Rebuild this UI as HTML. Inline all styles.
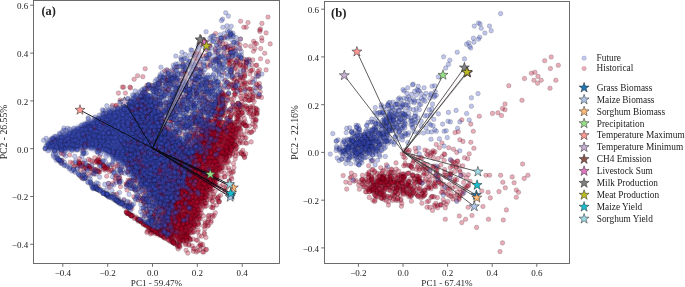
<!DOCTYPE html><html><head><meta charset="utf-8"><style>
html,body{margin:0;padding:0;background:#fff;width:685px;height:287px;overflow:hidden}
svg{position:absolute;left:0;top:0}
.fr{fill:none;stroke:#5c5c5c;stroke-width:0.9}
.tk{stroke:#5c5c5c;stroke-width:0.9}
text{font-family:"Liberation Serif",serif;fill:#222}
.txt{opacity:0.995}
.tl{font-size:9px}
.al{font-size:9.1px}
.pl{font-size:12.3px;font-weight:bold}
.yl{font-size:9.7px}
.lg{font-size:9.3px}
.st{stroke:#222;stroke-width:0.5;stroke-linejoin:miter}
.lf{fill:#3b4cc0;fill-opacity:0.33;stroke:#000;stroke-opacity:0.12;stroke-width:0.5}
.lh{fill:#b40426;fill-opacity:0.33;stroke:#000;stroke-opacity:0.12;stroke-width:0.5}
.bl circle{r:2.3px;fill:#3b4cc0;fill-opacity:0.33;stroke:#000;stroke-opacity:0.3;stroke-width:0.5}
.rd circle{r:2.3px;fill:#b40426;fill-opacity:0.33;stroke:#000;stroke-opacity:0.3;stroke-width:0.5}
.arA line{stroke:#0a0a14;stroke-width:0.9}
.arA.wh line{stroke:#fff;stroke-opacity:0.35;stroke-width:2.0}
.arB line{stroke:#333;stroke-width:0.8}
.arB.wh line{stroke:#fff;stroke-opacity:0.5;stroke-width:2.4}
</style></head><body><svg width="685" height="287" viewBox="0 0 685 287"><clipPath id="ca"><rect x="33.5" y="0.5" width="246.0" height="263.0"/></clipPath><g clip-path="url(#ca)"><defs><filter id="bl3" x="-10%" y="-10%" width="120%" height="120%"><feGaussianBlur stdDeviation="1.8"/></filter></defs><g filter="url(#bl3)"><path d="M202,125 L198,135 L192,150 L183,165 L177,180 L171,195 L165,210 L160.2,222 L155,235 L170,238 L180,243 L186,243 L190,238 L189.7,235 L196.2,222 L201,210 L207,195 L217,180 L223,165 L234,150 L238,135 L240.7,125Z" fill="#9a122c" fill-opacity="0.93"/><path d="M46,149 L46,143 L49,139 L57,135.5 L68,131 L80,125 L94,118 L108,112 L122,105 L135,98 L145,93 L152,96 L158,106 L163,120 L170,132 L182,142 L198,150 L183,180 L171,210 L171,224 L166,215 L158,205 L149,194 L141,183 L130,171 L116,160 L102,152 L88,149 L77,150 L60,152 L46,150Z" fill="#303f9c"/></g><g class="rd"><circle cx="220.2" cy="136.5" r="2.3"/><circle cx="193.3" cy="218.1" r="2.3"/><circle cx="204.6" cy="182.6" r="2.3"/><circle cx="177.8" cy="234.8" r="2.3"/><circle cx="220.6" cy="169.1" r="2.3"/><circle cx="207" cy="193.3" r="2.3"/><circle cx="190.4" cy="189.1" r="2.3"/><circle cx="204.5" cy="192" r="2.3"/><circle cx="241.3" cy="122.8" r="2.3"/><circle cx="228.3" cy="112" r="2.3"/><circle cx="196.9" cy="206.1" r="2.3"/><circle cx="206.8" cy="182.3" r="2.3"/><circle cx="237.8" cy="118.5" r="2.3"/><circle cx="208.5" cy="142.6" r="2.3"/><circle cx="213.8" cy="172.3" r="2.3"/><circle cx="205" cy="176.5" r="2.3"/><circle cx="220.9" cy="135.9" r="2.3"/><circle cx="213.1" cy="177.2" r="2.3"/><circle cx="175.4" cy="221.7" r="2.3"/><circle cx="190.7" cy="239.7" r="2.3"/><circle cx="218.9" cy="141.6" r="2.3"/><circle cx="188.3" cy="189.6" r="2.3"/><circle cx="199.6" cy="170" r="2.3"/><circle cx="213.2" cy="184.1" r="2.3"/><circle cx="168.9" cy="233.6" r="2.3"/><circle cx="203.6" cy="157.9" r="2.3"/><circle cx="205.8" cy="149.4" r="2.3"/><circle cx="224.5" cy="115.7" r="2.3"/><circle cx="192" cy="190.6" r="2.3"/><circle cx="222.3" cy="167.4" r="2.3"/><circle cx="226.1" cy="111.3" r="2.3"/><circle cx="231.1" cy="130.6" r="2.3"/><circle cx="201.4" cy="195.4" r="2.3"/><circle cx="215.2" cy="166.9" r="2.3"/><circle cx="205.7" cy="156" r="2.3"/><circle cx="202.5" cy="204.2" r="2.3"/><circle cx="230.4" cy="146.5" r="2.3"/><circle cx="180.1" cy="225.6" r="2.3"/><circle cx="213.5" cy="143.6" r="2.3"/><circle cx="177.2" cy="232" r="2.3"/><circle cx="229" cy="112.2" r="2.3"/><circle cx="183.3" cy="231.2" r="2.3"/><circle cx="191.4" cy="179.6" r="2.3"/><circle cx="208.1" cy="163.9" r="2.3"/><circle cx="194.5" cy="224.7" r="2.3"/><circle cx="238.2" cy="110.1" r="2.3"/><circle cx="206.5" cy="163.8" r="2.3"/><circle cx="222.7" cy="129.6" r="2.3"/><circle cx="198.1" cy="216.5" r="2.3"/><circle cx="186.2" cy="214.5" r="2.3"/><circle cx="227.2" cy="143.7" r="2.3"/><circle cx="180.6" cy="208.5" r="2.3"/><circle cx="194.8" cy="215.5" r="2.3"/><circle cx="216.5" cy="161" r="2.3"/><circle cx="182.9" cy="227.4" r="2.3"/><circle cx="207.6" cy="195.7" r="2.3"/><circle cx="233.4" cy="137.5" r="2.3"/><circle cx="203.6" cy="205.9" r="2.3"/><circle cx="209.2" cy="170" r="2.3"/><circle cx="201.7" cy="191.4" r="2.3"/><circle cx="219.2" cy="125.9" r="2.3"/><circle cx="215.3" cy="157.8" r="2.3"/><circle cx="223.3" cy="151" r="2.3"/><circle cx="230.1" cy="116.6" r="2.3"/><circle cx="199.9" cy="181.5" r="2.3"/><circle cx="234.5" cy="108.2" r="2.3"/><circle cx="239" cy="112.5" r="2.3"/><circle cx="178.4" cy="224.3" r="2.3"/><circle cx="186.8" cy="232.3" r="2.3"/><circle cx="197.2" cy="185.1" r="2.3"/><circle cx="194.9" cy="178.8" r="2.3"/><circle cx="189.1" cy="203.2" r="2.3"/><circle cx="174.5" cy="227.4" r="2.3"/><circle cx="194.1" cy="189.5" r="2.3"/><circle cx="211.5" cy="151.2" r="2.3"/><circle cx="222.5" cy="114.1" r="2.3"/><circle cx="227.1" cy="148.5" r="2.3"/><circle cx="238.4" cy="119.9" r="2.3"/><circle cx="185.3" cy="227.2" r="2.3"/><circle cx="175.9" cy="226.9" r="2.3"/><circle cx="185" cy="214.2" r="2.3"/><circle cx="211.7" cy="185.1" r="2.3"/><circle cx="233.6" cy="112.8" r="2.3"/><circle cx="187.9" cy="214.7" r="2.3"/><circle cx="178.1" cy="215.1" r="2.3"/><circle cx="204.1" cy="179.3" r="2.3"/><circle cx="232.5" cy="147.1" r="2.3"/><circle cx="195.9" cy="190.4" r="2.3"/><circle cx="173.1" cy="232.9" r="2.3"/><circle cx="243.1" cy="115.2" r="2.3"/><circle cx="183.2" cy="235.8" r="2.3"/><circle cx="187.2" cy="191" r="2.3"/><circle cx="224.7" cy="155.2" r="2.3"/><circle cx="215.8" cy="164.6" r="2.3"/><circle cx="184.1" cy="224.5" r="2.3"/><circle cx="182.9" cy="202.9" r="2.3"/><circle cx="192.1" cy="187.4" r="2.3"/><circle cx="230.7" cy="142" r="2.3"/><circle cx="176.8" cy="230.5" r="2.3"/><circle cx="204.8" cy="197.6" r="2.3"/><circle cx="229.6" cy="134.2" r="2.3"/><circle cx="209.1" cy="145.2" r="2.3"/><circle cx="207.9" cy="175.8" r="2.3"/><circle cx="215.6" cy="132.4" r="2.3"/><circle cx="196.2" cy="168.7" r="2.3"/><circle cx="211.5" cy="191.2" r="2.3"/><circle cx="192.2" cy="214.3" r="2.3"/><circle cx="196.4" cy="168.5" r="2.3"/><circle cx="232" cy="139.4" r="2.3"/><circle cx="206.6" cy="187.8" r="2.3"/><circle cx="228.9" cy="140.9" r="2.3"/><circle cx="210.6" cy="157.3" r="2.3"/><circle cx="206.9" cy="200.1" r="2.3"/><circle cx="201.2" cy="209.7" r="2.3"/><circle cx="230.5" cy="116.7" r="2.3"/><circle cx="195.1" cy="211.1" r="2.3"/><circle cx="210.8" cy="153.6" r="2.3"/><circle cx="182.7" cy="203.1" r="2.3"/><circle cx="214.8" cy="161.9" r="2.3"/><circle cx="213.6" cy="141.7" r="2.3"/><circle cx="192.7" cy="198.9" r="2.3"/><circle cx="231.5" cy="123.3" r="2.3"/><circle cx="194.2" cy="219.1" r="2.3"/><circle cx="238.9" cy="115.3" r="2.3"/><circle cx="212.6" cy="165.5" r="2.3"/><circle cx="210.3" cy="177" r="2.3"/><circle cx="211.2" cy="152.2" r="2.3"/><circle cx="192.7" cy="183.1" r="2.3"/><circle cx="220.4" cy="133.2" r="2.3"/><circle cx="199.8" cy="179.7" r="2.3"/><circle cx="225.7" cy="131.6" r="2.3"/><circle cx="214.5" cy="146.7" r="2.3"/><circle cx="216.5" cy="178.4" r="2.3"/><circle cx="241.4" cy="110.3" r="2.3"/><circle cx="207.1" cy="160.5" r="2.3"/><circle cx="201.2" cy="182.9" r="2.3"/><circle cx="212.4" cy="180.8" r="2.3"/><circle cx="182.5" cy="214.6" r="2.3"/><circle cx="219" cy="126.8" r="2.3"/><circle cx="195.8" cy="181.2" r="2.3"/><circle cx="187.9" cy="190.9" r="2.3"/><circle cx="202.5" cy="163.7" r="2.3"/><circle cx="178.6" cy="218.1" r="2.3"/><circle cx="225.6" cy="138.1" r="2.3"/><circle cx="192.6" cy="205.2" r="2.3"/><circle cx="226.5" cy="156" r="2.3"/><circle cx="206.8" cy="170.4" r="2.3"/><circle cx="233" cy="153.6" r="2.3"/><circle cx="182.2" cy="220.8" r="2.3"/><circle cx="214.8" cy="140" r="2.3"/><circle cx="193.2" cy="221.6" r="2.3"/><circle cx="200.6" cy="198.2" r="2.3"/><circle cx="170.8" cy="237.3" r="2.3"/><circle cx="205" cy="174" r="2.3"/><circle cx="182" cy="217.8" r="2.3"/><circle cx="181.2" cy="204.8" r="2.3"/><circle cx="199.4" cy="171.7" r="2.3"/><circle cx="214.8" cy="181" r="2.3"/><circle cx="204.3" cy="155" r="2.3"/><circle cx="206.7" cy="169.3" r="2.3"/><circle cx="202.3" cy="171.4" r="2.3"/><circle cx="186" cy="243.5" r="2.3"/><circle cx="204.4" cy="155.8" r="2.3"/><circle cx="193.5" cy="187.8" r="2.3"/><circle cx="199.6" cy="199.3" r="2.3"/><circle cx="210.4" cy="181.4" r="2.3"/><circle cx="207.4" cy="146.5" r="2.3"/><circle cx="224.3" cy="152.8" r="2.3"/><circle cx="193.2" cy="197.1" r="2.3"/><circle cx="194.9" cy="191.6" r="2.3"/><circle cx="186.5" cy="201.6" r="2.3"/><circle cx="206.3" cy="195.8" r="2.3"/><circle cx="226.1" cy="157.4" r="2.3"/><circle cx="188.4" cy="198.3" r="2.3"/><circle cx="191.6" cy="176.6" r="2.3"/><circle cx="215.8" cy="184.7" r="2.3"/><circle cx="185.9" cy="215.6" r="2.3"/><circle cx="220.6" cy="130.8" r="2.3"/><circle cx="230" cy="156" r="2.3"/><circle cx="230.3" cy="143.9" r="2.3"/><circle cx="238.8" cy="127.5" r="2.3"/><circle cx="208.4" cy="182.2" r="2.3"/><circle cx="190.2" cy="189" r="2.3"/><circle cx="203.2" cy="188.8" r="2.3"/><circle cx="220.4" cy="125.3" r="2.3"/><circle cx="230.7" cy="110.7" r="2.3"/><circle cx="195.6" cy="226.8" r="2.3"/><circle cx="199.4" cy="218.1" r="2.3"/><circle cx="220.8" cy="120.3" r="2.3"/><circle cx="237.5" cy="115.6" r="2.3"/><circle cx="215.2" cy="138.7" r="2.3"/><circle cx="186.9" cy="236.3" r="2.3"/><circle cx="207.3" cy="174.6" r="2.3"/><circle cx="176" cy="234.5" r="2.3"/><circle cx="216.3" cy="179.5" r="2.3"/><circle cx="174.5" cy="229.6" r="2.3"/><circle cx="222.8" cy="108.2" r="2.3"/><circle cx="210.3" cy="145.7" r="2.3"/><circle cx="237.4" cy="110.1" r="2.3"/><circle cx="185.5" cy="194.2" r="2.3"/><circle cx="228.7" cy="141.1" r="2.3"/><circle cx="186.3" cy="235.6" r="2.3"/><circle cx="181.3" cy="240.2" r="2.3"/><circle cx="236.1" cy="145.6" r="2.3"/><circle cx="216.2" cy="149.9" r="2.3"/><circle cx="203.6" cy="198" r="2.3"/><circle cx="179.2" cy="232" r="2.3"/><circle cx="218" cy="154.9" r="2.3"/><circle cx="222" cy="145.4" r="2.3"/><circle cx="206.3" cy="194.5" r="2.3"/><circle cx="227" cy="141.9" r="2.3"/><circle cx="197.2" cy="167.8" r="2.3"/><circle cx="215.4" cy="185.1" r="2.3"/><circle cx="220.1" cy="156.2" r="2.3"/><circle cx="185" cy="205.2" r="2.3"/><circle cx="187.6" cy="222.9" r="2.3"/><circle cx="202.6" cy="183.9" r="2.3"/><circle cx="216.1" cy="125.1" r="2.3"/><circle cx="238.4" cy="112.7" r="2.3"/><circle cx="201.4" cy="159.7" r="2.3"/><circle cx="215.3" cy="150.2" r="2.3"/><circle cx="186.7" cy="234.1" r="2.3"/><circle cx="216.9" cy="176.8" r="2.3"/><circle cx="224.2" cy="146.8" r="2.3"/><circle cx="185.4" cy="230.3" r="2.3"/><circle cx="202.6" cy="183.4" r="2.3"/><circle cx="213.5" cy="131.5" r="2.3"/><circle cx="183" cy="197.9" r="2.3"/><circle cx="216.5" cy="122.4" r="2.3"/><circle cx="190.8" cy="207.2" r="2.3"/><circle cx="234.9" cy="114.4" r="2.3"/><circle cx="185.4" cy="199" r="2.3"/><circle cx="206.9" cy="186.3" r="2.3"/><circle cx="199.7" cy="186.1" r="2.3"/><circle cx="210.6" cy="152.1" r="2.3"/><circle cx="224.5" cy="126.5" r="2.3"/><circle cx="230.6" cy="123.3" r="2.3"/><circle cx="210.6" cy="140.9" r="2.3"/><circle cx="208" cy="162.1" r="2.3"/><circle cx="189.1" cy="238.4" r="2.3"/><circle cx="224.4" cy="130.7" r="2.3"/><circle cx="190" cy="202.7" r="2.3"/><circle cx="179.1" cy="219.7" r="2.3"/><circle cx="205.5" cy="172.6" r="2.3"/><circle cx="239.8" cy="109.1" r="2.3"/><circle cx="234.7" cy="144" r="2.3"/><circle cx="221.6" cy="171.4" r="2.3"/><circle cx="205.2" cy="186.8" r="2.3"/><circle cx="198.8" cy="189.9" r="2.3"/><circle cx="199.5" cy="176.7" r="2.3"/><circle cx="225.6" cy="149.7" r="2.3"/><circle cx="178.6" cy="213.6" r="2.3"/><circle cx="231.2" cy="124.6" r="2.3"/><circle cx="218.1" cy="164.3" r="2.3"/><circle cx="229.6" cy="152.7" r="2.3"/><circle cx="193.8" cy="227.4" r="2.3"/><circle cx="223.2" cy="145.1" r="2.3"/><circle cx="231.3" cy="139" r="2.3"/><circle cx="226.1" cy="158.2" r="2.3"/><circle cx="181.2" cy="219.2" r="2.3"/><circle cx="212.9" cy="161.5" r="2.3"/><circle cx="204.6" cy="185.9" r="2.3"/><circle cx="225.7" cy="122.4" r="2.3"/><circle cx="236.4" cy="109" r="2.3"/><circle cx="211.1" cy="143.2" r="2.3"/><circle cx="232" cy="122.4" r="2.3"/><circle cx="201.5" cy="161.6" r="2.3"/><circle cx="221.5" cy="140.6" r="2.3"/><circle cx="207" cy="173" r="2.3"/><circle cx="171" cy="234.1" r="2.3"/><circle cx="192.8" cy="223.6" r="2.3"/><circle cx="229.9" cy="121.7" r="2.3"/><circle cx="203.3" cy="167.3" r="2.3"/><circle cx="204.1" cy="191.9" r="2.3"/><circle cx="232.3" cy="154.4" r="2.3"/><circle cx="210.3" cy="161.8" r="2.3"/><circle cx="181" cy="205.2" r="2.3"/><circle cx="219.8" cy="137" r="2.3"/><circle cx="188.3" cy="238" r="2.3"/><circle cx="239.4" cy="128.9" r="2.3"/><circle cx="235.3" cy="144.5" r="2.3"/><circle cx="222.3" cy="122.6" r="2.3"/><circle cx="199.1" cy="200.5" r="2.3"/><circle cx="187.3" cy="224.4" r="2.3"/><circle cx="217.3" cy="148.5" r="2.3"/><circle cx="189.1" cy="213" r="2.3"/><circle cx="179.9" cy="237.6" r="2.3"/><circle cx="209.5" cy="139.9" r="2.3"/><circle cx="214.7" cy="183.3" r="2.3"/><circle cx="200.1" cy="176.8" r="2.3"/><circle cx="221.7" cy="122.2" r="2.3"/><circle cx="226.7" cy="146.1" r="2.3"/><circle cx="224.1" cy="139.6" r="2.3"/><circle cx="191" cy="225.3" r="2.3"/><circle cx="182.9" cy="224" r="2.3"/><circle cx="203.7" cy="182.7" r="2.3"/><circle cx="204.9" cy="173.3" r="2.3"/><circle cx="236.1" cy="148.4" r="2.3"/><circle cx="224.7" cy="129.4" r="2.3"/><circle cx="230.9" cy="115.1" r="2.3"/><circle cx="224.5" cy="129.3" r="2.3"/><circle cx="232.9" cy="130.7" r="2.3"/><circle cx="184.8" cy="234.3" r="2.3"/><circle cx="190.1" cy="181.7" r="2.3"/><circle cx="235.1" cy="137.9" r="2.3"/><circle cx="188.9" cy="197.2" r="2.3"/><circle cx="211.9" cy="168.8" r="2.3"/><circle cx="223.7" cy="122.7" r="2.3"/><circle cx="216" cy="178.7" r="2.3"/><circle cx="196.8" cy="168.2" r="2.3"/><circle cx="194.2" cy="225.2" r="2.3"/><circle cx="187.1" cy="223.4" r="2.3"/><circle cx="207.3" cy="156.4" r="2.3"/><circle cx="192.4" cy="197.6" r="2.3"/><circle cx="217.2" cy="169.1" r="2.3"/><circle cx="208.2" cy="171.1" r="2.3"/><circle cx="199.1" cy="187.1" r="2.3"/><circle cx="199.6" cy="215.8" r="2.3"/><circle cx="185.6" cy="236" r="2.3"/><circle cx="185.9" cy="209.5" r="2.3"/><circle cx="196.2" cy="197.5" r="2.3"/><circle cx="190.5" cy="190.6" r="2.3"/><circle cx="228.2" cy="122.7" r="2.3"/><circle cx="180" cy="241.7" r="2.3"/><circle cx="210.6" cy="168.5" r="2.3"/><circle cx="240.5" cy="114.4" r="2.3"/><circle cx="221.7" cy="112.3" r="2.3"/><circle cx="229" cy="143.6" r="2.3"/><circle cx="205.4" cy="192.4" r="2.3"/><circle cx="192.7" cy="232.7" r="2.3"/><circle cx="201.1" cy="165.6" r="2.3"/><circle cx="198.8" cy="164.2" r="2.3"/><circle cx="195" cy="189.8" r="2.3"/><circle cx="195.7" cy="167.9" r="2.3"/><circle cx="179.8" cy="241.8" r="2.3"/><circle cx="182.4" cy="204.1" r="2.3"/><circle cx="240.1" cy="124.8" r="2.3"/><circle cx="216.8" cy="156.3" r="2.3"/><circle cx="211" cy="177" r="2.3"/><circle cx="240.8" cy="130.7" r="2.3"/><circle cx="201.1" cy="189.9" r="2.3"/><circle cx="193" cy="211.8" r="2.3"/><circle cx="195.3" cy="215.5" r="2.3"/><circle cx="206.6" cy="187.1" r="2.3"/><circle cx="235.9" cy="132.4" r="2.3"/><circle cx="205.9" cy="155.8" r="2.3"/><circle cx="178.3" cy="215.5" r="2.3"/><circle cx="221.5" cy="153.3" r="2.3"/><circle cx="205.1" cy="157.2" r="2.3"/><circle cx="189.8" cy="240.2" r="2.3"/><circle cx="192.3" cy="204.7" r="2.3"/><circle cx="215.1" cy="172.2" r="2.3"/><circle cx="189.7" cy="182.8" r="2.3"/><circle cx="226" cy="153.4" r="2.3"/><circle cx="242.7" cy="111.7" r="2.3"/><circle cx="210.7" cy="189.1" r="2.3"/><circle cx="224.9" cy="153.9" r="2.3"/><circle cx="214.4" cy="155" r="2.3"/><circle cx="181.5" cy="236.8" r="2.3"/><circle cx="203.9" cy="172.9" r="2.3"/><circle cx="230.4" cy="149.9" r="2.3"/><circle cx="238.9" cy="137.2" r="2.3"/><circle cx="173.7" cy="225.4" r="2.3"/><circle cx="192.9" cy="231.2" r="2.3"/><circle cx="190.1" cy="203.9" r="2.3"/><circle cx="214.1" cy="147.7" r="2.3"/><circle cx="217.9" cy="125.4" r="2.3"/><circle cx="179.9" cy="240.8" r="2.3"/><circle cx="212.4" cy="144.1" r="2.3"/><circle cx="184.4" cy="203.4" r="2.3"/><circle cx="233.7" cy="144.9" r="2.3"/><circle cx="190.6" cy="229.5" r="2.3"/><circle cx="197.7" cy="212.8" r="2.3"/><circle cx="188.3" cy="227.1" r="2.3"/><circle cx="193.4" cy="208" r="2.3"/><circle cx="199.8" cy="213.1" r="2.3"/><circle cx="212.7" cy="157.4" r="2.3"/><circle cx="192.1" cy="177.4" r="2.3"/><circle cx="216.5" cy="134.9" r="2.3"/><circle cx="216.6" cy="164.5" r="2.3"/><circle cx="184.4" cy="222.2" r="2.3"/><circle cx="232.9" cy="127.2" r="2.3"/><circle cx="171.6" cy="227.4" r="2.3"/><circle cx="238.7" cy="134.7" r="2.3"/><circle cx="179.5" cy="219.4" r="2.3"/><circle cx="205.4" cy="202.8" r="2.3"/><circle cx="202.6" cy="188.4" r="2.3"/><circle cx="193.6" cy="179.5" r="2.3"/><circle cx="235.2" cy="149.8" r="2.3"/><circle cx="202.5" cy="198.1" r="2.3"/><circle cx="197" cy="209.8" r="2.3"/><circle cx="231.7" cy="142.2" r="2.3"/><circle cx="192.4" cy="187.8" r="2.3"/><circle cx="231" cy="134.6" r="2.3"/><circle cx="230.5" cy="117.1" r="2.3"/><circle cx="185.5" cy="244.6" r="2.3"/><circle cx="184.5" cy="214.8" r="2.3"/><circle cx="193.8" cy="226.9" r="2.3"/><circle cx="189.1" cy="225.8" r="2.3"/><circle cx="194.8" cy="189.3" r="2.3"/><circle cx="191.9" cy="193.6" r="2.3"/><circle cx="194.9" cy="189.6" r="2.3"/><circle cx="240.4" cy="129.4" r="2.3"/><circle cx="223.7" cy="162.8" r="2.3"/><circle cx="196.4" cy="175.3" r="2.3"/><circle cx="213.7" cy="138.5" r="2.3"/><circle cx="202.1" cy="187.7" r="2.3"/><circle cx="184.6" cy="237.7" r="2.3"/><circle cx="197.3" cy="177.3" r="2.3"/><circle cx="187.6" cy="198.6" r="2.3"/><circle cx="238.4" cy="116.7" r="2.3"/><circle cx="193.5" cy="178.3" r="2.3"/><circle cx="172.8" cy="229.4" r="2.3"/><circle cx="217" cy="176.5" r="2.3"/><circle cx="192.5" cy="201.6" r="2.3"/><circle cx="194" cy="223.6" r="2.3"/><circle cx="232.3" cy="140.3" r="2.3"/><circle cx="207.3" cy="158.1" r="2.3"/><circle cx="221.6" cy="167.2" r="2.3"/><circle cx="237.4" cy="117" r="2.3"/><circle cx="209.4" cy="149.8" r="2.3"/><circle cx="236.8" cy="122.1" r="2.3"/><circle cx="198.8" cy="219.2" r="2.3"/><circle cx="214.9" cy="139.1" r="2.3"/><circle cx="181.7" cy="230.2" r="2.3"/><circle cx="205.1" cy="157.8" r="2.3"/><circle cx="242.1" cy="112.9" r="2.3"/><circle cx="206.6" cy="161.6" r="2.3"/><circle cx="193.7" cy="176.9" r="2.3"/><circle cx="234.4" cy="124.3" r="2.3"/><circle cx="227.9" cy="130.9" r="2.3"/><circle cx="210.8" cy="177.7" r="2.3"/><circle cx="189.9" cy="238.9" r="2.3"/><circle cx="209.4" cy="178.9" r="2.3"/><circle cx="195.4" cy="196.8" r="2.3"/><circle cx="187.7" cy="208.3" r="2.3"/><circle cx="196.6" cy="213.5" r="2.3"/><circle cx="201.8" cy="191.8" r="2.3"/><circle cx="232.4" cy="125.5" r="2.3"/><circle cx="214.4" cy="160.2" r="2.3"/><circle cx="188.1" cy="233.2" r="2.3"/><circle cx="214.9" cy="184.8" r="2.3"/><circle cx="232.1" cy="140.5" r="2.3"/><circle cx="180.9" cy="228.2" r="2.3"/><circle cx="219.3" cy="169.3" r="2.3"/><circle cx="186.4" cy="239.9" r="2.3"/><circle cx="194" cy="209.8" r="2.3"/><circle cx="216.7" cy="161.5" r="2.3"/><circle cx="188" cy="220.1" r="2.3"/><circle cx="204.3" cy="201.1" r="2.3"/><circle cx="218.3" cy="141.3" r="2.3"/><circle cx="187.3" cy="210.9" r="2.3"/><circle cx="194.7" cy="211.9" r="2.3"/><circle cx="210.4" cy="187.2" r="2.3"/><circle cx="194.6" cy="170.8" r="2.3"/><circle cx="222.9" cy="153.4" r="2.3"/><circle cx="204.5" cy="179.5" r="2.3"/><circle cx="235.2" cy="122.6" r="2.3"/><circle cx="199.7" cy="186.5" r="2.3"/><circle cx="200.9" cy="175.9" r="2.3"/><circle cx="236.4" cy="121.8" r="2.3"/><circle cx="197.9" cy="222.6" r="2.3"/><circle cx="234.8" cy="125.9" r="2.3"/><circle cx="206.3" cy="158.6" r="2.3"/><circle cx="222" cy="152" r="2.3"/><circle cx="237.5" cy="139.9" r="2.3"/><circle cx="183.3" cy="236.2" r="2.3"/><circle cx="213.3" cy="138.9" r="2.3"/><circle cx="236" cy="133.2" r="2.3"/><circle cx="195" cy="182" r="2.3"/><circle cx="230.3" cy="120.1" r="2.3"/><circle cx="184.7" cy="236.8" r="2.3"/><circle cx="186.3" cy="197.7" r="2.3"/><circle cx="186.2" cy="236.5" r="2.3"/><circle cx="218.8" cy="139.9" r="2.3"/><circle cx="189.2" cy="200" r="2.3"/><circle cx="189.3" cy="231.3" r="2.3"/><circle cx="190.5" cy="198.2" r="2.3"/><circle cx="171.7" cy="238.1" r="2.3"/><circle cx="226.2" cy="148.2" r="2.3"/><circle cx="222.9" cy="110.3" r="2.3"/><circle cx="230.3" cy="147.4" r="2.3"/><circle cx="205.4" cy="198.1" r="2.3"/><circle cx="210.2" cy="180.9" r="2.3"/><circle cx="187.1" cy="198.2" r="2.3"/><circle cx="229" cy="121.8" r="2.3"/><circle cx="197.3" cy="201.9" r="2.3"/><circle cx="180.5" cy="207.5" r="2.3"/><circle cx="182.9" cy="223.8" r="2.3"/><circle cx="196" cy="181.3" r="2.3"/><circle cx="223.3" cy="112.2" r="2.3"/><circle cx="205.4" cy="197.3" r="2.3"/><circle cx="197.7" cy="202" r="2.3"/><circle cx="230.1" cy="133.6" r="2.3"/><circle cx="229.2" cy="109.8" r="2.3"/><circle cx="189.8" cy="207.9" r="2.3"/><circle cx="168.8" cy="233.1" r="2.3"/><circle cx="202.5" cy="167.3" r="2.3"/><circle cx="186.5" cy="192.7" r="2.3"/><circle cx="201.3" cy="213.2" r="2.3"/><circle cx="221.7" cy="137.5" r="2.3"/><circle cx="181.5" cy="227.5" r="2.3"/><circle cx="188.4" cy="202.7" r="2.3"/><circle cx="192" cy="203.2" r="2.3"/><circle cx="209.3" cy="185.9" r="2.3"/><circle cx="211.7" cy="133.7" r="2.3"/><circle cx="197.8" cy="177.5" r="2.3"/><circle cx="203.5" cy="163.3" r="2.3"/><circle cx="230.6" cy="139.9" r="2.3"/><circle cx="228.8" cy="118.5" r="2.3"/><circle cx="213.9" cy="141.6" r="2.3"/><circle cx="184.2" cy="219.1" r="2.3"/><circle cx="188.2" cy="236.3" r="2.3"/><circle cx="196.2" cy="175.7" r="2.3"/><circle cx="237.5" cy="121" r="2.3"/><circle cx="215.5" cy="170.4" r="2.3"/><circle cx="192.2" cy="174.8" r="2.3"/><circle cx="220" cy="140.2" r="2.3"/><circle cx="240.4" cy="118.8" r="2.3"/><circle cx="190.4" cy="208.2" r="2.3"/><circle cx="217.7" cy="150.2" r="2.3"/><circle cx="189.6" cy="206.6" r="2.3"/><circle cx="196.6" cy="219.1" r="2.3"/><circle cx="237" cy="128.9" r="2.3"/><circle cx="219.2" cy="140.2" r="2.3"/><circle cx="209.2" cy="157.7" r="2.3"/><circle cx="203.5" cy="153.3" r="2.3"/><circle cx="182" cy="204.7" r="2.3"/><circle cx="184.8" cy="206.5" r="2.3"/><circle cx="222.5" cy="152.2" r="2.3"/><circle cx="187.9" cy="219" r="2.3"/><circle cx="224.8" cy="116" r="2.3"/><circle cx="231.6" cy="147.4" r="2.3"/><circle cx="198.8" cy="217.7" r="2.3"/><circle cx="182.6" cy="227.6" r="2.3"/><circle cx="212.7" cy="162.3" r="2.3"/><circle cx="231.4" cy="149.1" r="2.3"/><circle cx="227.4" cy="150.1" r="2.3"/><circle cx="226.8" cy="124" r="2.3"/><circle cx="197.9" cy="187.1" r="2.3"/><circle cx="218.3" cy="131" r="2.3"/><circle cx="196.6" cy="202.5" r="2.3"/><circle cx="190.6" cy="219.2" r="2.3"/><circle cx="210" cy="189.7" r="2.3"/><circle cx="224.1" cy="109.5" r="2.3"/><circle cx="205" cy="203.5" r="2.3"/><circle cx="180.7" cy="228.1" r="2.3"/><circle cx="187.4" cy="222.1" r="2.3"/><circle cx="202.3" cy="176.6" r="2.3"/><circle cx="195.7" cy="170.9" r="2.3"/><circle cx="217.3" cy="149.2" r="2.3"/><circle cx="185" cy="215.5" r="2.3"/><circle cx="229.4" cy="138.3" r="2.3"/><circle cx="225.9" cy="146.8" r="2.3"/><circle cx="209.7" cy="161" r="2.3"/><circle cx="210.1" cy="192.6" r="2.3"/><circle cx="183" cy="240.6" r="2.3"/><circle cx="208.3" cy="174.2" r="2.3"/><circle cx="168.9" cy="236.6" r="2.3"/><circle cx="182.3" cy="224.6" r="2.3"/><circle cx="211.7" cy="145.9" r="2.3"/><circle cx="226.4" cy="151.5" r="2.3"/><circle cx="188.1" cy="204.9" r="2.3"/><circle cx="227.6" cy="151.8" r="2.3"/><circle cx="181.3" cy="204.1" r="2.3"/><circle cx="194.2" cy="171" r="2.3"/><circle cx="233.1" cy="130" r="2.3"/><circle cx="185.1" cy="193.1" r="2.3"/><circle cx="184.6" cy="195.7" r="2.3"/><circle cx="190.8" cy="216.6" r="2.3"/><circle cx="191.4" cy="232.1" r="2.3"/><circle cx="182" cy="229.7" r="2.3"/><circle cx="199.3" cy="175.3" r="2.3"/><circle cx="192.6" cy="196.9" r="2.3"/><circle cx="236.5" cy="118.5" r="2.3"/><circle cx="198.8" cy="210" r="2.3"/><circle cx="186.3" cy="238.2" r="2.3"/><circle cx="226.2" cy="127.2" r="2.3"/><circle cx="227.3" cy="137.3" r="2.3"/><circle cx="222.1" cy="114.9" r="2.3"/><circle cx="228.8" cy="156.2" r="2.3"/><circle cx="220.3" cy="117.6" r="2.3"/><circle cx="206" cy="161.3" r="2.3"/><circle cx="241.9" cy="112.9" r="2.3"/><circle cx="178.7" cy="239.4" r="2.3"/><circle cx="224.5" cy="132.2" r="2.3"/><circle cx="235.5" cy="113.5" r="2.3"/><circle cx="242.3" cy="123.1" r="2.3"/><circle cx="202.7" cy="191.3" r="2.3"/><circle cx="196.1" cy="205.9" r="2.3"/><circle cx="192.8" cy="216.5" r="2.3"/><circle cx="212.5" cy="171.6" r="2.3"/><circle cx="186.6" cy="198.9" r="2.3"/><circle cx="210.5" cy="174" r="2.3"/><circle cx="211.2" cy="152.8" r="2.3"/><circle cx="212.8" cy="188.5" r="2.3"/><circle cx="199" cy="183.8" r="2.3"/><circle cx="187.8" cy="192.8" r="2.3"/><circle cx="177.2" cy="235.9" r="2.3"/><circle cx="190.6" cy="218.3" r="2.3"/><circle cx="187.3" cy="218.3" r="2.3"/><circle cx="171" cy="229.8" r="2.3"/><circle cx="215.7" cy="161.8" r="2.3"/><circle cx="216.7" cy="123.3" r="2.3"/><circle cx="205.6" cy="184.3" r="2.3"/><circle cx="208.9" cy="147.6" r="2.3"/><circle cx="186.7" cy="240.8" r="2.3"/><circle cx="230.6" cy="124.8" r="2.3"/><circle cx="199.1" cy="196.3" r="2.3"/><circle cx="226.3" cy="158.3" r="2.3"/><circle cx="169.7" cy="236" r="2.3"/><circle cx="204.6" cy="184.4" r="2.3"/><circle cx="201.4" cy="198.1" r="2.3"/><circle cx="233.1" cy="127" r="2.3"/><circle cx="227.3" cy="118.2" r="2.3"/><circle cx="235.7" cy="145.6" r="2.3"/><circle cx="209.1" cy="163.3" r="2.3"/><circle cx="220" cy="153.2" r="2.3"/><circle cx="171.3" cy="239.1" r="2.3"/><circle cx="209.2" cy="178.1" r="2.3"/><circle cx="179" cy="221.2" r="2.3"/><circle cx="195.9" cy="193.5" r="2.3"/><circle cx="195.3" cy="225.2" r="2.3"/><circle cx="225.8" cy="160.5" r="2.3"/><circle cx="221.7" cy="151.8" r="2.3"/><circle cx="223.5" cy="127.7" r="2.3"/><circle cx="201.3" cy="201.8" r="2.3"/><circle cx="210.4" cy="180.9" r="2.3"/><circle cx="214.7" cy="161.7" r="2.3"/><circle cx="194.8" cy="204.9" r="2.3"/><circle cx="182.6" cy="217.3" r="2.3"/><circle cx="191" cy="203.7" r="2.3"/><circle cx="226.5" cy="123.7" r="2.3"/><circle cx="211.4" cy="144.1" r="2.3"/><circle cx="201.8" cy="179.5" r="2.3"/><circle cx="230.1" cy="152.9" r="2.3"/><circle cx="219.6" cy="121.8" r="2.3"/><circle cx="179.3" cy="219.4" r="2.3"/><circle cx="208.3" cy="157.1" r="2.3"/><circle cx="227.5" cy="126.8" r="2.3"/><circle cx="199.1" cy="173" r="2.3"/><circle cx="226.3" cy="120.6" r="2.3"/><circle cx="220.2" cy="167.5" r="2.3"/><circle cx="214.6" cy="154.7" r="2.3"/><circle cx="186.9" cy="208" r="2.3"/><circle cx="225.1" cy="163.2" r="2.3"/><circle cx="242.2" cy="124.6" r="2.3"/><circle cx="230.8" cy="108.6" r="2.3"/><circle cx="231.2" cy="150.1" r="2.3"/><circle cx="183.6" cy="223.1" r="2.3"/><circle cx="217.4" cy="142.6" r="2.3"/><circle cx="216.8" cy="181.6" r="2.3"/><circle cx="207.4" cy="150.9" r="2.3"/><circle cx="196.5" cy="176.5" r="2.3"/><circle cx="244.5" cy="75.4" r="2.3"/><circle cx="235.7" cy="87.6" r="2.3"/><circle cx="246.9" cy="97.2" r="2.3"/><circle cx="247.1" cy="61.9" r="2.3"/><circle cx="236.1" cy="91.4" r="2.3"/><circle cx="250.4" cy="106.7" r="2.3"/><circle cx="251.2" cy="89.1" r="2.3"/><circle cx="246.4" cy="70.3" r="2.3"/><circle cx="244.9" cy="75.8" r="2.3"/><circle cx="235.2" cy="67.6" r="2.3"/><circle cx="234.1" cy="84.3" r="2.3"/><circle cx="224.5" cy="102.2" r="2.3"/><circle cx="232.6" cy="103.5" r="2.3"/><circle cx="231.2" cy="84.3" r="2.3"/><circle cx="249.5" cy="89" r="2.3"/><circle cx="258.2" cy="96.9" r="2.3"/><circle cx="241.1" cy="77.3" r="2.3"/><circle cx="237.7" cy="80.9" r="2.3"/><circle cx="234" cy="94.8" r="2.3"/><circle cx="226.2" cy="100.6" r="2.3"/><circle cx="236" cy="105.4" r="2.3"/><circle cx="231.3" cy="99" r="2.3"/><circle cx="256.3" cy="73.6" r="2.3"/><circle cx="244.5" cy="99.2" r="2.3"/><circle cx="259.7" cy="87.7" r="2.3"/><circle cx="240.1" cy="90" r="2.3"/><circle cx="246.4" cy="60.8" r="2.3"/><circle cx="244.9" cy="107.4" r="2.3"/><circle cx="243.5" cy="65.3" r="2.3"/><circle cx="234.2" cy="106.8" r="2.3"/><circle cx="238.7" cy="59.7" r="2.3"/><circle cx="233.3" cy="87.6" r="2.3"/><circle cx="228.4" cy="83" r="2.3"/><circle cx="241.2" cy="92.9" r="2.3"/><circle cx="233" cy="65.7" r="2.3"/><circle cx="240.5" cy="65.4" r="2.3"/><circle cx="244.3" cy="77.4" r="2.3"/><circle cx="256" cy="65.5" r="2.3"/><circle cx="243.1" cy="70.9" r="2.3"/><circle cx="244.3" cy="84.6" r="2.3"/><circle cx="246.7" cy="93.7" r="2.3"/><circle cx="259.5" cy="69.8" r="2.3"/><circle cx="228.6" cy="100.3" r="2.3"/><circle cx="250.6" cy="99.9" r="2.3"/><circle cx="231.8" cy="69.5" r="2.3"/><circle cx="254.2" cy="101.5" r="2.3"/><circle cx="260.2" cy="92" r="2.3"/><circle cx="246.1" cy="95.8" r="2.3"/><circle cx="252.6" cy="97.8" r="2.3"/><circle cx="236.5" cy="82" r="2.3"/><circle cx="246.4" cy="83.5" r="2.3"/><circle cx="231.9" cy="73" r="2.3"/><circle cx="248.9" cy="59.3" r="2.3"/><circle cx="238.9" cy="104.8" r="2.3"/><circle cx="229.2" cy="84.6" r="2.3"/><circle cx="230.2" cy="61.4" r="2.3"/><circle cx="246.4" cy="106.3" r="2.3"/><circle cx="238.3" cy="107.3" r="2.3"/><circle cx="234.9" cy="93.7" r="2.3"/><circle cx="256.7" cy="65.1" r="2.3"/><circle cx="251.2" cy="71.1" r="2.3"/><circle cx="237.7" cy="63.2" r="2.3"/><circle cx="257.9" cy="71.5" r="2.3"/><circle cx="237.8" cy="103.2" r="2.3"/><circle cx="238.2" cy="87.9" r="2.3"/><circle cx="245.4" cy="99.9" r="2.3"/><circle cx="239.8" cy="105.4" r="2.3"/><circle cx="242.6" cy="104.9" r="2.3"/><circle cx="228.2" cy="60.1" r="2.3"/><circle cx="252.8" cy="78.6" r="2.3"/><circle cx="232.9" cy="103.2" r="2.3"/><circle cx="245.9" cy="66.9" r="2.3"/><circle cx="245" cy="89.2" r="2.3"/><circle cx="245.8" cy="65.7" r="2.3"/><circle cx="257.9" cy="76.4" r="2.3"/><circle cx="244.3" cy="73.1" r="2.3"/><circle cx="237.1" cy="81.6" r="2.3"/><circle cx="232.1" cy="78.2" r="2.3"/><circle cx="252.8" cy="106" r="2.3"/><circle cx="248.7" cy="108.6" r="2.3"/><circle cx="232.7" cy="107.1" r="2.3"/><circle cx="253.2" cy="93.8" r="2.3"/><circle cx="240.4" cy="96.3" r="2.3"/><circle cx="224.4" cy="106.2" r="2.3"/><circle cx="230" cy="64.2" r="2.3"/><circle cx="250" cy="94.9" r="2.3"/><circle cx="239.2" cy="66.6" r="2.3"/><circle cx="229.5" cy="59.7" r="2.3"/><circle cx="244" cy="59" r="2.3"/><circle cx="244.4" cy="83.4" r="2.3"/><circle cx="234" cy="59.5" r="2.3"/><circle cx="238" cy="103.5" r="2.3"/><circle cx="251.5" cy="95.5" r="2.3"/><circle cx="233.9" cy="64.7" r="2.3"/><circle cx="252.8" cy="59.9" r="2.3"/><circle cx="240.4" cy="75.5" r="2.3"/><circle cx="234" cy="87.6" r="2.3"/><circle cx="241.9" cy="101.4" r="2.3"/><circle cx="247.5" cy="109.9" r="2.3"/><circle cx="230.9" cy="72.3" r="2.3"/><circle cx="235.9" cy="63.2" r="2.3"/><circle cx="233.1" cy="83.5" r="2.3"/><circle cx="237.4" cy="71.6" r="2.3"/><circle cx="253" cy="96.5" r="2.3"/><circle cx="258.9" cy="86" r="2.3"/><circle cx="245.2" cy="89" r="2.3"/><circle cx="258.9" cy="73.8" r="2.3"/><circle cx="256.1" cy="83.9" r="2.3"/><circle cx="252.7" cy="99.7" r="2.3"/><circle cx="233.5" cy="88.8" r="2.3"/><circle cx="240" cy="64.4" r="2.3"/><circle cx="235.4" cy="62.5" r="2.3"/><circle cx="249.4" cy="81.9" r="2.3"/><circle cx="246.3" cy="62.3" r="2.3"/><circle cx="242.9" cy="80.6" r="2.3"/><circle cx="244.8" cy="82.1" r="2.3"/><circle cx="235.9" cy="61.8" r="2.3"/><circle cx="229.3" cy="67.1" r="2.3"/><circle cx="243" cy="66.5" r="2.3"/><circle cx="235.4" cy="95.2" r="2.3"/><circle cx="249.2" cy="100.4" r="2.3"/><circle cx="249.9" cy="74.1" r="2.3"/><circle cx="248.6" cy="100.4" r="2.3"/><circle cx="250" cy="89.4" r="2.3"/><circle cx="238.2" cy="57.7" r="2.3"/><circle cx="239.8" cy="61.4" r="2.3"/><circle cx="233.6" cy="98.6" r="2.3"/><circle cx="245.4" cy="105.9" r="2.3"/><circle cx="256.4" cy="96.1" r="2.3"/><circle cx="251.6" cy="91.1" r="2.3"/><circle cx="243.9" cy="61.9" r="2.3"/><circle cx="241.9" cy="106.6" r="2.3"/><circle cx="250.5" cy="108" r="2.3"/><circle cx="237.9" cy="103.2" r="2.3"/><circle cx="250.8" cy="82.9" r="2.3"/><circle cx="240.1" cy="77.4" r="2.3"/><circle cx="236.6" cy="75.2" r="2.3"/><circle cx="240.7" cy="88.7" r="2.3"/><circle cx="247.2" cy="87.7" r="2.3"/><circle cx="241.5" cy="84.7" r="2.3"/><circle cx="233.8" cy="85.3" r="2.3"/><circle cx="233.8" cy="89.3" r="2.3"/><circle cx="234.1" cy="79.1" r="2.3"/><circle cx="240" cy="90.1" r="2.3"/><circle cx="234.8" cy="68.8" r="2.3"/><circle cx="240.3" cy="106.7" r="2.3"/><circle cx="259.2" cy="96.3" r="2.3"/><circle cx="259.4" cy="83.5" r="2.3"/><circle cx="246.6" cy="62.7" r="2.3"/><circle cx="250.9" cy="70.1" r="2.3"/><circle cx="244.1" cy="68.2" r="2.3"/><circle cx="242.4" cy="77.6" r="2.3"/><circle cx="257.1" cy="84.8" r="2.3"/><circle cx="252.6" cy="69.7" r="2.3"/><circle cx="242.1" cy="85.1" r="2.3"/><circle cx="234.3" cy="78.6" r="2.3"/><circle cx="235.1" cy="93.8" r="2.3"/><circle cx="245.2" cy="95.6" r="2.3"/><circle cx="228.8" cy="86.7" r="2.3"/><circle cx="240.3" cy="104.8" r="2.3"/><circle cx="256.2" cy="88.3" r="2.3"/><circle cx="239.9" cy="80.3" r="2.3"/><circle cx="241.2" cy="98.5" r="2.3"/><circle cx="248.8" cy="60.5" r="2.3"/><circle cx="251.8" cy="64.8" r="2.3"/><circle cx="249.6" cy="99.5" r="2.3"/><circle cx="225.8" cy="43.7" r="2.3"/><circle cx="259.8" cy="29.9" r="2.3"/><circle cx="259.9" cy="31.4" r="2.3"/><circle cx="245.5" cy="45.6" r="2.3"/><circle cx="256.4" cy="43.8" r="2.3"/><circle cx="230.5" cy="45.7" r="2.3"/><circle cx="260.7" cy="48.6" r="2.3"/><circle cx="253.6" cy="41.3" r="2.3"/><circle cx="254.9" cy="48.6" r="2.3"/><circle cx="246.2" cy="27.3" r="2.3"/><circle cx="240.6" cy="21.2" r="2.3"/><circle cx="261.7" cy="37.9" r="2.3"/><circle cx="270.2" cy="43.9" r="2.3"/><circle cx="203.9" cy="226.3" r="2.3"/><circle cx="244.7" cy="157.1" r="2.3"/><circle cx="244.4" cy="157.5" r="2.3"/><circle cx="243.1" cy="154.5" r="2.3"/><circle cx="217.9" cy="198.4" r="2.3"/><circle cx="252.7" cy="124" r="2.3"/><circle cx="214.8" cy="191.6" r="2.3"/><circle cx="255.5" cy="126.8" r="2.3"/><circle cx="203.7" cy="252" r="2.3"/><circle cx="257.2" cy="112.9" r="2.3"/><circle cx="228.4" cy="162.2" r="2.3"/><circle cx="235.1" cy="158.9" r="2.3"/><circle cx="177.5" cy="244.8" r="2.3"/><circle cx="233.2" cy="171.4" r="2.3"/><circle cx="249.3" cy="132.8" r="2.3"/><circle cx="197.8" cy="232.1" r="2.3"/><circle cx="193.1" cy="239" r="2.3"/><circle cx="245.1" cy="125.1" r="2.3"/><circle cx="241.7" cy="154" r="2.3"/><circle cx="199.3" cy="235.6" r="2.3"/><circle cx="246.4" cy="126.3" r="2.3"/><circle cx="212.4" cy="207.7" r="2.3"/><circle cx="198.2" cy="230.3" r="2.3"/><circle cx="245.7" cy="143" r="2.3"/><circle cx="196.2" cy="252" r="2.3"/><circle cx="255.1" cy="119.7" r="2.3"/><circle cx="208.4" cy="225.2" r="2.3"/><circle cx="220.1" cy="186.2" r="2.3"/><circle cx="207.7" cy="226" r="2.3"/><circle cx="186.1" cy="250.3" r="2.3"/><circle cx="240.5" cy="142.2" r="2.3"/><circle cx="243.7" cy="155.3" r="2.3"/><circle cx="204.8" cy="228.9" r="2.3"/><circle cx="256.1" cy="110.1" r="2.3"/><circle cx="205" cy="221.7" r="2.3"/><circle cx="248" cy="112.6" r="2.3"/><circle cx="256.1" cy="113.2" r="2.3"/><circle cx="213.4" cy="194.2" r="2.3"/><circle cx="204.1" cy="232.9" r="2.3"/><circle cx="209.1" cy="215.3" r="2.3"/><circle cx="200" cy="245" r="2.3"/><circle cx="243.9" cy="134.6" r="2.3"/><circle cx="256" cy="108.5" r="2.3"/><circle cx="237" cy="147.5" r="2.3"/><circle cx="224.7" cy="176.8" r="2.3"/><circle cx="240.1" cy="141" r="2.3"/><circle cx="224.3" cy="190" r="2.3"/><circle cx="257" cy="114.5" r="2.3"/><circle cx="203.4" cy="248.1" r="2.3"/><circle cx="235.7" cy="156" r="2.3"/><circle cx="203.5" cy="215.9" r="2.3"/><circle cx="205.8" cy="249.8" r="2.3"/><circle cx="244.8" cy="138.4" r="2.3"/><circle cx="256.3" cy="108.7" r="2.3"/><circle cx="211.2" cy="220.9" r="2.3"/><circle cx="243.6" cy="123.5" r="2.3"/><circle cx="189" cy="244.6" r="2.3"/><circle cx="246.9" cy="131.1" r="2.3"/><circle cx="251.3" cy="116.7" r="2.3"/><circle cx="216.6" cy="205.1" r="2.3"/><circle cx="228.2" cy="160.9" r="2.3"/><circle cx="178.2" cy="249" r="2.3"/><circle cx="205.2" cy="223.5" r="2.3"/><circle cx="200.7" cy="245.6" r="2.3"/><circle cx="198.7" cy="223.3" r="2.3"/><circle cx="254.6" cy="125.5" r="2.3"/><circle cx="245.7" cy="153.7" r="2.3"/><circle cx="197.6" cy="240.3" r="2.3"/><circle cx="222.9" cy="184.4" r="2.3"/><circle cx="255.6" cy="121.8" r="2.3"/><circle cx="177.5" cy="247" r="2.3"/><circle cx="229.2" cy="180.8" r="2.3"/><circle cx="238.8" cy="143.5" r="2.3"/><circle cx="214.1" cy="215.6" r="2.3"/><circle cx="202.7" cy="244.5" r="2.3"/><circle cx="187.8" cy="253.1" r="2.3"/><circle cx="237.9" cy="154" r="2.3"/><circle cx="193.3" cy="251.3" r="2.3"/><circle cx="205.3" cy="225.2" r="2.3"/><circle cx="219.3" cy="201.4" r="2.3"/><circle cx="249.5" cy="113.5" r="2.3"/><circle cx="225.4" cy="191.3" r="2.3"/><circle cx="245.2" cy="121.7" r="2.3"/><circle cx="212.1" cy="200.6" r="2.3"/><circle cx="228.6" cy="167.9" r="2.3"/><circle cx="218.8" cy="188.4" r="2.3"/><circle cx="197.8" cy="251" r="2.3"/><circle cx="243.9" cy="123.4" r="2.3"/><circle cx="245.8" cy="125.6" r="2.3"/><circle cx="201.6" cy="236.3" r="2.3"/><circle cx="206.2" cy="205.9" r="2.3"/><circle cx="232.9" cy="172.5" r="2.3"/><circle cx="206.7" cy="203" r="2.3"/><circle cx="241.4" cy="153.2" r="2.3"/><circle cx="204.7" cy="234.1" r="2.3"/><circle cx="208.7" cy="218.7" r="2.3"/><circle cx="253.5" cy="116.8" r="2.3"/><circle cx="226.6" cy="163.1" r="2.3"/><circle cx="204.8" cy="206.8" r="2.3"/><circle cx="208.5" cy="220.5" r="2.3"/><circle cx="246.5" cy="108.8" r="2.3"/><circle cx="224.8" cy="176.6" r="2.3"/><circle cx="210.9" cy="207" r="2.3"/><circle cx="224.4" cy="187.5" r="2.3"/><circle cx="231.1" cy="177" r="2.3"/><circle cx="194.4" cy="248.6" r="2.3"/><circle cx="199" cy="225.1" r="2.3"/><circle cx="221.6" cy="177.8" r="2.3"/><circle cx="196.4" cy="240.1" r="2.3"/><circle cx="251.2" cy="141.9" r="2.3"/><circle cx="256.6" cy="113.2" r="2.3"/><circle cx="213" cy="207.7" r="2.3"/><circle cx="218.6" cy="201.5" r="2.3"/><circle cx="192.2" cy="245.7" r="2.3"/><circle cx="199.5" cy="249.9" r="2.3"/><circle cx="241.3" cy="152.1" r="2.3"/><circle cx="188.9" cy="245.2" r="2.3"/><circle cx="218.7" cy="196.5" r="2.3"/><circle cx="253.6" cy="130.3" r="2.3"/><circle cx="231.9" cy="178.8" r="2.3"/><circle cx="254.2" cy="112" r="2.3"/><circle cx="246.7" cy="143.2" r="2.3"/><circle cx="257.6" cy="110" r="2.3"/><circle cx="210.8" cy="222.4" r="2.3"/><circle cx="236.3" cy="152.3" r="2.3"/><circle cx="251.6" cy="132.2" r="2.3"/><circle cx="198.6" cy="246.5" r="2.3"/><circle cx="233.5" cy="163.4" r="2.3"/><circle cx="208.3" cy="216.2" r="2.3"/><circle cx="205.9" cy="237.5" r="2.3"/><circle cx="212" cy="215.3" r="2.3"/><circle cx="242.8" cy="150.4" r="2.3"/><circle cx="252.8" cy="114.9" r="2.3"/><circle cx="231.1" cy="172.5" r="2.3"/><circle cx="175.7" cy="243.1" r="2.3"/><circle cx="193.4" cy="248.7" r="2.3"/><circle cx="246.9" cy="125.5" r="2.3"/><circle cx="253.7" cy="107.7" r="2.3"/><circle cx="224.3" cy="173.1" r="2.3"/><circle cx="253.7" cy="113.8" r="2.3"/><circle cx="198" cy="224.1" r="2.3"/><circle cx="255.7" cy="119.6" r="2.3"/><circle cx="241.5" cy="134.7" r="2.3"/><circle cx="206.5" cy="249.4" r="2.3"/><circle cx="256.3" cy="120.1" r="2.3"/><circle cx="202.7" cy="252" r="2.3"/><circle cx="213.3" cy="205.2" r="2.3"/><circle cx="207.2" cy="222.7" r="2.3"/><circle cx="200.9" cy="243.8" r="2.3"/><circle cx="212.6" cy="197.2" r="2.3"/><circle cx="194" cy="231.7" r="2.3"/><circle cx="220.6" cy="195.2" r="2.3"/><circle cx="244.4" cy="118.7" r="2.3"/><circle cx="210.6" cy="197.4" r="2.3"/><circle cx="245.2" cy="126" r="2.3"/><circle cx="246" cy="137.7" r="2.3"/><circle cx="219.3" cy="201.7" r="2.3"/><circle cx="209.9" cy="199.3" r="2.3"/><circle cx="217.7" cy="197.8" r="2.3"/><circle cx="234" cy="167.6" r="2.3"/><circle cx="242.5" cy="137.6" r="2.3"/><circle cx="249.4" cy="126.1" r="2.3"/><circle cx="229.3" cy="181.2" r="2.3"/><circle cx="228.9" cy="173.7" r="2.3"/><circle cx="225.3" cy="167.7" r="2.3"/><circle cx="226.6" cy="187.6" r="2.3"/><circle cx="250.6" cy="110.4" r="2.3"/><circle cx="214.2" cy="196.5" r="2.3"/><circle cx="217.3" cy="199.8" r="2.3"/><circle cx="200.5" cy="219" r="2.3"/><circle cx="229.3" cy="170.1" r="2.3"/><circle cx="215.3" cy="212.8" r="2.3"/><circle cx="212.7" cy="216.9" r="2.3"/><circle cx="242.5" cy="142.9" r="2.3"/><circle cx="253" cy="120.5" r="2.3"/><circle cx="250.3" cy="112.2" r="2.3"/><circle cx="212.6" cy="201.4" r="2.3"/><circle cx="208.6" cy="128.2" r="2.3"/><circle cx="216.2" cy="110.6" r="2.3"/><circle cx="188.3" cy="190.1" r="2.3"/><circle cx="174.7" cy="195.9" r="2.3"/><circle cx="221.8" cy="110.1" r="2.3"/><circle cx="189.1" cy="189.1" r="2.3"/><circle cx="216.5" cy="119.5" r="2.3"/><circle cx="166.2" cy="229" r="2.3"/><circle cx="187.1" cy="191.3" r="2.3"/><circle cx="211.1" cy="141.4" r="2.3"/><circle cx="178.5" cy="200" r="2.3"/><circle cx="179.3" cy="185.3" r="2.3"/><circle cx="222" cy="105.8" r="2.3"/><circle cx="192.7" cy="155.6" r="2.3"/><circle cx="182.4" cy="181.3" r="2.3"/><circle cx="183.3" cy="191.2" r="2.3"/><circle cx="212.4" cy="136.3" r="2.3"/><circle cx="220.4" cy="112.9" r="2.3"/><circle cx="205.7" cy="132.6" r="2.3"/><circle cx="216.6" cy="103.7" r="2.3"/><circle cx="177.9" cy="210.4" r="2.3"/><circle cx="207.6" cy="131.9" r="2.3"/><circle cx="181.9" cy="199.5" r="2.3"/><circle cx="222.2" cy="100.9" r="2.3"/><circle cx="176.3" cy="213.8" r="2.3"/><circle cx="221.2" cy="95" r="2.3"/><circle cx="220.8" cy="115.4" r="2.3"/><circle cx="184.4" cy="188.2" r="2.3"/><circle cx="172.4" cy="211.5" r="2.3"/><circle cx="210.1" cy="142.2" r="2.3"/><circle cx="164" cy="224" r="2.3"/><circle cx="205.9" cy="135.8" r="2.3"/><circle cx="187.4" cy="184.5" r="2.3"/><circle cx="220.8" cy="113.5" r="2.3"/><circle cx="188.4" cy="171.8" r="2.3"/><circle cx="161.9" cy="227.8" r="2.3"/><circle cx="217.8" cy="116.8" r="2.3"/><circle cx="220.8" cy="111.4" r="2.3"/><circle cx="178.2" cy="204.7" r="2.3"/><circle cx="194.9" cy="161.3" r="2.3"/><circle cx="219.4" cy="115" r="2.3"/><circle cx="201.2" cy="149.9" r="2.3"/><circle cx="188" cy="164.8" r="2.3"/><circle cx="186" cy="189.2" r="2.3"/><circle cx="221.1" cy="109.3" r="2.3"/><circle cx="217.7" cy="113.7" r="2.3"/><circle cx="174.5" cy="210.4" r="2.3"/><circle cx="181.5" cy="179.3" r="2.3"/><circle cx="188.4" cy="175.2" r="2.3"/><circle cx="197.4" cy="147.8" r="2.3"/><circle cx="181.3" cy="194.2" r="2.3"/><circle cx="173.2" cy="226.3" r="2.3"/><circle cx="198.4" cy="152.2" r="2.3"/><circle cx="181.4" cy="203.3" r="2.3"/><circle cx="204.5" cy="139.8" r="2.3"/><circle cx="209.8" cy="141.1" r="2.3"/><circle cx="163.3" cy="234.1" r="2.3"/><circle cx="201.9" cy="140.7" r="2.3"/><circle cx="179.2" cy="196" r="2.3"/><circle cx="196.5" cy="152" r="2.3"/><circle cx="189.2" cy="180.8" r="2.3"/><circle cx="217.9" cy="121.1" r="2.3"/><circle cx="213.7" cy="121.6" r="2.3"/><circle cx="222.7" cy="105.1" r="2.3"/><circle cx="201.7" cy="152.7" r="2.3"/><circle cx="186.6" cy="179.4" r="2.3"/><circle cx="184.6" cy="180.6" r="2.3"/><circle cx="221.7" cy="97.7" r="2.3"/><circle cx="177.2" cy="192.4" r="2.3"/><circle cx="203.7" cy="136.2" r="2.3"/><circle cx="179.1" cy="192.5" r="2.3"/><circle cx="171.4" cy="224.8" r="2.3"/><circle cx="192" cy="177.4" r="2.3"/><circle cx="208.9" cy="124.5" r="2.3"/><circle cx="208.3" cy="127.7" r="2.3"/><circle cx="187.6" cy="170.5" r="2.3"/><circle cx="192.4" cy="169.5" r="2.3"/><circle cx="191.6" cy="178.3" r="2.3"/><circle cx="192.3" cy="163.1" r="2.3"/><circle cx="164.2" cy="230.7" r="2.3"/><circle cx="208.5" cy="144.5" r="2.3"/><circle cx="228" cy="97.2" r="2.3"/><circle cx="183.1" cy="196.4" r="2.3"/><circle cx="188.6" cy="184.8" r="2.3"/><circle cx="196.5" cy="149.8" r="2.3"/><circle cx="201.7" cy="140.7" r="2.3"/><circle cx="192.4" cy="170" r="2.3"/><circle cx="165.1" cy="224.5" r="2.3"/><circle cx="217.3" cy="95.8" r="2.3"/><circle cx="174.2" cy="201.1" r="2.3"/><circle cx="182.7" cy="176.5" r="2.3"/><circle cx="174.6" cy="221.8" r="2.3"/><circle cx="186.1" cy="179.5" r="2.3"/><circle cx="187.6" cy="183" r="2.3"/><circle cx="174.7" cy="203" r="2.3"/><circle cx="169.8" cy="214.7" r="2.3"/><circle cx="221" cy="109.3" r="2.3"/><circle cx="170.9" cy="226.5" r="2.3"/><circle cx="214" cy="125.2" r="2.3"/><circle cx="215.6" cy="118.4" r="2.3"/><circle cx="210.2" cy="132.6" r="2.3"/><circle cx="169.5" cy="223.5" r="2.3"/><circle cx="176.7" cy="216.8" r="2.3"/><circle cx="162" cy="229.1" r="2.3"/><circle cx="207.2" cy="141.2" r="2.3"/><circle cx="208.3" cy="121" r="2.3"/><circle cx="222.6" cy="104.5" r="2.3"/><circle cx="223.1" cy="105.9" r="2.3"/><circle cx="175.8" cy="195.7" r="2.3"/><circle cx="172.3" cy="204.3" r="2.3"/><circle cx="172.9" cy="229.8" r="2.3"/><circle cx="216.1" cy="102" r="2.3"/><circle cx="182.4" cy="190" r="2.3"/><circle cx="203.8" cy="131.8" r="2.3"/><circle cx="226.4" cy="94.4" r="2.3"/><circle cx="198.4" cy="145.5" r="2.3"/><circle cx="175.2" cy="216.3" r="2.3"/><circle cx="199.7" cy="145.2" r="2.3"/><circle cx="199.3" cy="158.1" r="2.3"/><circle cx="210.5" cy="143" r="2.3"/><circle cx="189" cy="173.9" r="2.3"/><circle cx="173.8" cy="201.3" r="2.3"/><circle cx="208.3" cy="148.2" r="2.3"/><circle cx="182.1" cy="181.7" r="2.3"/><circle cx="199.3" cy="156.1" r="2.3"/><circle cx="170.7" cy="228" r="2.3"/><circle cx="172" cy="218.2" r="2.3"/><circle cx="197.4" cy="156.5" r="2.3"/><circle cx="203.8" cy="151.5" r="2.3"/><circle cx="208.4" cy="120.5" r="2.3"/><circle cx="212.8" cy="110.4" r="2.3"/><circle cx="190.8" cy="178.8" r="2.3"/><circle cx="204.6" cy="144.7" r="2.3"/><circle cx="178.5" cy="206.1" r="2.3"/><circle cx="217.1" cy="109.9" r="2.3"/><circle cx="181.8" cy="203.3" r="2.3"/><circle cx="228.5" cy="93.7" r="2.3"/><circle cx="167.3" cy="224.2" r="2.3"/><circle cx="221.3" cy="98.6" r="2.3"/><circle cx="205.7" cy="132.2" r="2.3"/><circle cx="205.5" cy="139.8" r="2.3"/><circle cx="191" cy="173" r="2.3"/><circle cx="190.5" cy="179.2" r="2.3"/><circle cx="218.7" cy="95" r="2.3"/><circle cx="176.8" cy="219.1" r="2.3"/><circle cx="179.6" cy="211.7" r="2.3"/><circle cx="211.4" cy="140.5" r="2.3"/><circle cx="170.4" cy="207.1" r="2.3"/><circle cx="210" cy="126.6" r="2.3"/><circle cx="198" cy="166.5" r="2.3"/><circle cx="180" cy="201.5" r="2.3"/><circle cx="178.9" cy="190.3" r="2.3"/><circle cx="170.4" cy="234.9" r="2.3"/><circle cx="222" cy="96.3" r="2.3"/><circle cx="215" cy="130.1" r="2.3"/><circle cx="171.1" cy="218.6" r="2.3"/><circle cx="192.4" cy="167" r="2.3"/><circle cx="214" cy="111.9" r="2.3"/><circle cx="186.3" cy="182.7" r="2.3"/><circle cx="206.2" cy="135.8" r="2.3"/><circle cx="222.1" cy="109.5" r="2.3"/><circle cx="185.4" cy="180.2" r="2.3"/><circle cx="184.1" cy="182.3" r="2.3"/><circle cx="180.8" cy="187.2" r="2.3"/><circle cx="222.8" cy="99.7" r="2.3"/><circle cx="169.7" cy="230.7" r="2.3"/><circle cx="216.4" cy="128.7" r="2.3"/><circle cx="205" cy="144" r="2.3"/><circle cx="195.1" cy="154.3" r="2.3"/><circle cx="213.6" cy="115.5" r="2.3"/><circle cx="204.3" cy="156.1" r="2.3"/><circle cx="200.8" cy="159.9" r="2.3"/><circle cx="204.5" cy="151.7" r="2.3"/><circle cx="194.3" cy="172" r="2.3"/><circle cx="164.6" cy="229.4" r="2.3"/><circle cx="197.3" cy="151" r="2.3"/><circle cx="213.5" cy="114.6" r="2.3"/><circle cx="170.6" cy="234.5" r="2.3"/><circle cx="181" cy="207.7" r="2.3"/><circle cx="217.7" cy="105.8" r="2.3"/><circle cx="219.4" cy="102.6" r="2.3"/><circle cx="174.2" cy="206.3" r="2.3"/><circle cx="200" cy="145.5" r="2.3"/><circle cx="214.6" cy="119.2" r="2.3"/><circle cx="168.4" cy="220.4" r="2.3"/><circle cx="173.3" cy="219.3" r="2.3"/><circle cx="204.4" cy="129.3" r="2.3"/><circle cx="216.7" cy="99.4" r="2.3"/><circle cx="196.7" cy="151.4" r="2.3"/><circle cx="175.3" cy="223" r="2.3"/><circle cx="206.6" cy="141.1" r="2.3"/><circle cx="178.4" cy="191.2" r="2.3"/><circle cx="215.6" cy="106.2" r="2.3"/><circle cx="218" cy="116.2" r="2.3"/><circle cx="185.1" cy="178.7" r="2.3"/><circle cx="163.8" cy="230.7" r="2.3"/><circle cx="218.7" cy="102.1" r="2.3"/><circle cx="190.8" cy="171.4" r="2.3"/><circle cx="218.9" cy="103.1" r="2.3"/><circle cx="192.2" cy="167.2" r="2.3"/><circle cx="178.2" cy="195.9" r="2.3"/><circle cx="207.7" cy="138.9" r="2.3"/><circle cx="215.4" cy="112.9" r="2.3"/><circle cx="175.9" cy="210.2" r="2.3"/><circle cx="220.2" cy="108.6" r="2.3"/><circle cx="205.8" cy="125.6" r="2.3"/><circle cx="206.5" cy="148.9" r="2.3"/><circle cx="215.2" cy="118.8" r="2.3"/><circle cx="178.5" cy="213.7" r="2.3"/><circle cx="198.3" cy="150.4" r="2.3"/><circle cx="193.5" cy="160.1" r="2.3"/><circle cx="199.9" cy="156.6" r="2.3"/><circle cx="209.3" cy="118.1" r="2.3"/><circle cx="206.7" cy="145.8" r="2.3"/><circle cx="209.8" cy="138.4" r="2.3"/><circle cx="215.3" cy="123.6" r="2.3"/><circle cx="215.3" cy="110.2" r="2.3"/><circle cx="171.1" cy="217" r="2.3"/><circle cx="213.1" cy="134.8" r="2.3"/><circle cx="189.1" cy="183.1" r="2.3"/><circle cx="172" cy="228.7" r="2.3"/><circle cx="188.8" cy="178.1" r="2.3"/><circle cx="223.4" cy="95.3" r="2.3"/><circle cx="176.3" cy="212.5" r="2.3"/><circle cx="198.7" cy="146.8" r="2.3"/><circle cx="170.9" cy="210.9" r="2.3"/><circle cx="209.3" cy="139.2" r="2.3"/><circle cx="211.4" cy="138.9" r="2.3"/><circle cx="196.4" cy="159.7" r="2.3"/><circle cx="192.2" cy="168.6" r="2.3"/><circle cx="189.8" cy="176.5" r="2.3"/><circle cx="205.5" cy="132.7" r="2.3"/><circle cx="206.4" cy="124.9" r="2.3"/><circle cx="224.3" cy="107.2" r="2.3"/><circle cx="199.5" cy="157.8" r="2.3"/><circle cx="217.4" cy="114.8" r="2.3"/><circle cx="196" cy="156.4" r="2.3"/><circle cx="187.4" cy="177.4" r="2.3"/><circle cx="187.3" cy="172.4" r="2.3"/><circle cx="171.5" cy="232.3" r="2.3"/><circle cx="178.5" cy="191.5" r="2.3"/><circle cx="212.5" cy="129.6" r="2.3"/><circle cx="178.5" cy="202.9" r="2.3"/><circle cx="185.6" cy="189.7" r="2.3"/><circle cx="225.7" cy="103.6" r="2.3"/><circle cx="173.7" cy="206.1" r="2.3"/><circle cx="189.8" cy="168.6" r="2.3"/><circle cx="218.8" cy="121.4" r="2.3"/><circle cx="200.2" cy="143.5" r="2.3"/><circle cx="184.1" cy="190.3" r="2.3"/><circle cx="218.2" cy="121.7" r="2.3"/><circle cx="208.1" cy="139.2" r="2.3"/><circle cx="208.9" cy="121.5" r="2.3"/><circle cx="223.2" cy="96.8" r="2.3"/><circle cx="162.5" cy="226.7" r="2.3"/><circle cx="205.6" cy="130.3" r="2.3"/><circle cx="200.1" cy="159.4" r="2.3"/><circle cx="175.1" cy="208.2" r="2.3"/><circle cx="177.4" cy="202.4" r="2.3"/><circle cx="188.8" cy="178.2" r="2.3"/><circle cx="197.3" cy="155.9" r="2.3"/><circle cx="195.5" cy="155.5" r="2.3"/><circle cx="184.7" cy="171.2" r="2.3"/><circle cx="177.7" cy="217.2" r="2.3"/><circle cx="210.9" cy="121.3" r="2.3"/><circle cx="206.7" cy="137.1" r="2.3"/><circle cx="222.6" cy="103.3" r="2.3"/><circle cx="188.3" cy="173.6" r="2.3"/><circle cx="183" cy="184.8" r="2.3"/><circle cx="212.2" cy="132.2" r="2.3"/><circle cx="207.4" cy="133.4" r="2.3"/><circle cx="199.9" cy="144.6" r="2.3"/><circle cx="218.9" cy="102.6" r="2.3"/><circle cx="174.5" cy="206.5" r="2.3"/><circle cx="171.1" cy="218.7" r="2.3"/><circle cx="179.6" cy="184.3" r="2.3"/><circle cx="167" cy="220.4" r="2.3"/><circle cx="222.9" cy="93.5" r="2.3"/><circle cx="172.4" cy="209.2" r="2.3"/><circle cx="192.6" cy="157.8" r="2.3"/><circle cx="199.6" cy="155" r="2.3"/><circle cx="212.5" cy="126.8" r="2.3"/><circle cx="193.1" cy="176.7" r="2.3"/><circle cx="192.1" cy="159" r="2.3"/><circle cx="213" cy="129.2" r="2.3"/><circle cx="216" cy="108.1" r="2.3"/><circle cx="213.2" cy="121.3" r="2.3"/><circle cx="188.5" cy="181.6" r="2.3"/><circle cx="209.9" cy="120" r="2.3"/><circle cx="177.5" cy="211.7" r="2.3"/><circle cx="200.1" cy="150.8" r="2.3"/><circle cx="219.8" cy="99.1" r="2.3"/><circle cx="210.1" cy="129.9" r="2.3"/><circle cx="220.2" cy="114.1" r="2.3"/><circle cx="214.5" cy="133.4" r="2.3"/><circle cx="207.4" cy="141.4" r="2.3"/><circle cx="177.7" cy="193.5" r="2.3"/><circle cx="226.8" cy="96.2" r="2.3"/><circle cx="215.1" cy="115.3" r="2.3"/><circle cx="176.8" cy="211.8" r="2.3"/><circle cx="185.3" cy="192" r="2.3"/><circle cx="217.3" cy="109.7" r="2.3"/><circle cx="217.1" cy="120.4" r="2.3"/><circle cx="220.2" cy="111.5" r="2.3"/><circle cx="196.6" cy="160.1" r="2.3"/><circle cx="218.2" cy="98.5" r="2.3"/><circle cx="176.8" cy="197.8" r="2.3"/><circle cx="221.4" cy="98.4" r="2.3"/><circle cx="191.8" cy="161.6" r="2.3"/><circle cx="182.4" cy="179.5" r="2.3"/><circle cx="178.2" cy="188.2" r="2.3"/><circle cx="204" cy="139.4" r="2.3"/><circle cx="170.8" cy="217.1" r="2.3"/><circle cx="175.8" cy="220" r="2.3"/><circle cx="181.5" cy="192.2" r="2.3"/><circle cx="191.8" cy="175.7" r="2.3"/><circle cx="167.2" cy="223.7" r="2.3"/><circle cx="211.2" cy="133.6" r="2.3"/><circle cx="189.7" cy="164.2" r="2.3"/><circle cx="197.2" cy="156.5" r="2.3"/><circle cx="224" cy="95.6" r="2.3"/><circle cx="186.2" cy="193.7" r="2.3"/><circle cx="176.4" cy="195.3" r="2.3"/><circle cx="202.9" cy="144" r="2.3"/><circle cx="217.5" cy="124.1" r="2.3"/><circle cx="219.3" cy="103.8" r="2.3"/><circle cx="198" cy="160" r="2.3"/><circle cx="184.5" cy="173.6" r="2.3"/><circle cx="185.9" cy="179.7" r="2.3"/><circle cx="176.2" cy="214.7" r="2.3"/><circle cx="166" cy="225.6" r="2.3"/><circle cx="182.4" cy="193.6" r="2.3"/><circle cx="174.8" cy="202.4" r="2.3"/><circle cx="174.2" cy="222.2" r="2.3"/><circle cx="214.3" cy="114.1" r="2.3"/><circle cx="199.8" cy="150.5" r="2.3"/><circle cx="194.6" cy="155.8" r="2.3"/><circle cx="173.6" cy="215.1" r="2.3"/><circle cx="206.9" cy="131.6" r="2.3"/><circle cx="197.2" cy="153.7" r="2.3"/><circle cx="173.6" cy="205.6" r="2.3"/><circle cx="182.1" cy="206.5" r="2.3"/><circle cx="217.3" cy="123.3" r="2.3"/><circle cx="185.4" cy="152.3" r="2.3"/><circle cx="156.1" cy="209.7" r="2.3"/><circle cx="180" cy="163.8" r="2.3"/><circle cx="153" cy="215.7" r="2.3"/><circle cx="162.8" cy="207.1" r="2.3"/><circle cx="186.5" cy="158.7" r="2.3"/><circle cx="165" cy="215.2" r="2.3"/><circle cx="198.9" cy="142.2" r="2.3"/><circle cx="195.6" cy="117" r="2.3"/><circle cx="198.3" cy="129.4" r="2.3"/><circle cx="208.5" cy="112.4" r="2.3"/><circle cx="152" cy="230.2" r="2.3"/><circle cx="154.4" cy="219.9" r="2.3"/><circle cx="195.3" cy="136.1" r="2.3"/><circle cx="179.1" cy="158.8" r="2.3"/><circle cx="201.2" cy="116.4" r="2.3"/><circle cx="147.4" cy="231.3" r="2.3"/><circle cx="160" cy="227.3" r="2.3"/><circle cx="185.6" cy="154.9" r="2.3"/><circle cx="161.5" cy="226.7" r="2.3"/><circle cx="179.2" cy="175.4" r="2.3"/><circle cx="150.2" cy="229.9" r="2.3"/><circle cx="172.6" cy="173.7" r="2.3"/><circle cx="194.2" cy="140.4" r="2.3"/><circle cx="196.6" cy="130.9" r="2.3"/><circle cx="180" cy="172.4" r="2.3"/><circle cx="172.2" cy="170.7" r="2.3"/><circle cx="174" cy="181.2" r="2.3"/><circle cx="191.7" cy="148.5" r="2.3"/><circle cx="151.7" cy="225.5" r="2.3"/><circle cx="197.7" cy="141" r="2.3"/><circle cx="176.2" cy="164.6" r="2.3"/><circle cx="150.6" cy="234" r="2.3"/><circle cx="210.3" cy="100.1" r="2.3"/><circle cx="159.6" cy="207.8" r="2.3"/><circle cx="195.5" cy="121.8" r="2.3"/><circle cx="153.7" cy="217.4" r="2.3"/><circle cx="164.9" cy="206.5" r="2.3"/><circle cx="170.2" cy="184.5" r="2.3"/><circle cx="203.5" cy="109.9" r="2.3"/><circle cx="192.3" cy="135.9" r="2.3"/><circle cx="188.1" cy="150.2" r="2.3"/><circle cx="201" cy="110.8" r="2.3"/><circle cx="183" cy="168" r="2.3"/><circle cx="196.5" cy="140.9" r="2.3"/><circle cx="161.8" cy="222.5" r="2.3"/><circle cx="171.4" cy="198.3" r="2.3"/><circle cx="201.7" cy="128" r="2.3"/><circle cx="150.8" cy="232.3" r="2.3"/><circle cx="182.4" cy="153" r="2.3"/><circle cx="190.8" cy="128.6" r="2.3"/><circle cx="171.2" cy="199.4" r="2.3"/><circle cx="171.7" cy="192.3" r="2.3"/><circle cx="185.8" cy="142.4" r="2.3"/><circle cx="167.4" cy="209" r="2.3"/><circle cx="186.8" cy="144" r="2.3"/><circle cx="174" cy="188.6" r="2.3"/><circle cx="177.4" cy="161.3" r="2.3"/><circle cx="168.5" cy="210.1" r="2.3"/><circle cx="156.9" cy="232.5" r="2.3"/><circle cx="153.6" cy="216.7" r="2.3"/><circle cx="172.7" cy="190.9" r="2.3"/><circle cx="205.3" cy="100.4" r="2.3"/><circle cx="190.1" cy="146.1" r="2.3"/><circle cx="174.3" cy="165.6" r="2.3"/><circle cx="201.2" cy="115.4" r="2.3"/><circle cx="171.9" cy="181" r="2.3"/><circle cx="169.4" cy="200.9" r="2.3"/><circle cx="151.7" cy="229.6" r="2.3"/><circle cx="167.7" cy="201.4" r="2.3"/><circle cx="182.8" cy="155.7" r="2.3"/><circle cx="191.2" cy="138.9" r="2.3"/><circle cx="156" cy="213" r="2.3"/><circle cx="181.5" cy="166" r="2.3"/><circle cx="181.9" cy="171.6" r="2.3"/><circle cx="198.6" cy="123.8" r="2.3"/><circle cx="178.2" cy="158.4" r="2.3"/><circle cx="194.7" cy="118.6" r="2.3"/><circle cx="168.1" cy="179.9" r="2.3"/><circle cx="174.2" cy="180.7" r="2.3"/><circle cx="155.7" cy="211.7" r="2.3"/><circle cx="211.9" cy="109.5" r="2.3"/><circle cx="162.8" cy="213.8" r="2.3"/><circle cx="156.6" cy="232.1" r="2.3"/><circle cx="204.2" cy="127.8" r="2.3"/><circle cx="160.3" cy="219.4" r="2.3"/><circle cx="168.3" cy="183.2" r="2.3"/><circle cx="167.8" cy="187.1" r="2.3"/><circle cx="164.6" cy="196.7" r="2.3"/><circle cx="166" cy="187.9" r="2.3"/><circle cx="199.8" cy="125.3" r="2.3"/><circle cx="180.2" cy="163.1" r="2.3"/><circle cx="213.2" cy="105.3" r="2.3"/><circle cx="179.7" cy="177.7" r="2.3"/><circle cx="162" cy="219.1" r="2.3"/><circle cx="162.7" cy="219.7" r="2.3"/><circle cx="206.9" cy="106.1" r="2.3"/><circle cx="182.3" cy="167.5" r="2.3"/><circle cx="177" cy="188.2" r="2.3"/><circle cx="157.4" cy="216.8" r="2.3"/><circle cx="179.2" cy="155.6" r="2.3"/><circle cx="181.4" cy="162.3" r="2.3"/><circle cx="157.6" cy="225.6" r="2.3"/><circle cx="194.8" cy="118.8" r="2.3"/><circle cx="176.4" cy="164" r="2.3"/><circle cx="158.4" cy="215.4" r="2.3"/><circle cx="193.8" cy="144.5" r="2.3"/><circle cx="211.3" cy="101.7" r="2.3"/><circle cx="169.1" cy="204.1" r="2.3"/><circle cx="148.6" cy="230.1" r="2.3"/><circle cx="198.9" cy="123.1" r="2.3"/><circle cx="175.1" cy="168" r="2.3"/><circle cx="200.8" cy="103.1" r="2.3"/><circle cx="202.6" cy="123.8" r="2.3"/><circle cx="195.7" cy="116.1" r="2.3"/><circle cx="182.4" cy="176.5" r="2.3"/><circle cx="181.4" cy="156.5" r="2.3"/><circle cx="187.6" cy="140.6" r="2.3"/><circle cx="185.6" cy="160.3" r="2.3"/><circle cx="179.2" cy="182.9" r="2.3"/><circle cx="188.4" cy="139.4" r="2.3"/><circle cx="182.2" cy="165.3" r="2.3"/><circle cx="202.7" cy="117.8" r="2.3"/><circle cx="189.7" cy="156.2" r="2.3"/><circle cx="146.9" cy="232.5" r="2.3"/><circle cx="156.7" cy="209.1" r="2.3"/><circle cx="180.8" cy="160.2" r="2.3"/><circle cx="206" cy="122.9" r="2.3"/><circle cx="202.9" cy="130.9" r="2.3"/><circle cx="184.6" cy="148.5" r="2.3"/><circle cx="160.2" cy="206" r="2.3"/><circle cx="158.9" cy="220.1" r="2.3"/><circle cx="163.8" cy="205.6" r="2.3"/><circle cx="181.2" cy="158.1" r="2.3"/><circle cx="167.1" cy="180.2" r="2.3"/><circle cx="151.9" cy="233" r="2.3"/><circle cx="159.2" cy="225.1" r="2.3"/><circle cx="157.9" cy="222.8" r="2.3"/><circle cx="201.6" cy="131.9" r="2.3"/><circle cx="209.4" cy="109.2" r="2.3"/><circle cx="167" cy="214.7" r="2.3"/><circle cx="171.9" cy="183.7" r="2.3"/><circle cx="201.6" cy="136" r="2.3"/><circle cx="155.3" cy="233.4" r="2.3"/><circle cx="204.6" cy="120.7" r="2.3"/><circle cx="167.2" cy="207.3" r="2.3"/><circle cx="183" cy="162" r="2.3"/><circle cx="189.5" cy="138.5" r="2.3"/><circle cx="153" cy="216.9" r="2.3"/><circle cx="204" cy="109.2" r="2.3"/><circle cx="179.5" cy="168.8" r="2.3"/><circle cx="197.1" cy="122.6" r="2.3"/><circle cx="174.7" cy="193.8" r="2.3"/><circle cx="157.9" cy="202.7" r="2.3"/><circle cx="161.4" cy="202" r="2.3"/><circle cx="207.7" cy="119.7" r="2.3"/><circle cx="154.4" cy="221" r="2.3"/><circle cx="178.5" cy="158.6" r="2.3"/><circle cx="163.7" cy="214.8" r="2.3"/><circle cx="180.3" cy="165.9" r="2.3"/><circle cx="161.9" cy="216" r="2.3"/><circle cx="195.3" cy="123.1" r="2.3"/><circle cx="207.4" cy="102.3" r="2.3"/><circle cx="199" cy="119.7" r="2.3"/><circle cx="175.4" cy="164.7" r="2.3"/><circle cx="196.7" cy="137.1" r="2.3"/><circle cx="194.6" cy="148.6" r="2.3"/><circle cx="163.7" cy="194.9" r="2.3"/><circle cx="195" cy="134.1" r="2.3"/><circle cx="171.2" cy="170.4" r="2.3"/><circle cx="170.4" cy="121.2" r="2.3"/><circle cx="172.4" cy="165" r="2.3"/><circle cx="132.7" cy="163" r="2.3"/><circle cx="157.8" cy="103.5" r="2.3"/><circle cx="141.4" cy="136.5" r="2.3"/><circle cx="186.9" cy="94.4" r="2.3"/><circle cx="166.1" cy="207.4" r="2.3"/><circle cx="154.5" cy="210.4" r="2.3"/><circle cx="159.5" cy="182" r="2.3"/><circle cx="141" cy="186.9" r="2.3"/><circle cx="156.3" cy="180.5" r="2.3"/><circle cx="166.6" cy="153" r="2.3"/><circle cx="202.3" cy="92" r="2.3"/><circle cx="152.3" cy="181.8" r="2.3"/><circle cx="141.5" cy="159.2" r="2.3"/><circle cx="172.7" cy="119.5" r="2.3"/><circle cx="132.4" cy="162.9" r="2.3"/><circle cx="135.2" cy="190.3" r="2.3"/><circle cx="205.5" cy="93.8" r="2.3"/><circle cx="185.6" cy="165.7" r="2.3"/><circle cx="180.7" cy="119.4" r="2.3"/><circle cx="196.5" cy="88.5" r="2.3"/><circle cx="144.6" cy="130.9" r="2.3"/><circle cx="165.5" cy="91.5" r="2.3"/><circle cx="153.9" cy="133.7" r="2.3"/><circle cx="140.8" cy="110" r="2.3"/><circle cx="148.1" cy="211.7" r="2.3"/><circle cx="175.3" cy="83.5" r="2.3"/><circle cx="208.4" cy="122.3" r="2.3"/><circle cx="140.7" cy="171.4" r="2.3"/><circle cx="161.1" cy="174.3" r="2.3"/><circle cx="173.4" cy="174.5" r="2.3"/><circle cx="195.1" cy="133.5" r="2.3"/><circle cx="148.8" cy="180.8" r="2.3"/><circle cx="178" cy="99.4" r="2.3"/><circle cx="177.3" cy="157.7" r="2.3"/><circle cx="173.2" cy="201.4" r="2.3"/><circle cx="164.7" cy="210.5" r="2.3"/><circle cx="151.1" cy="219.6" r="2.3"/><circle cx="172" cy="157.1" r="2.3"/><circle cx="161.4" cy="121.5" r="2.3"/><circle cx="192.8" cy="135.7" r="2.3"/><circle cx="181.2" cy="80.3" r="2.3"/><circle cx="150.6" cy="190.2" r="2.3"/><circle cx="175.7" cy="193.5" r="2.3"/><circle cx="143.4" cy="203.1" r="2.3"/><circle cx="168.8" cy="169.2" r="2.3"/><circle cx="185" cy="78" r="2.3"/><circle cx="172.7" cy="186.2" r="2.3"/><circle cx="139.3" cy="140.5" r="2.3"/><circle cx="174.5" cy="103.5" r="2.3"/><circle cx="197.6" cy="112.4" r="2.3"/><circle cx="168.8" cy="160.5" r="2.3"/><circle cx="140.2" cy="198.3" r="2.3"/><circle cx="190.9" cy="131.1" r="2.3"/><circle cx="198.8" cy="110.9" r="2.3"/><circle cx="192.5" cy="144.3" r="2.3"/><circle cx="199" cy="147.1" r="2.3"/><circle cx="132.3" cy="180.6" r="2.3"/><circle cx="171.3" cy="152.5" r="2.3"/><circle cx="154.5" cy="178.1" r="2.3"/><circle cx="197.4" cy="135.9" r="2.3"/><circle cx="168.5" cy="153.6" r="2.3"/><circle cx="202.6" cy="125.8" r="2.3"/><circle cx="158.2" cy="99.5" r="2.3"/><circle cx="176.6" cy="122" r="2.3"/><circle cx="165" cy="181.7" r="2.3"/><circle cx="168.6" cy="129.1" r="2.3"/><circle cx="127.3" cy="154.2" r="2.3"/><circle cx="160.3" cy="175.9" r="2.3"/><circle cx="172.7" cy="198.7" r="2.3"/><circle cx="176.4" cy="91.3" r="2.3"/><circle cx="212.2" cy="86.7" r="2.3"/><circle cx="185.9" cy="170.3" r="2.3"/><circle cx="133.2" cy="170" r="2.3"/><circle cx="179.9" cy="125.2" r="2.3"/><circle cx="137.4" cy="147.7" r="2.3"/><circle cx="185" cy="157.2" r="2.3"/><circle cx="187.7" cy="127.4" r="2.3"/><circle cx="142.3" cy="164.8" r="2.3"/><circle cx="201.9" cy="130.9" r="2.3"/><circle cx="135.2" cy="175.6" r="2.3"/><circle cx="161.7" cy="140.7" r="2.3"/><circle cx="208.1" cy="105.7" r="2.3"/><circle cx="198.1" cy="84.5" r="2.3"/><circle cx="155" cy="86.6" r="2.3"/><circle cx="151.7" cy="145.6" r="2.3"/><circle cx="163" cy="214.4" r="2.3"/><circle cx="175.8" cy="132.4" r="2.3"/><circle cx="174.2" cy="109.5" r="2.3"/><circle cx="162.6" cy="118.7" r="2.3"/><circle cx="202.6" cy="125.1" r="2.3"/><circle cx="176" cy="135.2" r="2.3"/><circle cx="154.9" cy="222.6" r="2.3"/><circle cx="168.6" cy="134.7" r="2.3"/><circle cx="129.6" cy="180.5" r="2.3"/><circle cx="136.9" cy="143" r="2.3"/><circle cx="167.4" cy="76.4" r="2.3"/><circle cx="127.7" cy="154.8" r="2.3"/><circle cx="135.1" cy="179.5" r="2.3"/><circle cx="145.7" cy="198.4" r="2.3"/><circle cx="155" cy="129.8" r="2.3"/><circle cx="158.1" cy="187.2" r="2.3"/><circle cx="154.3" cy="215" r="2.3"/><circle cx="145.6" cy="205.4" r="2.3"/><circle cx="146.8" cy="85.5" r="2.3"/><circle cx="155.6" cy="143.5" r="2.3"/><circle cx="188.2" cy="140.6" r="2.3"/><circle cx="146.7" cy="89.7" r="2.3"/><circle cx="181.8" cy="74" r="2.3"/><circle cx="193.7" cy="105.3" r="2.3"/><circle cx="152.7" cy="205.3" r="2.3"/><circle cx="138.2" cy="195.8" r="2.3"/><circle cx="151.9" cy="98.9" r="2.3"/><circle cx="203" cy="83.9" r="2.3"/><circle cx="159.4" cy="169.5" r="2.3"/><circle cx="170.9" cy="121.7" r="2.3"/><circle cx="200.7" cy="142.1" r="2.3"/><circle cx="196.1" cy="134.2" r="2.3"/><circle cx="139.4" cy="167.6" r="2.3"/><circle cx="155.9" cy="211.9" r="2.3"/><circle cx="152.2" cy="144.6" r="2.3"/><circle cx="192.3" cy="81.1" r="2.3"/><circle cx="204.7" cy="119.7" r="2.3"/><circle cx="191.8" cy="74.4" r="2.3"/><circle cx="162.6" cy="147.8" r="2.3"/><circle cx="170.2" cy="154.2" r="2.3"/><circle cx="160.1" cy="81.3" r="2.3"/><circle cx="144" cy="200.7" r="2.3"/><circle cx="191.4" cy="155.8" r="2.3"/><circle cx="193.7" cy="104.6" r="2.3"/><circle cx="169.3" cy="145.7" r="2.3"/><circle cx="156" cy="146.9" r="2.3"/><circle cx="136.5" cy="162.2" r="2.3"/><circle cx="185.1" cy="157.8" r="2.3"/><circle cx="184.6" cy="143.4" r="2.3"/><circle cx="159.1" cy="126" r="2.3"/><circle cx="211.2" cy="82.4" r="2.3"/><circle cx="138.2" cy="132.3" r="2.3"/><circle cx="142.3" cy="175.2" r="2.3"/><circle cx="175.9" cy="153.6" r="2.3"/><circle cx="160.7" cy="151.3" r="2.3"/><circle cx="191.2" cy="124.3" r="2.3"/><circle cx="144.4" cy="102.6" r="2.3"/><circle cx="127.6" cy="161.3" r="2.3"/><circle cx="188.4" cy="101.1" r="2.3"/><circle cx="178.6" cy="146.2" r="2.3"/><circle cx="152.3" cy="165.4" r="2.3"/><circle cx="165.3" cy="155.6" r="2.3"/><circle cx="155" cy="154.7" r="2.3"/><circle cx="139.3" cy="112.5" r="2.3"/><circle cx="140.5" cy="153.8" r="2.3"/><circle cx="182.3" cy="162.6" r="2.3"/><circle cx="154" cy="172.9" r="2.3"/><circle cx="165.1" cy="218.9" r="2.3"/><circle cx="157.9" cy="93.6" r="2.3"/><circle cx="165.3" cy="120.8" r="2.3"/><circle cx="160.3" cy="81.9" r="2.3"/><circle cx="144.5" cy="202.5" r="2.3"/><circle cx="159.2" cy="187.6" r="2.3"/><circle cx="190.4" cy="117.7" r="2.3"/><circle cx="149.4" cy="110.3" r="2.3"/><circle cx="170.9" cy="180.9" r="2.3"/><circle cx="172.9" cy="113.9" r="2.3"/><circle cx="199.6" cy="139.1" r="2.3"/><circle cx="169.3" cy="150.4" r="2.3"/><circle cx="157.8" cy="219.5" r="2.3"/><circle cx="134.8" cy="129.6" r="2.3"/><circle cx="207" cy="81.6" r="2.3"/><circle cx="141.7" cy="151.4" r="2.3"/><circle cx="178.6" cy="171.9" r="2.3"/><circle cx="206.5" cy="83.7" r="2.3"/><circle cx="194" cy="117" r="2.3"/><circle cx="170.1" cy="186.8" r="2.3"/><circle cx="153.2" cy="179.9" r="2.3"/><circle cx="173" cy="157.6" r="2.3"/><circle cx="177.7" cy="135.7" r="2.3"/><circle cx="196.3" cy="93.1" r="2.3"/><circle cx="146.7" cy="210.9" r="2.3"/><circle cx="144.5" cy="198.6" r="2.3"/><circle cx="194.2" cy="81.7" r="2.3"/><circle cx="177.3" cy="79.9" r="2.3"/><circle cx="127.4" cy="143.1" r="2.3"/><circle cx="196.7" cy="137.9" r="2.3"/><circle cx="185.1" cy="96.8" r="2.3"/><circle cx="149.9" cy="87" r="2.3"/><circle cx="149.6" cy="111.5" r="2.3"/><circle cx="184.7" cy="128.3" r="2.3"/><circle cx="152.3" cy="137.1" r="2.3"/><circle cx="196.7" cy="93.8" r="2.3"/><circle cx="210.1" cy="86" r="2.3"/><circle cx="128.2" cy="184" r="2.3"/><circle cx="178.5" cy="94.2" r="2.3"/><circle cx="145.5" cy="192.7" r="2.3"/><circle cx="138.7" cy="154.2" r="2.3"/><circle cx="168.7" cy="140.3" r="2.3"/><circle cx="132" cy="185.7" r="2.3"/><circle cx="162.8" cy="215" r="2.3"/><circle cx="138.1" cy="157.6" r="2.3"/><circle cx="173.3" cy="155.3" r="2.3"/><circle cx="148.4" cy="109" r="2.3"/><circle cx="170" cy="160.2" r="2.3"/><circle cx="186.7" cy="134.7" r="2.3"/><circle cx="173.4" cy="111.3" r="2.3"/><circle cx="137.7" cy="190.1" r="2.3"/><circle cx="167.4" cy="80.2" r="2.3"/><circle cx="160.2" cy="218.2" r="2.3"/><circle cx="145" cy="213.6" r="2.3"/><circle cx="161" cy="209.5" r="2.3"/><circle cx="167" cy="103.8" r="2.3"/><circle cx="185.9" cy="171.7" r="2.3"/><circle cx="165.6" cy="110.9" r="2.3"/><circle cx="182.4" cy="102.7" r="2.3"/><circle cx="196.8" cy="95.1" r="2.3"/><circle cx="193.9" cy="147" r="2.3"/><circle cx="162.7" cy="164.2" r="2.3"/><circle cx="179.7" cy="89" r="2.3"/><circle cx="159.8" cy="104.5" r="2.3"/><circle cx="147" cy="144.9" r="2.3"/><circle cx="159.9" cy="84.6" r="2.3"/><circle cx="157.9" cy="174.4" r="2.3"/><circle cx="182.2" cy="133.8" r="2.3"/><circle cx="169.7" cy="136.9" r="2.3"/><circle cx="170.2" cy="130.3" r="2.3"/><circle cx="140.2" cy="182.7" r="2.3"/><circle cx="145.9" cy="190.2" r="2.3"/><circle cx="167.6" cy="90.4" r="2.3"/><circle cx="151" cy="118.9" r="2.3"/><circle cx="144.9" cy="123.8" r="2.3"/><circle cx="151.6" cy="140.4" r="2.3"/><circle cx="160.4" cy="202.8" r="2.3"/><circle cx="152" cy="154.7" r="2.3"/><circle cx="167.8" cy="154.1" r="2.3"/><circle cx="166.7" cy="193.4" r="2.3"/><circle cx="157.9" cy="130.6" r="2.3"/><circle cx="141.4" cy="122.1" r="2.3"/><circle cx="187" cy="109.4" r="2.3"/><circle cx="156.4" cy="89.7" r="2.3"/><circle cx="162.9" cy="132.3" r="2.3"/><circle cx="134.1" cy="188.7" r="2.3"/><circle cx="198.2" cy="127.2" r="2.3"/><circle cx="166.4" cy="127" r="2.3"/><circle cx="135" cy="118.2" r="2.3"/><circle cx="157.9" cy="150.1" r="2.3"/><circle cx="152.9" cy="196.9" r="2.3"/><circle cx="141.7" cy="134.1" r="2.3"/><circle cx="165.1" cy="156.3" r="2.3"/><circle cx="174.5" cy="179.8" r="2.3"/><circle cx="159.5" cy="194.4" r="2.3"/><circle cx="204.9" cy="97.1" r="2.3"/><circle cx="190.6" cy="141.4" r="2.3"/><circle cx="142.1" cy="170.1" r="2.3"/><circle cx="160.8" cy="225.8" r="2.3"/><circle cx="139.7" cy="185.1" r="2.3"/><circle cx="182.5" cy="90" r="2.3"/><circle cx="166.1" cy="211.9" r="2.3"/><circle cx="175.7" cy="139.3" r="2.3"/><circle cx="160.5" cy="163.5" r="2.3"/><circle cx="148" cy="111.8" r="2.3"/><circle cx="194.5" cy="96.1" r="2.3"/><circle cx="166.3" cy="174.6" r="2.3"/><circle cx="182.5" cy="150.9" r="2.3"/><circle cx="158.5" cy="84.5" r="2.3"/><circle cx="180.9" cy="179.6" r="2.3"/><circle cx="178.6" cy="171.8" r="2.3"/><circle cx="180.2" cy="103.8" r="2.3"/><circle cx="196.2" cy="78.8" r="2.3"/><circle cx="138.7" cy="99.3" r="2.3"/><circle cx="167.1" cy="217" r="2.3"/><circle cx="189.6" cy="134" r="2.3"/><circle cx="147.8" cy="166.5" r="2.3"/><circle cx="169.8" cy="115.5" r="2.3"/><circle cx="185.2" cy="169.7" r="2.3"/><circle cx="182.5" cy="178.3" r="2.3"/><circle cx="187.3" cy="141.5" r="2.3"/><circle cx="147.1" cy="116.1" r="2.3"/><circle cx="197.6" cy="147.1" r="2.3"/><circle cx="162" cy="146.6" r="2.3"/><circle cx="136.2" cy="109.7" r="2.3"/><circle cx="130" cy="143.8" r="2.3"/><circle cx="168.8" cy="107.8" r="2.3"/><circle cx="136.5" cy="175.4" r="2.3"/><circle cx="166.4" cy="102.9" r="2.3"/><circle cx="162.4" cy="115.7" r="2.3"/><circle cx="145.1" cy="110.3" r="2.3"/><circle cx="147.6" cy="88.4" r="2.3"/><circle cx="154.1" cy="135.3" r="2.3"/><circle cx="164.2" cy="128.4" r="2.3"/><circle cx="139.1" cy="107.9" r="2.3"/><circle cx="207.2" cy="102.5" r="2.3"/><circle cx="151.7" cy="130.8" r="2.3"/><circle cx="170.6" cy="82" r="2.3"/><circle cx="197.6" cy="127.7" r="2.3"/><circle cx="177.6" cy="111.7" r="2.3"/><circle cx="211.8" cy="108" r="2.3"/><circle cx="174.1" cy="168.8" r="2.3"/><circle cx="192.5" cy="121.7" r="2.3"/><circle cx="160.6" cy="165.9" r="2.3"/><circle cx="146.8" cy="176.6" r="2.3"/><circle cx="147.3" cy="119.7" r="2.3"/><circle cx="166.1" cy="169.3" r="2.3"/><circle cx="187.1" cy="82.2" r="2.3"/><circle cx="160.4" cy="182.7" r="2.3"/><circle cx="145.3" cy="135.2" r="2.3"/><circle cx="171.4" cy="201.7" r="2.3"/><circle cx="191" cy="157.1" r="2.3"/><circle cx="187.6" cy="91.5" r="2.3"/><circle cx="171.7" cy="120.4" r="2.3"/><circle cx="171.8" cy="97.5" r="2.3"/><circle cx="133.2" cy="170.5" r="2.3"/><circle cx="144.2" cy="166.9" r="2.3"/><circle cx="158.6" cy="154.1" r="2.3"/><circle cx="195.5" cy="123.4" r="2.3"/><circle cx="133.5" cy="159.6" r="2.3"/><circle cx="141.4" cy="172.4" r="2.3"/><circle cx="167" cy="80.8" r="2.3"/><circle cx="179.3" cy="145.5" r="2.3"/><circle cx="130.4" cy="145.2" r="2.3"/><circle cx="202.1" cy="104.4" r="2.3"/><circle cx="182.8" cy="170.2" r="2.3"/><circle cx="172.2" cy="138.8" r="2.3"/><circle cx="178.7" cy="169.8" r="2.3"/><circle cx="146.6" cy="201.5" r="2.3"/><circle cx="159.9" cy="215.5" r="2.3"/><circle cx="157.5" cy="182.3" r="2.3"/><circle cx="142" cy="100.1" r="2.3"/><circle cx="182.3" cy="125.8" r="2.3"/><circle cx="175" cy="131.6" r="2.3"/><circle cx="167.5" cy="89.3" r="2.3"/><circle cx="154.1" cy="157.6" r="2.3"/><circle cx="162.2" cy="179.2" r="2.3"/><circle cx="145.7" cy="152.8" r="2.3"/><circle cx="149" cy="195.7" r="2.3"/><circle cx="151.7" cy="199" r="2.3"/><circle cx="162.9" cy="148.6" r="2.3"/><circle cx="209" cy="82.5" r="2.3"/><circle cx="171.6" cy="166.5" r="2.3"/><circle cx="137.7" cy="108.1" r="2.3"/><circle cx="179.8" cy="141.6" r="2.3"/><circle cx="155.7" cy="150.1" r="2.3"/><circle cx="130.7" cy="156.4" r="2.3"/><circle cx="155.1" cy="155.4" r="2.3"/><circle cx="159.8" cy="194.9" r="2.3"/><circle cx="166.1" cy="83.9" r="2.3"/><circle cx="160.6" cy="171" r="2.3"/><circle cx="142.3" cy="172.5" r="2.3"/><circle cx="151.1" cy="217" r="2.3"/><circle cx="140.8" cy="120.2" r="2.3"/><circle cx="166.8" cy="107.1" r="2.3"/><circle cx="159.3" cy="118.7" r="2.3"/><circle cx="197.8" cy="118.2" r="2.3"/><circle cx="156.5" cy="106.8" r="2.3"/><circle cx="171.8" cy="143.5" r="2.3"/><circle cx="145.8" cy="107.2" r="2.3"/><circle cx="201.9" cy="95.5" r="2.3"/><circle cx="186.6" cy="73.6" r="2.3"/><circle cx="171.9" cy="77.9" r="2.3"/><circle cx="184.9" cy="149.8" r="2.3"/><circle cx="144.5" cy="104.9" r="2.3"/><circle cx="171.9" cy="78.4" r="2.3"/><circle cx="140.4" cy="103.1" r="2.3"/><circle cx="182.8" cy="103.9" r="2.3"/><circle cx="176.7" cy="195.6" r="2.3"/><circle cx="180.5" cy="154.7" r="2.3"/><circle cx="127.1" cy="146.8" r="2.3"/><circle cx="127.8" cy="166.4" r="2.3"/><circle cx="152.5" cy="150.4" r="2.3"/><circle cx="161.3" cy="104.6" r="2.3"/><circle cx="194.7" cy="129.6" r="2.3"/><circle cx="153.2" cy="122.7" r="2.3"/><circle cx="192" cy="145.6" r="2.3"/><circle cx="126.8" cy="160.8" r="2.3"/><circle cx="145.4" cy="198.7" r="2.3"/><circle cx="174.7" cy="100.3" r="2.3"/><circle cx="141.6" cy="175.5" r="2.3"/><circle cx="183.5" cy="123.7" r="2.3"/><circle cx="140.5" cy="101.5" r="2.3"/><circle cx="187.5" cy="88.9" r="2.3"/><circle cx="164.2" cy="191.3" r="2.3"/><circle cx="162.5" cy="171.2" r="2.3"/><circle cx="132.8" cy="165.2" r="2.3"/><circle cx="165.8" cy="139" r="2.3"/><circle cx="143.9" cy="146.4" r="2.3"/><circle cx="193.3" cy="133.3" r="2.3"/><circle cx="157.3" cy="182.6" r="2.3"/><circle cx="196" cy="90.5" r="2.3"/><circle cx="136.8" cy="153" r="2.3"/><circle cx="175.9" cy="196.6" r="2.3"/><circle cx="193.4" cy="120.4" r="2.3"/><circle cx="174.9" cy="155" r="2.3"/><circle cx="159.9" cy="193.5" r="2.3"/><circle cx="156.6" cy="209.2" r="2.3"/><circle cx="131.9" cy="124.6" r="2.3"/><circle cx="182.3" cy="148.2" r="2.3"/><circle cx="142.8" cy="200.4" r="2.3"/><circle cx="173.4" cy="150.5" r="2.3"/><circle cx="168.3" cy="177.7" r="2.3"/><circle cx="155.4" cy="98.7" r="2.3"/><circle cx="168.4" cy="89.6" r="2.3"/><circle cx="143" cy="198.8" r="2.3"/><circle cx="188.8" cy="162.4" r="2.3"/><circle cx="142" cy="95.1" r="2.3"/><circle cx="196" cy="124.3" r="2.3"/><circle cx="162.2" cy="113.8" r="2.3"/><circle cx="139.9" cy="162.4" r="2.3"/><circle cx="159.6" cy="201.8" r="2.3"/><circle cx="154.2" cy="88.8" r="2.3"/><circle cx="128.7" cy="149.6" r="2.3"/><circle cx="180.2" cy="106.7" r="2.3"/><circle cx="128.1" cy="180.2" r="2.3"/><circle cx="131.4" cy="151.5" r="2.3"/><circle cx="127.6" cy="171.9" r="2.3"/><circle cx="196.3" cy="80.3" r="2.3"/><circle cx="169.5" cy="199.8" r="2.3"/><circle cx="151.1" cy="85.2" r="2.3"/><circle cx="168.9" cy="165.5" r="2.3"/><circle cx="162.8" cy="132" r="2.3"/><circle cx="131.1" cy="180.7" r="2.3"/><circle cx="185.1" cy="72" r="2.3"/><circle cx="164.7" cy="78.2" r="2.3"/><circle cx="181.2" cy="122.3" r="2.3"/><circle cx="180.7" cy="96.9" r="2.3"/><circle cx="165.5" cy="80" r="2.3"/><circle cx="178.4" cy="166.4" r="2.3"/><circle cx="173.8" cy="103.5" r="2.3"/><circle cx="157.1" cy="187.5" r="2.3"/><circle cx="130.9" cy="142.1" r="2.3"/><circle cx="180.9" cy="86.5" r="2.3"/><circle cx="196.6" cy="93.2" r="2.3"/><circle cx="143.6" cy="210.2" r="2.3"/><circle cx="161.3" cy="109.6" r="2.3"/><circle cx="148" cy="166.6" r="2.3"/><circle cx="174.7" cy="75.8" r="2.3"/><circle cx="134.6" cy="120.5" r="2.3"/><circle cx="134" cy="170.4" r="2.3"/><circle cx="199.8" cy="98.8" r="2.3"/><circle cx="172.3" cy="162.2" r="2.3"/><circle cx="180.4" cy="105.7" r="2.3"/><circle cx="189.2" cy="160.9" r="2.3"/><circle cx="214.9" cy="105.7" r="2.3"/><circle cx="145" cy="93.1" r="2.3"/><circle cx="186.9" cy="137.5" r="2.3"/><circle cx="175.4" cy="179.7" r="2.3"/><circle cx="139.9" cy="172.9" r="2.3"/><circle cx="135.3" cy="181.7" r="2.3"/><circle cx="205" cy="98.5" r="2.3"/><circle cx="179.7" cy="93.9" r="2.3"/><circle cx="192.4" cy="138.1" r="2.3"/><circle cx="142.4" cy="125.7" r="2.3"/><circle cx="151.9" cy="179.4" r="2.3"/><circle cx="160.6" cy="173.4" r="2.3"/><circle cx="172.8" cy="105" r="2.3"/><circle cx="207" cy="112.4" r="2.3"/><circle cx="161.2" cy="207.9" r="2.3"/><circle cx="148.9" cy="154.7" r="2.3"/><circle cx="185.8" cy="86.7" r="2.3"/><circle cx="163.3" cy="89.1" r="2.3"/><circle cx="191.8" cy="85.5" r="2.3"/><circle cx="202.9" cy="111.8" r="2.3"/><circle cx="138.5" cy="109" r="2.3"/><circle cx="204" cy="119.1" r="2.3"/><circle cx="183" cy="99.2" r="2.3"/><circle cx="187.5" cy="118.8" r="2.3"/><circle cx="53.3" cy="139.9" r="2.3"/><circle cx="140.1" cy="109.3" r="2.3"/><circle cx="143.5" cy="180.7" r="2.3"/><circle cx="115.8" cy="105.9" r="2.3"/><circle cx="123.5" cy="143.6" r="2.3"/><circle cx="131.4" cy="129.2" r="2.3"/><circle cx="138.7" cy="134.7" r="2.3"/><circle cx="86.8" cy="144.2" r="2.3"/><circle cx="146.3" cy="133.3" r="2.3"/><circle cx="113.6" cy="152.5" r="2.3"/><circle cx="93.9" cy="128.1" r="2.3"/><circle cx="180.4" cy="128.9" r="2.3"/><circle cx="172.6" cy="126.5" r="2.3"/><circle cx="132.6" cy="109.9" r="2.3"/><circle cx="133.7" cy="107.2" r="2.3"/><circle cx="98.7" cy="149.5" r="2.3"/><circle cx="159" cy="147.6" r="2.3"/><circle cx="169.8" cy="85.7" r="2.3"/><circle cx="183.2" cy="109.8" r="2.3"/><circle cx="196.4" cy="76.3" r="2.3"/><circle cx="103.8" cy="123.4" r="2.3"/><circle cx="200.3" cy="122.4" r="2.3"/><circle cx="191.9" cy="114.5" r="2.3"/><circle cx="192.8" cy="102.4" r="2.3"/><circle cx="201.4" cy="119.8" r="2.3"/><circle cx="84.9" cy="135.4" r="2.3"/><circle cx="156.9" cy="197.7" r="2.3"/><circle cx="84.3" cy="144.7" r="2.3"/><circle cx="164.7" cy="190.7" r="2.3"/><circle cx="143.8" cy="91.5" r="2.3"/><circle cx="178.6" cy="152.3" r="2.3"/><circle cx="167" cy="207.2" r="2.3"/><circle cx="201.7" cy="140.2" r="2.3"/><circle cx="180.4" cy="185.1" r="2.3"/><circle cx="240.1" cy="44.7" r="2.3"/><circle cx="196.7" cy="53.3" r="2.3"/><circle cx="209.1" cy="59.4" r="2.3"/><circle cx="230.1" cy="51.8" r="2.3"/><circle cx="233" cy="48.1" r="2.3"/><circle cx="215.5" cy="33.6" r="2.3"/><circle cx="210.9" cy="63.3" r="2.3"/><circle cx="214.8" cy="59.8" r="2.3"/><circle cx="183.2" cy="71.1" r="2.3"/><circle cx="220.4" cy="84.8" r="2.3"/><circle cx="240.5" cy="39" r="2.3"/><circle cx="202.7" cy="55.7" r="2.3"/><circle cx="217.2" cy="58.9" r="2.3"/><circle cx="230.9" cy="59.8" r="2.3"/><circle cx="194.9" cy="53.5" r="2.3"/><circle cx="221.4" cy="92.8" r="2.3"/><circle cx="230.2" cy="49.6" r="2.3"/><circle cx="200.2" cy="69.2" r="2.3"/><circle cx="216.7" cy="59" r="2.3"/><circle cx="200.8" cy="69.8" r="2.3"/><circle cx="195.7" cy="69" r="2.3"/><circle cx="176.6" cy="66.9" r="2.3"/><circle cx="203.4" cy="43.9" r="2.3"/><circle cx="164.7" cy="71.1" r="2.3"/><circle cx="202" cy="73.2" r="2.3"/><circle cx="223.5" cy="88.5" r="2.3"/><circle cx="196.1" cy="61" r="2.3"/><circle cx="197" cy="58.4" r="2.3"/><circle cx="206.3" cy="55.5" r="2.3"/><circle cx="225.7" cy="47.1" r="2.3"/><circle cx="237.7" cy="43.2" r="2.3"/><circle cx="224.7" cy="47.8" r="2.3"/><circle cx="221.6" cy="93.5" r="2.3"/><circle cx="224.2" cy="52.7" r="2.3"/><circle cx="207.6" cy="64.8" r="2.3"/><circle cx="220.2" cy="62.6" r="2.3"/><circle cx="204.4" cy="41" r="2.3"/><circle cx="225.1" cy="80.3" r="2.3"/><circle cx="227.3" cy="46.7" r="2.3"/><circle cx="227.5" cy="49.9" r="2.3"/><circle cx="228.5" cy="87" r="2.3"/><circle cx="221.1" cy="47.4" r="2.3"/><circle cx="222.6" cy="43.4" r="2.3"/><circle cx="167.5" cy="70.3" r="2.3"/><circle cx="226.3" cy="36.4" r="2.3"/><circle cx="222.8" cy="93.2" r="2.3"/><circle cx="195.1" cy="58.1" r="2.3"/><circle cx="195.9" cy="68.4" r="2.3"/><circle cx="200" cy="63.8" r="2.3"/><circle cx="224" cy="73.3" r="2.3"/><circle cx="199.2" cy="53" r="2.3"/><circle cx="227.7" cy="47.7" r="2.3"/><circle cx="209.7" cy="45.4" r="2.3"/><circle cx="231" cy="49.7" r="2.3"/><circle cx="228.9" cy="55.3" r="2.3"/><circle cx="208.1" cy="67" r="2.3"/><circle cx="228.8" cy="62.4" r="2.3"/><circle cx="226.6" cy="56.4" r="2.3"/><circle cx="231.4" cy="54.6" r="2.3"/><circle cx="223.2" cy="38.2" r="2.3"/><circle cx="202.9" cy="43" r="2.3"/><circle cx="215.5" cy="48.7" r="2.3"/><circle cx="195" cy="54.8" r="2.3"/><circle cx="172.9" cy="70.7" r="2.3"/><circle cx="234.8" cy="48" r="2.3"/><circle cx="218.6" cy="43.4" r="2.3"/><circle cx="234.6" cy="50.8" r="2.3"/><circle cx="218" cy="39" r="2.3"/><circle cx="220" cy="41.8" r="2.3"/><circle cx="215.3" cy="51.6" r="2.3"/><circle cx="218.4" cy="97.6" r="2.3"/><circle cx="182.8" cy="63.9" r="2.3"/><circle cx="209.7" cy="46.4" r="2.3"/><circle cx="240.1" cy="49" r="2.3"/><circle cx="206.4" cy="50" r="2.3"/><circle cx="228.5" cy="63.5" r="2.3"/><circle cx="205.5" cy="42.1" r="2.3"/><circle cx="218.1" cy="53.3" r="2.3"/><circle cx="226.9" cy="82" r="2.3"/><circle cx="117.6" cy="164.4" r="2.3"/><circle cx="142.5" cy="198" r="2.3"/><circle cx="121.7" cy="172.9" r="2.3"/><circle cx="79.5" cy="158.8" r="2.3"/><circle cx="123.7" cy="200.3" r="2.3"/><circle cx="80.6" cy="169.9" r="2.3"/><circle cx="83.2" cy="150.4" r="2.3"/><circle cx="123.8" cy="205.2" r="2.3"/><circle cx="113.8" cy="194.5" r="2.3"/><circle cx="128.2" cy="171.6" r="2.3"/><circle cx="117.7" cy="199" r="2.3"/><circle cx="112.5" cy="183.6" r="2.3"/><circle cx="165.5" cy="223.6" r="2.3"/><circle cx="85.4" cy="177.6" r="2.3"/><circle cx="99.6" cy="156.8" r="2.3"/><circle cx="115.4" cy="180.9" r="2.3"/><circle cx="126.5" cy="184" r="2.3"/><circle cx="109.2" cy="187.1" r="2.3"/><circle cx="92.2" cy="161.5" r="2.3"/><circle cx="126" cy="184" r="2.3"/><circle cx="94.7" cy="157.7" r="2.3"/><circle cx="108.7" cy="183.6" r="2.3"/><circle cx="117" cy="194" r="2.3"/><circle cx="140.8" cy="200.7" r="2.3"/><circle cx="159.3" cy="215.2" r="2.3"/><circle cx="69.7" cy="155" r="2.3"/><circle cx="133.8" cy="196.9" r="2.3"/><circle cx="112.5" cy="165.1" r="2.3"/><circle cx="73.8" cy="166.9" r="2.3"/><circle cx="88.7" cy="174.7" r="2.3"/><circle cx="88.6" cy="159.4" r="2.3"/><circle cx="120.5" cy="186.7" r="2.3"/><circle cx="129.4" cy="202.5" r="2.3"/><circle cx="132.8" cy="186.3" r="2.3"/><circle cx="136.5" cy="180.3" r="2.3"/><circle cx="81.2" cy="177.2" r="2.3"/><circle cx="154.3" cy="213.7" r="2.3"/><circle cx="113.8" cy="167.8" r="2.3"/><circle cx="92.1" cy="172.5" r="2.3"/><circle cx="117.5" cy="166.1" r="2.3"/><circle cx="131.7" cy="208.6" r="2.3"/><circle cx="143" cy="193.3" r="2.3"/><circle cx="74.8" cy="165.7" r="2.3"/><circle cx="157.5" cy="205" r="2.3"/><circle cx="142.3" cy="188.8" r="2.3"/><circle cx="109.5" cy="171.8" r="2.3"/><circle cx="147.9" cy="213.7" r="2.3"/><circle cx="98.3" cy="186.7" r="2.3"/><circle cx="144.6" cy="216.1" r="2.3"/><circle cx="72.7" cy="163.1" r="2.3"/><circle cx="127.2" cy="185.1" r="2.3"/><circle cx="99.3" cy="160.2" r="2.3"/><circle cx="149.1" cy="207.7" r="2.3"/><circle cx="153.2" cy="218.7" r="2.3"/><circle cx="94.2" cy="173.9" r="2.3"/><circle cx="70.4" cy="162.2" r="2.3"/><circle cx="63.4" cy="154.5" r="2.3"/><circle cx="137.8" cy="200.1" r="2.3"/><circle cx="90.4" cy="160.4" r="2.3"/><circle cx="164.9" cy="222.1" r="2.3"/><circle cx="154.3" cy="201.7" r="2.3"/><circle cx="121.5" cy="167.8" r="2.3"/><circle cx="127" cy="190" r="2.3"/><circle cx="158.4" cy="211.7" r="2.3"/><circle cx="62.1" cy="160.5" r="2.3"/><circle cx="106.7" cy="176.2" r="2.3"/><circle cx="84.4" cy="172.1" r="2.3"/><circle cx="128.2" cy="206.4" r="2.3"/><circle cx="119.3" cy="181.9" r="2.3"/><circle cx="61.4" cy="153" r="2.3"/><circle cx="156.2" cy="225" r="2.3"/><circle cx="155" cy="223.4" r="2.3"/><circle cx="82.4" cy="177.6" r="2.3"/><circle cx="61.8" cy="162.8" r="2.3"/><circle cx="111.9" cy="170.1" r="2.3"/><circle cx="148.9" cy="226.3" r="2.3"/><circle cx="153.8" cy="228.7" r="2.3"/><circle cx="136" cy="217" r="2.3"/><circle cx="173.9" cy="243" r="2.3"/><circle cx="132" cy="215.7" r="2.3"/><circle cx="177.6" cy="245.6" r="2.3"/><circle cx="126.9" cy="213.1" r="2.3"/><circle cx="178.9" cy="245.2" r="2.3"/><circle cx="130.1" cy="214.2" r="2.3"/><circle cx="160.7" cy="234.2" r="2.3"/><circle cx="143.4" cy="223.5" r="2.3"/><circle cx="128.9" cy="213.9" r="2.3"/><circle cx="153.1" cy="230" r="2.3"/><circle cx="159.6" cy="234.1" r="2.3"/><circle cx="138.3" cy="221.3" r="2.3"/><circle cx="149.4" cy="228" r="2.3"/><circle cx="152.5" cy="228.2" r="2.3"/><circle cx="148.5" cy="227.4" r="2.3"/><circle cx="163.7" cy="236.6" r="2.3"/><circle cx="155.1" cy="230.6" r="2.3"/><circle cx="170.4" cy="241.4" r="2.3"/><circle cx="128" cy="213.2" r="2.3"/><circle cx="145.7" cy="224.2" r="2.3"/><circle cx="130.9" cy="215.2" r="2.3"/><circle cx="164.9" cy="238.2" r="2.3"/><circle cx="131.5" cy="215.8" r="2.3"/><circle cx="179.7" cy="245.9" r="2.3"/><circle cx="147.5" cy="225.2" r="2.3"/><circle cx="134.9" cy="217.8" r="2.3"/><circle cx="140.2" cy="220.9" r="2.3"/><circle cx="172.1" cy="241.2" r="2.3"/><circle cx="137.2" cy="218.9" r="2.3"/><circle cx="137.7" cy="220.1" r="2.3"/><circle cx="148.3" cy="225.9" r="2.3"/><circle cx="175.4" cy="244.3" r="2.3"/><circle cx="137.9" cy="219.1" r="2.3"/><circle cx="131.9" cy="216.1" r="2.3"/><circle cx="172.6" cy="242.5" r="2.3"/><circle cx="159" cy="232.3" r="2.3"/><circle cx="144.6" cy="224" r="2.3"/><circle cx="128.3" cy="213.4" r="2.3"/><circle cx="151.9" cy="229.1" r="2.3"/><circle cx="163.6" cy="237.3" r="2.3"/><circle cx="158.2" cy="232" r="2.3"/><circle cx="156" cy="229.8" r="2.3"/><circle cx="173.7" cy="241.6" r="2.3"/><circle cx="132.6" cy="215.1" r="2.3"/><circle cx="143.5" cy="224.1" r="2.3"/><circle cx="180" cy="247.1" r="2.3"/><circle cx="173.6" cy="242.7" r="2.3"/><circle cx="151.3" cy="229.6" r="2.3"/><circle cx="141.6" cy="222.1" r="2.3"/><circle cx="172.8" cy="241" r="2.3"/><circle cx="156.9" cy="232.9" r="2.3"/><circle cx="154.1" cy="230.8" r="2.3"/><circle cx="159.3" cy="231.9" r="2.3"/><circle cx="130.5" cy="215.5" r="2.3"/><circle cx="155.3" cy="230.7" r="2.3"/><circle cx="153.4" cy="232" r="2.3"/><circle cx="131.1" cy="215.8" r="2.3"/><circle cx="173.6" cy="243" r="2.3"/><circle cx="172" cy="240.6" r="2.3"/><circle cx="158.3" cy="233.7" r="2.3"/><circle cx="155.8" cy="231.7" r="2.3"/><circle cx="158.1" cy="233.2" r="2.3"/><circle cx="167.7" cy="237.1" r="2.3"/><circle cx="167" cy="239" r="2.3"/><circle cx="126.2" cy="212.1" r="2.3"/><circle cx="141.3" cy="222.2" r="2.3"/><circle cx="127.1" cy="213.6" r="2.3"/><circle cx="155" cy="230.8" r="2.3"/><circle cx="145.9" cy="225.5" r="2.3"/><circle cx="162.2" cy="234.3" r="2.3"/><circle cx="138.3" cy="219.6" r="2.3"/><circle cx="141.6" cy="221.5" r="2.3"/><circle cx="171.3" cy="241" r="2.3"/><circle cx="126.5" cy="211.5" r="2.3"/><circle cx="126.7" cy="212.3" r="2.3"/><circle cx="148.6" cy="225.1" r="2.3"/><circle cx="134.4" cy="218.5" r="2.3"/><circle cx="145.7" cy="225" r="2.3"/><circle cx="160.5" cy="235.4" r="2.3"/><circle cx="161.9" cy="235.8" r="2.3"/><circle cx="152.6" cy="228.6" r="2.3"/><circle cx="174.7" cy="243.4" r="2.3"/><circle cx="141.3" cy="221.1" r="2.3"/><circle cx="168.5" cy="239.6" r="2.3"/><circle cx="155.2" cy="231.7" r="2.3"/><circle cx="158.5" cy="233.6" r="2.3"/><circle cx="128.9" cy="213.6" r="2.3"/><circle cx="160.3" cy="234.1" r="2.3"/><circle cx="152.5" cy="229.1" r="2.3"/><circle cx="150.9" cy="227.5" r="2.3"/><circle cx="153.8" cy="229.8" r="2.3"/><circle cx="173.6" cy="242" r="2.3"/><circle cx="138.9" cy="219.9" r="2.3"/><circle cx="145.6" cy="224.8" r="2.3"/><circle cx="168.8" cy="240.4" r="2.3"/><circle cx="161" cy="235" r="2.3"/><circle cx="140.3" cy="220.1" r="2.3"/><circle cx="160.7" cy="234.3" r="2.3"/><circle cx="146.8" cy="226.3" r="2.3"/><circle cx="164.5" cy="237.8" r="2.3"/><circle cx="163.5" cy="236.6" r="2.3"/><circle cx="179.1" cy="246" r="2.3"/><circle cx="152.9" cy="229" r="2.3"/><circle cx="140.4" cy="220.9" r="2.3"/><circle cx="143.5" cy="224.5" r="2.3"/><circle cx="173.2" cy="242.9" r="2.3"/><circle cx="161.5" cy="234.7" r="2.3"/><circle cx="78" cy="165.6" r="2.3"/><circle cx="92.2" cy="169.1" r="2.3"/><circle cx="83.8" cy="167.4" r="2.3"/><circle cx="94.2" cy="170.4" r="2.3"/><circle cx="96" cy="170.9" r="2.3"/><circle cx="98.8" cy="172" r="2.3"/><circle cx="88.7" cy="166.3" r="2.3"/><circle cx="99.5" cy="170" r="2.3"/><circle cx="82.3" cy="165.8" r="2.3"/><circle cx="95.6" cy="169.9" r="2.3"/><circle cx="79.2" cy="163.3" r="2.3"/><circle cx="95.9" cy="169.4" r="2.3"/><circle cx="89.3" cy="168" r="2.3"/><circle cx="88.2" cy="165.9" r="2.3"/><circle cx="82.3" cy="165.6" r="2.3"/><circle cx="98" cy="171.5" r="2.3"/><circle cx="78.4" cy="162.7" r="2.3"/><circle cx="91.7" cy="167.7" r="2.3"/><circle cx="82.7" cy="163.6" r="2.3"/><circle cx="99.6" cy="172.1" r="2.3"/><circle cx="95.6" cy="171.1" r="2.3"/><circle cx="79.8" cy="163.6" r="2.3"/><circle cx="86.3" cy="168.2" r="2.3"/><circle cx="88" cy="165.6" r="2.3"/><circle cx="89.5" cy="166.9" r="2.3"/><circle cx="79.8" cy="165.8" r="2.3"/><circle cx="83.5" cy="162.7" r="2.3"/><circle cx="78.9" cy="161.6" r="2.3"/><circle cx="79.4" cy="164.9" r="2.3"/><circle cx="79.7" cy="163" r="2.3"/><circle cx="89.4" cy="168.7" r="2.3"/><circle cx="85.2" cy="167.6" r="2.3"/><circle cx="98.3" cy="171.1" r="2.3"/><circle cx="86.1" cy="168" r="2.3"/><circle cx="90" cy="166.2" r="2.3"/><circle cx="103.8" cy="167.6" r="2.3"/><circle cx="97.1" cy="160.6" r="2.3"/><circle cx="103.9" cy="166.3" r="2.3"/><circle cx="117.2" cy="176.1" r="2.3"/><circle cx="107.5" cy="167.3" r="2.3"/><circle cx="106" cy="168.8" r="2.3"/><circle cx="119" cy="180.1" r="2.3"/><circle cx="103.4" cy="169.2" r="2.3"/><circle cx="107.3" cy="167.6" r="2.3"/><circle cx="119.3" cy="181.2" r="2.3"/><circle cx="99.1" cy="164.2" r="2.3"/><circle cx="102.9" cy="164.9" r="2.3"/><circle cx="103.3" cy="165.9" r="2.3"/><circle cx="96.2" cy="161.5" r="2.3"/><circle cx="105.1" cy="170.1" r="2.3"/><circle cx="103.4" cy="165" r="2.3"/><circle cx="99.4" cy="161.5" r="2.3"/><circle cx="98.4" cy="162.3" r="2.3"/><circle cx="119.7" cy="177.6" r="2.3"/><circle cx="119.6" cy="178.4" r="2.3"/><circle cx="99.7" cy="162.5" r="2.3"/><circle cx="108.2" cy="169.3" r="2.3"/><circle cx="97.8" cy="160.6" r="2.3"/><circle cx="94.7" cy="162.8" r="2.3"/><circle cx="115" cy="177.9" r="2.3"/><circle cx="115.8" cy="175.2" r="2.3"/><circle cx="101" cy="162.3" r="2.3"/><circle cx="100.1" cy="162.8" r="2.3"/><circle cx="96.7" cy="161.6" r="2.3"/><circle cx="103.5" cy="166" r="2.3"/><circle cx="107.3" cy="166.4" r="2.3"/><circle cx="106.3" cy="167.9" r="2.3"/><circle cx="98.2" cy="159.4" r="2.3"/><circle cx="104.7" cy="168" r="2.3"/><circle cx="111" cy="170.4" r="2.3"/><circle cx="145.2" cy="68.7" r="2.3"/><circle cx="134.1" cy="79.2" r="2.3"/><circle cx="137.6" cy="75.7" r="2.3"/><circle cx="142.8" cy="76.7" r="2.3"/><circle cx="123.6" cy="87.2" r="2.3"/><circle cx="118.4" cy="93.1" r="2.3"/><circle cx="112.5" cy="105.3" r="2.3"/><circle cx="120.1" cy="100.1" r="2.3"/><circle cx="125.4" cy="93.1" r="2.3"/><circle cx="130.6" cy="87.9" r="2.3"/><circle cx="116.7" cy="105.3" r="2.3"/><circle cx="129.9" cy="87.1" r="2.3"/><circle cx="122.4" cy="87.1" r="2.3"/><circle cx="268" cy="17" r="2.3"/><circle cx="261.9" cy="23.4" r="2.3"/><circle cx="248" cy="22.5" r="2.3"/><circle cx="243.8" cy="27.3" r="2.3"/><circle cx="260.5" cy="29" r="2.3"/><circle cx="266.1" cy="32.9" r="2.3"/><circle cx="261.9" cy="40.7" r="2.3"/><circle cx="254.9" cy="43.4" r="2.3"/><circle cx="250.7" cy="46.2" r="2.3"/><circle cx="253.5" cy="51.2" r="2.3"/><circle cx="264.7" cy="53.2" r="2.3"/><circle cx="260.5" cy="58.8" r="2.3"/><circle cx="267.5" cy="61.6" r="2.3"/><circle cx="266.1" cy="69.9" r="2.3"/><circle cx="251" cy="132" r="2.3"/><circle cx="261.5" cy="97.4" r="2.3"/></g><g class="bl"><circle cx="157.4" cy="83.3" r="2.3"/><circle cx="137.5" cy="129" r="2.3"/><circle cx="54.6" cy="151.2" r="2.3"/><circle cx="51" cy="139.6" r="2.3"/><circle cx="144.6" cy="133.9" r="2.3"/><circle cx="193.4" cy="117.2" r="2.3"/><circle cx="155.4" cy="130.1" r="2.3"/><circle cx="162.5" cy="138.7" r="2.3"/><circle cx="123.1" cy="118.8" r="2.3"/><circle cx="182.3" cy="181" r="2.3"/><circle cx="171.1" cy="116.9" r="2.3"/><circle cx="214.6" cy="90.4" r="2.3"/><circle cx="70.9" cy="148.3" r="2.3"/><circle cx="177.2" cy="161.4" r="2.3"/><circle cx="196.4" cy="120.9" r="2.3"/><circle cx="165.1" cy="164.7" r="2.3"/><circle cx="145.1" cy="143.2" r="2.3"/><circle cx="187.1" cy="116.4" r="2.3"/><circle cx="48.4" cy="144" r="2.3"/><circle cx="58.5" cy="142.1" r="2.3"/><circle cx="92.8" cy="136.8" r="2.3"/><circle cx="210.7" cy="95.5" r="2.3"/><circle cx="85" cy="147.7" r="2.3"/><circle cx="146.7" cy="113" r="2.3"/><circle cx="133.9" cy="168.3" r="2.3"/><circle cx="161.8" cy="80.4" r="2.3"/><circle cx="112.6" cy="134.2" r="2.3"/><circle cx="151" cy="95.2" r="2.3"/><circle cx="88.3" cy="126.2" r="2.3"/><circle cx="125.3" cy="147.5" r="2.3"/><circle cx="103.9" cy="113.3" r="2.3"/><circle cx="188.3" cy="97.2" r="2.3"/><circle cx="136.2" cy="94.9" r="2.3"/><circle cx="89.8" cy="129.2" r="2.3"/><circle cx="190.3" cy="146.8" r="2.3"/><circle cx="157.8" cy="196.7" r="2.3"/><circle cx="174.6" cy="146.6" r="2.3"/><circle cx="170.3" cy="98.5" r="2.3"/><circle cx="187.8" cy="104.9" r="2.3"/><circle cx="88.2" cy="117.7" r="2.3"/><circle cx="89.5" cy="137.4" r="2.3"/><circle cx="105.9" cy="143.5" r="2.3"/><circle cx="131.5" cy="155" r="2.3"/><circle cx="74.4" cy="145.9" r="2.3"/><circle cx="170.3" cy="158.8" r="2.3"/><circle cx="178.5" cy="151.2" r="2.3"/><circle cx="150.8" cy="150.9" r="2.3"/><circle cx="123" cy="155.2" r="2.3"/><circle cx="165.8" cy="208.7" r="2.3"/><circle cx="208" cy="112.5" r="2.3"/><circle cx="190.2" cy="93.4" r="2.3"/><circle cx="65.6" cy="141" r="2.3"/><circle cx="159.1" cy="94.3" r="2.3"/><circle cx="113.6" cy="148" r="2.3"/><circle cx="72.5" cy="139.3" r="2.3"/><circle cx="134" cy="124.9" r="2.3"/><circle cx="169.8" cy="75" r="2.3"/><circle cx="140.6" cy="140.7" r="2.3"/><circle cx="152.8" cy="151.9" r="2.3"/><circle cx="186.6" cy="112.3" r="2.3"/><circle cx="143.5" cy="181.3" r="2.3"/><circle cx="163.9" cy="138.3" r="2.3"/><circle cx="154.6" cy="197.1" r="2.3"/><circle cx="123.2" cy="124.9" r="2.3"/><circle cx="135.9" cy="109.2" r="2.3"/><circle cx="98.6" cy="119.6" r="2.3"/><circle cx="176.3" cy="117.2" r="2.3"/><circle cx="131.3" cy="99.8" r="2.3"/><circle cx="171.7" cy="158" r="2.3"/><circle cx="77.4" cy="146.1" r="2.3"/><circle cx="206.7" cy="88.6" r="2.3"/><circle cx="186.6" cy="139.4" r="2.3"/><circle cx="112.7" cy="151" r="2.3"/><circle cx="167.1" cy="171.2" r="2.3"/><circle cx="114.7" cy="126.2" r="2.3"/><circle cx="95.3" cy="143.7" r="2.3"/><circle cx="71.8" cy="141.5" r="2.3"/><circle cx="98.2" cy="127.6" r="2.3"/><circle cx="126.9" cy="150.4" r="2.3"/><circle cx="60.1" cy="134.3" r="2.3"/><circle cx="146.1" cy="154.6" r="2.3"/><circle cx="174.7" cy="174.6" r="2.3"/><circle cx="168.7" cy="209.1" r="2.3"/><circle cx="112.1" cy="122.9" r="2.3"/><circle cx="215.4" cy="95.3" r="2.3"/><circle cx="170.1" cy="172.3" r="2.3"/><circle cx="171.8" cy="198.7" r="2.3"/><circle cx="163" cy="180.2" r="2.3"/><circle cx="67.6" cy="128.3" r="2.3"/><circle cx="141.4" cy="169.9" r="2.3"/><circle cx="153.2" cy="178.2" r="2.3"/><circle cx="131.8" cy="155.5" r="2.3"/><circle cx="158.9" cy="82.3" r="2.3"/><circle cx="172.3" cy="111.3" r="2.3"/><circle cx="171" cy="104" r="2.3"/><circle cx="130.2" cy="131.7" r="2.3"/><circle cx="177.6" cy="168.2" r="2.3"/><circle cx="156" cy="84.1" r="2.3"/><circle cx="173.4" cy="119.5" r="2.3"/><circle cx="161.1" cy="180" r="2.3"/><circle cx="161.7" cy="117.4" r="2.3"/><circle cx="134.1" cy="144.5" r="2.3"/><circle cx="199.6" cy="103.1" r="2.3"/><circle cx="47.5" cy="143.6" r="2.3"/><circle cx="122.5" cy="113.9" r="2.3"/><circle cx="209.8" cy="92.7" r="2.3"/><circle cx="186.8" cy="151.4" r="2.3"/><circle cx="45.1" cy="148.7" r="2.3"/><circle cx="122.7" cy="119.1" r="2.3"/><circle cx="190.1" cy="90.7" r="2.3"/><circle cx="200.9" cy="117.2" r="2.3"/><circle cx="109.1" cy="133.3" r="2.3"/><circle cx="107.1" cy="138.8" r="2.3"/><circle cx="133.2" cy="101.6" r="2.3"/><circle cx="169.3" cy="79.7" r="2.3"/><circle cx="171.6" cy="142.3" r="2.3"/><circle cx="175.1" cy="172.5" r="2.3"/><circle cx="205.3" cy="91.9" r="2.3"/><circle cx="126.4" cy="125.6" r="2.3"/><circle cx="158.3" cy="118.9" r="2.3"/><circle cx="141.2" cy="133.5" r="2.3"/><circle cx="130.7" cy="106.3" r="2.3"/><circle cx="174.6" cy="136.4" r="2.3"/><circle cx="116.3" cy="153.8" r="2.3"/><circle cx="109.9" cy="124.8" r="2.3"/><circle cx="212.4" cy="91.6" r="2.3"/><circle cx="131.8" cy="170.2" r="2.3"/><circle cx="194.2" cy="105.7" r="2.3"/><circle cx="113.9" cy="141.6" r="2.3"/><circle cx="195.9" cy="75.4" r="2.3"/><circle cx="213.2" cy="110.8" r="2.3"/><circle cx="156.8" cy="191.3" r="2.3"/><circle cx="123.8" cy="158" r="2.3"/><circle cx="156.5" cy="119.4" r="2.3"/><circle cx="154.9" cy="181" r="2.3"/><circle cx="135.5" cy="162.9" r="2.3"/><circle cx="111.8" cy="106.9" r="2.3"/><circle cx="96.8" cy="143.9" r="2.3"/><circle cx="197.8" cy="146.1" r="2.3"/><circle cx="117.4" cy="112.1" r="2.3"/><circle cx="103.2" cy="137.6" r="2.3"/><circle cx="162.9" cy="102.9" r="2.3"/><circle cx="132.1" cy="104" r="2.3"/><circle cx="186.8" cy="108" r="2.3"/><circle cx="130.5" cy="101.2" r="2.3"/><circle cx="83.2" cy="137.1" r="2.3"/><circle cx="69.9" cy="133.4" r="2.3"/><circle cx="171.6" cy="227.6" r="2.3"/><circle cx="206.1" cy="123.4" r="2.3"/><circle cx="174" cy="77" r="2.3"/><circle cx="159.8" cy="131.1" r="2.3"/><circle cx="109.4" cy="123.7" r="2.3"/><circle cx="93" cy="126.8" r="2.3"/><circle cx="210.3" cy="91.3" r="2.3"/><circle cx="211.8" cy="104.4" r="2.3"/><circle cx="187.1" cy="139.5" r="2.3"/><circle cx="53" cy="145.9" r="2.3"/><circle cx="78" cy="128.8" r="2.3"/><circle cx="200.1" cy="76.7" r="2.3"/><circle cx="177.5" cy="78.3" r="2.3"/><circle cx="204.1" cy="112.1" r="2.3"/><circle cx="103.3" cy="114.5" r="2.3"/><circle cx="99.4" cy="115" r="2.3"/><circle cx="85.1" cy="146.1" r="2.3"/><circle cx="111.6" cy="111.2" r="2.3"/><circle cx="119.1" cy="149" r="2.3"/><circle cx="205.5" cy="100.5" r="2.3"/><circle cx="149.9" cy="123.1" r="2.3"/><circle cx="99.9" cy="128.4" r="2.3"/><circle cx="180.2" cy="84.3" r="2.3"/><circle cx="61.2" cy="149.8" r="2.3"/><circle cx="167.6" cy="141.7" r="2.3"/><circle cx="85.1" cy="137" r="2.3"/><circle cx="152.1" cy="177.2" r="2.3"/><circle cx="159.8" cy="90.9" r="2.3"/><circle cx="190.4" cy="117.8" r="2.3"/><circle cx="142.9" cy="130.2" r="2.3"/><circle cx="172.6" cy="103.1" r="2.3"/><circle cx="144.8" cy="122.9" r="2.3"/><circle cx="132.5" cy="108.1" r="2.3"/><circle cx="184.8" cy="173.9" r="2.3"/><circle cx="205.9" cy="130.1" r="2.3"/><circle cx="194.8" cy="142.1" r="2.3"/><circle cx="208.6" cy="88.5" r="2.3"/><circle cx="147.9" cy="168.7" r="2.3"/><circle cx="82.3" cy="129.5" r="2.3"/><circle cx="157.6" cy="103.7" r="2.3"/><circle cx="162.2" cy="100.9" r="2.3"/><circle cx="182.5" cy="157.5" r="2.3"/><circle cx="113.1" cy="157.8" r="2.3"/><circle cx="155.4" cy="86.2" r="2.3"/><circle cx="115.6" cy="116.2" r="2.3"/><circle cx="106.5" cy="137" r="2.3"/><circle cx="170.8" cy="103.8" r="2.3"/><circle cx="108.8" cy="150.7" r="2.3"/><circle cx="63.4" cy="148.5" r="2.3"/><circle cx="187.6" cy="97" r="2.3"/><circle cx="180.8" cy="106.6" r="2.3"/><circle cx="188.4" cy="100.5" r="2.3"/><circle cx="82.3" cy="134.4" r="2.3"/><circle cx="134.4" cy="131.8" r="2.3"/><circle cx="175.9" cy="77.9" r="2.3"/><circle cx="189.9" cy="90.4" r="2.3"/><circle cx="148.5" cy="157.8" r="2.3"/><circle cx="153.3" cy="119.8" r="2.3"/><circle cx="122" cy="140.4" r="2.3"/><circle cx="129.4" cy="108.7" r="2.3"/><circle cx="177" cy="193.7" r="2.3"/><circle cx="124" cy="100" r="2.3"/><circle cx="66.8" cy="139.2" r="2.3"/><circle cx="60.4" cy="140.9" r="2.3"/><circle cx="154.9" cy="84.8" r="2.3"/><circle cx="171.8" cy="193.3" r="2.3"/><circle cx="131.9" cy="130.9" r="2.3"/><circle cx="209.5" cy="93.2" r="2.3"/><circle cx="171.5" cy="199.1" r="2.3"/><circle cx="203.4" cy="97.8" r="2.3"/><circle cx="175.7" cy="96.8" r="2.3"/><circle cx="200" cy="114.9" r="2.3"/><circle cx="186" cy="94.4" r="2.3"/><circle cx="132.3" cy="121.8" r="2.3"/><circle cx="154.9" cy="128.1" r="2.3"/><circle cx="153.8" cy="133.5" r="2.3"/><circle cx="182.9" cy="113.3" r="2.3"/><circle cx="173.5" cy="79.5" r="2.3"/><circle cx="186.7" cy="111.6" r="2.3"/><circle cx="146.1" cy="175.5" r="2.3"/><circle cx="151.4" cy="139.4" r="2.3"/><circle cx="146.7" cy="103.9" r="2.3"/><circle cx="152.8" cy="146.1" r="2.3"/><circle cx="114.2" cy="113.2" r="2.3"/><circle cx="142.1" cy="126.7" r="2.3"/><circle cx="156.5" cy="141.2" r="2.3"/><circle cx="114.9" cy="109.1" r="2.3"/><circle cx="207.7" cy="94.2" r="2.3"/><circle cx="132.5" cy="172.1" r="2.3"/><circle cx="185.6" cy="99.2" r="2.3"/><circle cx="98.2" cy="118.8" r="2.3"/><circle cx="180.3" cy="183.6" r="2.3"/><circle cx="173.8" cy="144.6" r="2.3"/><circle cx="173.2" cy="142.6" r="2.3"/><circle cx="165.1" cy="203.9" r="2.3"/><circle cx="168" cy="113.5" r="2.3"/><circle cx="140.6" cy="140" r="2.3"/><circle cx="181.3" cy="153.6" r="2.3"/><circle cx="212" cy="105.9" r="2.3"/><circle cx="197.2" cy="74.4" r="2.3"/><circle cx="174" cy="123" r="2.3"/><circle cx="197.2" cy="123.3" r="2.3"/><circle cx="153.9" cy="180.1" r="2.3"/><circle cx="165.5" cy="205.8" r="2.3"/><circle cx="143.5" cy="120" r="2.3"/><circle cx="164.7" cy="170.9" r="2.3"/><circle cx="165.4" cy="186.9" r="2.3"/><circle cx="154.5" cy="200.7" r="2.3"/><circle cx="154.1" cy="116.8" r="2.3"/><circle cx="175.9" cy="104" r="2.3"/><circle cx="99.9" cy="138.1" r="2.3"/><circle cx="108.4" cy="122" r="2.3"/><circle cx="137.8" cy="105.8" r="2.3"/><circle cx="194.1" cy="86.2" r="2.3"/><circle cx="186.7" cy="98.6" r="2.3"/><circle cx="45.3" cy="148.6" r="2.3"/><circle cx="76.5" cy="149.2" r="2.3"/><circle cx="165.9" cy="149.7" r="2.3"/><circle cx="165.5" cy="194.8" r="2.3"/><circle cx="153.4" cy="127.5" r="2.3"/><circle cx="114.1" cy="133.6" r="2.3"/><circle cx="199" cy="85.4" r="2.3"/><circle cx="198.6" cy="75.9" r="2.3"/><circle cx="85" cy="143.9" r="2.3"/><circle cx="175.1" cy="172.8" r="2.3"/><circle cx="105" cy="123" r="2.3"/><circle cx="159.4" cy="187.8" r="2.3"/><circle cx="73.9" cy="140.5" r="2.3"/><circle cx="178.7" cy="162.4" r="2.3"/><circle cx="66.4" cy="144.1" r="2.3"/><circle cx="198.1" cy="109.1" r="2.3"/><circle cx="166.5" cy="203.6" r="2.3"/><circle cx="87.5" cy="122.9" r="2.3"/><circle cx="135.1" cy="97.1" r="2.3"/><circle cx="62.1" cy="131.9" r="2.3"/><circle cx="171.7" cy="139.8" r="2.3"/><circle cx="164.8" cy="150.1" r="2.3"/><circle cx="154.2" cy="144.3" r="2.3"/><circle cx="202" cy="139.1" r="2.3"/><circle cx="117.6" cy="107.7" r="2.3"/><circle cx="169.8" cy="209.3" r="2.3"/><circle cx="178.8" cy="181.2" r="2.3"/><circle cx="155.8" cy="142.8" r="2.3"/><circle cx="61.5" cy="137.5" r="2.3"/><circle cx="180.2" cy="183.3" r="2.3"/><circle cx="153.7" cy="111" r="2.3"/><circle cx="118" cy="143" r="2.3"/><circle cx="152.3" cy="135.9" r="2.3"/><circle cx="179.5" cy="132.6" r="2.3"/><circle cx="133.4" cy="171.7" r="2.3"/><circle cx="188.3" cy="153.4" r="2.3"/><circle cx="92.1" cy="134.4" r="2.3"/><circle cx="105.6" cy="113.4" r="2.3"/><circle cx="185" cy="171" r="2.3"/><circle cx="125.9" cy="159.7" r="2.3"/><circle cx="125.7" cy="117.9" r="2.3"/><circle cx="139.6" cy="91.5" r="2.3"/><circle cx="189.2" cy="127.3" r="2.3"/><circle cx="192.1" cy="113.7" r="2.3"/><circle cx="109.8" cy="111.6" r="2.3"/><circle cx="96.9" cy="146.8" r="2.3"/><circle cx="158.9" cy="128.5" r="2.3"/><circle cx="158.3" cy="111" r="2.3"/><circle cx="150.1" cy="193.9" r="2.3"/><circle cx="140.8" cy="113.3" r="2.3"/><circle cx="129.8" cy="149.7" r="2.3"/><circle cx="125.7" cy="159.8" r="2.3"/><circle cx="159.9" cy="203.1" r="2.3"/><circle cx="109.6" cy="137.3" r="2.3"/><circle cx="211.2" cy="83.8" r="2.3"/><circle cx="155" cy="171.2" r="2.3"/><circle cx="133.1" cy="147.6" r="2.3"/><circle cx="200.2" cy="77.3" r="2.3"/><circle cx="169.1" cy="169.5" r="2.3"/><circle cx="108" cy="146" r="2.3"/><circle cx="81.1" cy="139.9" r="2.3"/><circle cx="117.8" cy="158.4" r="2.3"/><circle cx="187.9" cy="117.7" r="2.3"/><circle cx="188.1" cy="135" r="2.3"/><circle cx="131.9" cy="114.4" r="2.3"/><circle cx="158.1" cy="195.5" r="2.3"/><circle cx="101.9" cy="121.5" r="2.3"/><circle cx="154.6" cy="194.3" r="2.3"/><circle cx="158.7" cy="195.1" r="2.3"/><circle cx="151.5" cy="169.8" r="2.3"/><circle cx="165.3" cy="165" r="2.3"/><circle cx="162.6" cy="105.2" r="2.3"/><circle cx="160.2" cy="143.4" r="2.3"/><circle cx="176.8" cy="87.8" r="2.3"/><circle cx="158.3" cy="129.5" r="2.3"/><circle cx="142" cy="112.2" r="2.3"/><circle cx="96.9" cy="137.8" r="2.3"/><circle cx="99.8" cy="139.2" r="2.3"/><circle cx="185.1" cy="161.8" r="2.3"/><circle cx="156.3" cy="105.1" r="2.3"/><circle cx="169.3" cy="109.8" r="2.3"/><circle cx="171.8" cy="101.2" r="2.3"/><circle cx="168.3" cy="205.5" r="2.3"/><circle cx="171.1" cy="85.1" r="2.3"/><circle cx="153.6" cy="182.6" r="2.3"/><circle cx="186.3" cy="84.4" r="2.3"/><circle cx="153.8" cy="137.2" r="2.3"/><circle cx="142.8" cy="117.6" r="2.3"/><circle cx="166.5" cy="201.1" r="2.3"/><circle cx="148.8" cy="120.1" r="2.3"/><circle cx="184.6" cy="116.2" r="2.3"/><circle cx="143.7" cy="114.7" r="2.3"/><circle cx="206.2" cy="108.5" r="2.3"/><circle cx="149.8" cy="177.7" r="2.3"/><circle cx="125.2" cy="104.2" r="2.3"/><circle cx="181.9" cy="143.7" r="2.3"/><circle cx="178.5" cy="108.3" r="2.3"/><circle cx="127.2" cy="163.9" r="2.3"/><circle cx="114.3" cy="152.7" r="2.3"/><circle cx="181.1" cy="96.4" r="2.3"/><circle cx="148.1" cy="125.8" r="2.3"/><circle cx="194.8" cy="147.9" r="2.3"/><circle cx="142.9" cy="112.8" r="2.3"/><circle cx="179.7" cy="138.4" r="2.3"/><circle cx="202.4" cy="82" r="2.3"/><circle cx="148.3" cy="134" r="2.3"/><circle cx="160.7" cy="133.3" r="2.3"/><circle cx="88.9" cy="126.9" r="2.3"/><circle cx="189.8" cy="79.3" r="2.3"/><circle cx="180.9" cy="182.7" r="2.3"/><circle cx="161.9" cy="118.6" r="2.3"/><circle cx="147.1" cy="190.2" r="2.3"/><circle cx="128" cy="98.3" r="2.3"/><circle cx="168.9" cy="102.4" r="2.3"/><circle cx="68.7" cy="141.8" r="2.3"/><circle cx="123" cy="125" r="2.3"/><circle cx="187.3" cy="146.5" r="2.3"/><circle cx="153.5" cy="94.3" r="2.3"/><circle cx="168.3" cy="158.3" r="2.3"/><circle cx="90.7" cy="136.2" r="2.3"/><circle cx="190.2" cy="124.2" r="2.3"/><circle cx="73.6" cy="148.6" r="2.3"/><circle cx="160.4" cy="104.9" r="2.3"/><circle cx="127.3" cy="116.7" r="2.3"/><circle cx="200" cy="81" r="2.3"/><circle cx="170.5" cy="117.8" r="2.3"/><circle cx="184.5" cy="125.2" r="2.3"/><circle cx="188.9" cy="154.1" r="2.3"/><circle cx="76.7" cy="139.9" r="2.3"/><circle cx="202.7" cy="106" r="2.3"/><circle cx="143.6" cy="93.5" r="2.3"/><circle cx="168" cy="102.7" r="2.3"/><circle cx="150.1" cy="149.3" r="2.3"/><circle cx="150.8" cy="182.4" r="2.3"/><circle cx="185.3" cy="162.9" r="2.3"/><circle cx="171.6" cy="135.7" r="2.3"/><circle cx="169.7" cy="80.6" r="2.3"/><circle cx="185.1" cy="124.3" r="2.3"/><circle cx="195.8" cy="113.5" r="2.3"/><circle cx="121.8" cy="152.4" r="2.3"/><circle cx="133.6" cy="154.8" r="2.3"/><circle cx="212.3" cy="106.9" r="2.3"/><circle cx="165.8" cy="102.4" r="2.3"/><circle cx="144.5" cy="153.6" r="2.3"/><circle cx="166.4" cy="88" r="2.3"/><circle cx="130.1" cy="150.1" r="2.3"/><circle cx="174" cy="97.6" r="2.3"/><circle cx="111.9" cy="137.6" r="2.3"/><circle cx="190.2" cy="154" r="2.3"/><circle cx="179.3" cy="124.8" r="2.3"/><circle cx="86.2" cy="124.3" r="2.3"/><circle cx="87.8" cy="137.9" r="2.3"/><circle cx="154.3" cy="128.9" r="2.3"/><circle cx="119.6" cy="150.7" r="2.3"/><circle cx="198" cy="77.4" r="2.3"/><circle cx="155.8" cy="113.5" r="2.3"/><circle cx="162.2" cy="114.7" r="2.3"/><circle cx="152.3" cy="111.1" r="2.3"/><circle cx="134.8" cy="139.7" r="2.3"/><circle cx="209.5" cy="116.9" r="2.3"/><circle cx="91.1" cy="144.8" r="2.3"/><circle cx="137.1" cy="95.2" r="2.3"/><circle cx="95.4" cy="135.4" r="2.3"/><circle cx="143.4" cy="173.5" r="2.3"/><circle cx="124.5" cy="157.5" r="2.3"/><circle cx="150.8" cy="145.2" r="2.3"/><circle cx="194" cy="109.2" r="2.3"/><circle cx="141.1" cy="148.7" r="2.3"/><circle cx="195.7" cy="140.6" r="2.3"/><circle cx="187" cy="152.8" r="2.3"/><circle cx="172.7" cy="188" r="2.3"/><circle cx="176.3" cy="146.1" r="2.3"/><circle cx="180.7" cy="182.5" r="2.3"/><circle cx="203.2" cy="91.9" r="2.3"/><circle cx="177.3" cy="163.4" r="2.3"/><circle cx="143.7" cy="137.2" r="2.3"/><circle cx="149.9" cy="131.2" r="2.3"/><circle cx="123" cy="143.4" r="2.3"/><circle cx="170" cy="117.7" r="2.3"/><circle cx="111.2" cy="122.2" r="2.3"/><circle cx="131.2" cy="141.3" r="2.3"/><circle cx="204.1" cy="122.5" r="2.3"/><circle cx="210.8" cy="103.9" r="2.3"/><circle cx="142.5" cy="149.6" r="2.3"/><circle cx="134.3" cy="152.7" r="2.3"/><circle cx="163.4" cy="132.8" r="2.3"/><circle cx="161.9" cy="153.9" r="2.3"/><circle cx="198.6" cy="137.7" r="2.3"/><circle cx="133.3" cy="150.8" r="2.3"/><circle cx="153.8" cy="166.1" r="2.3"/><circle cx="160.4" cy="102.7" r="2.3"/><circle cx="130.9" cy="158.3" r="2.3"/><circle cx="144.2" cy="136.1" r="2.3"/><circle cx="176.3" cy="88.6" r="2.3"/><circle cx="178.2" cy="122.4" r="2.3"/><circle cx="168.6" cy="127.2" r="2.3"/><circle cx="145.5" cy="126.4" r="2.3"/><circle cx="122.5" cy="132.2" r="2.3"/><circle cx="186.1" cy="119.4" r="2.3"/><circle cx="86.6" cy="132.8" r="2.3"/><circle cx="169.2" cy="106.5" r="2.3"/><circle cx="141.9" cy="89.9" r="2.3"/><circle cx="137.1" cy="132.2" r="2.3"/><circle cx="105.4" cy="110.2" r="2.3"/><circle cx="159.8" cy="125.3" r="2.3"/><circle cx="189.4" cy="91.9" r="2.3"/><circle cx="184.2" cy="96.8" r="2.3"/><circle cx="132.1" cy="107.5" r="2.3"/><circle cx="167.1" cy="112.7" r="2.3"/><circle cx="108.3" cy="110.4" r="2.3"/><circle cx="150" cy="105.2" r="2.3"/><circle cx="195.9" cy="91.2" r="2.3"/><circle cx="133.5" cy="156.6" r="2.3"/><circle cx="143" cy="120.5" r="2.3"/><circle cx="107.2" cy="150.1" r="2.3"/><circle cx="93.5" cy="134.9" r="2.3"/><circle cx="159.6" cy="126.8" r="2.3"/><circle cx="165.8" cy="110.8" r="2.3"/><circle cx="191.4" cy="126.9" r="2.3"/><circle cx="153.6" cy="100.3" r="2.3"/><circle cx="171.9" cy="183.2" r="2.3"/><circle cx="97.1" cy="131.4" r="2.3"/><circle cx="155.2" cy="100" r="2.3"/><circle cx="190.1" cy="160.9" r="2.3"/><circle cx="168.8" cy="111.7" r="2.3"/><circle cx="174.5" cy="85.4" r="2.3"/><circle cx="165" cy="133.4" r="2.3"/><circle cx="174.2" cy="201.3" r="2.3"/><circle cx="172.6" cy="201.5" r="2.3"/><circle cx="153.5" cy="142.6" r="2.3"/><circle cx="118.8" cy="151.9" r="2.3"/><circle cx="205.5" cy="91.9" r="2.3"/><circle cx="176.7" cy="78.8" r="2.3"/><circle cx="166.4" cy="197.7" r="2.3"/><circle cx="138.9" cy="111" r="2.3"/><circle cx="167.2" cy="176.6" r="2.3"/><circle cx="133.9" cy="141.4" r="2.3"/><circle cx="206.9" cy="126.8" r="2.3"/><circle cx="148.4" cy="143.9" r="2.3"/><circle cx="100.8" cy="145.1" r="2.3"/><circle cx="63.4" cy="148.3" r="2.3"/><circle cx="157.7" cy="111.2" r="2.3"/><circle cx="190.2" cy="118.2" r="2.3"/><circle cx="187.7" cy="121.9" r="2.3"/><circle cx="142.9" cy="170" r="2.3"/><circle cx="130.3" cy="149.9" r="2.3"/><circle cx="163.9" cy="97.5" r="2.3"/><circle cx="120.8" cy="101.8" r="2.3"/><circle cx="181" cy="138.4" r="2.3"/><circle cx="133.8" cy="137.7" r="2.3"/><circle cx="103.3" cy="140.4" r="2.3"/><circle cx="160.1" cy="200.9" r="2.3"/><circle cx="201.3" cy="97.7" r="2.3"/><circle cx="95.8" cy="141.1" r="2.3"/><circle cx="142.2" cy="126.3" r="2.3"/><circle cx="100.7" cy="143.8" r="2.3"/><circle cx="185.2" cy="81.4" r="2.3"/><circle cx="161.9" cy="167" r="2.3"/><circle cx="156.8" cy="118.7" r="2.3"/><circle cx="162.3" cy="141.8" r="2.3"/><circle cx="116.7" cy="154.7" r="2.3"/><circle cx="142.5" cy="133.8" r="2.3"/><circle cx="136.6" cy="111.2" r="2.3"/><circle cx="129.4" cy="158.4" r="2.3"/><circle cx="175.8" cy="89.9" r="2.3"/><circle cx="179" cy="93.3" r="2.3"/><circle cx="179.2" cy="81" r="2.3"/><circle cx="85.6" cy="130.1" r="2.3"/><circle cx="167.2" cy="138.5" r="2.3"/><circle cx="162.6" cy="200.8" r="2.3"/><circle cx="65.8" cy="130.2" r="2.3"/><circle cx="169.7" cy="78.8" r="2.3"/><circle cx="149.3" cy="87.5" r="2.3"/><circle cx="161.7" cy="111.7" r="2.3"/><circle cx="78" cy="141.7" r="2.3"/><circle cx="189.9" cy="162.7" r="2.3"/><circle cx="164.1" cy="198.1" r="2.3"/><circle cx="183.4" cy="77.5" r="2.3"/><circle cx="162.4" cy="133.2" r="2.3"/><circle cx="191.1" cy="133.4" r="2.3"/><circle cx="73.9" cy="128.3" r="2.3"/><circle cx="125.7" cy="162" r="2.3"/><circle cx="111.8" cy="127.2" r="2.3"/><circle cx="160.9" cy="114.5" r="2.3"/><circle cx="154.3" cy="171" r="2.3"/><circle cx="107.5" cy="115.9" r="2.3"/><circle cx="172.8" cy="151.4" r="2.3"/><circle cx="154.7" cy="126.7" r="2.3"/><circle cx="140.1" cy="135.3" r="2.3"/><circle cx="128" cy="129.3" r="2.3"/><circle cx="123.1" cy="141.5" r="2.3"/><circle cx="143.2" cy="119.2" r="2.3"/><circle cx="96.8" cy="120.1" r="2.3"/><circle cx="170.6" cy="158" r="2.3"/><circle cx="207.1" cy="125.1" r="2.3"/><circle cx="56.3" cy="147.6" r="2.3"/><circle cx="200.5" cy="115" r="2.3"/><circle cx="166.7" cy="106.1" r="2.3"/><circle cx="156.9" cy="102.7" r="2.3"/><circle cx="148.8" cy="84.4" r="2.3"/><circle cx="204.6" cy="105.1" r="2.3"/><circle cx="157.1" cy="135.2" r="2.3"/><circle cx="162.3" cy="124.7" r="2.3"/><circle cx="54.5" cy="136.6" r="2.3"/><circle cx="102.5" cy="149.1" r="2.3"/><circle cx="148.2" cy="112.1" r="2.3"/><circle cx="151" cy="185" r="2.3"/><circle cx="177.6" cy="86" r="2.3"/><circle cx="185.7" cy="138" r="2.3"/><circle cx="138" cy="163.8" r="2.3"/><circle cx="140.8" cy="174.5" r="2.3"/><circle cx="148.9" cy="123.6" r="2.3"/><circle cx="173.1" cy="112.2" r="2.3"/><circle cx="167.9" cy="191.1" r="2.3"/><circle cx="179.1" cy="120.2" r="2.3"/><circle cx="123.1" cy="115.4" r="2.3"/><circle cx="178.8" cy="128.5" r="2.3"/><circle cx="175.8" cy="86" r="2.3"/><circle cx="54.9" cy="150.3" r="2.3"/><circle cx="140.8" cy="100.4" r="2.3"/><circle cx="179.5" cy="109.8" r="2.3"/><circle cx="154.9" cy="125.7" r="2.3"/><circle cx="183.4" cy="143.8" r="2.3"/><circle cx="90" cy="139.7" r="2.3"/><circle cx="176.2" cy="172.3" r="2.3"/><circle cx="195.3" cy="113.7" r="2.3"/><circle cx="93.5" cy="123.7" r="2.3"/><circle cx="148.2" cy="142.7" r="2.3"/><circle cx="194.3" cy="100.4" r="2.3"/><circle cx="163" cy="86.1" r="2.3"/><circle cx="168.8" cy="209.6" r="2.3"/><circle cx="164.1" cy="77.9" r="2.3"/><circle cx="132.1" cy="108.1" r="2.3"/><circle cx="65.4" cy="148" r="2.3"/><circle cx="68.1" cy="138.8" r="2.3"/><circle cx="105.8" cy="149.4" r="2.3"/><circle cx="203.9" cy="126.5" r="2.3"/><circle cx="115.3" cy="158.8" r="2.3"/><circle cx="163.9" cy="173.9" r="2.3"/><circle cx="138.9" cy="157.6" r="2.3"/><circle cx="113.8" cy="121.6" r="2.3"/><circle cx="111.7" cy="132.1" r="2.3"/><circle cx="109.9" cy="109.6" r="2.3"/><circle cx="202.1" cy="79.7" r="2.3"/><circle cx="164.9" cy="122.6" r="2.3"/><circle cx="156.6" cy="157.6" r="2.3"/><circle cx="192.6" cy="151.6" r="2.3"/><circle cx="173.5" cy="131.1" r="2.3"/><circle cx="168.1" cy="133.4" r="2.3"/><circle cx="135.8" cy="167.6" r="2.3"/><circle cx="162" cy="122.3" r="2.3"/><circle cx="153.6" cy="156.7" r="2.3"/><circle cx="135.1" cy="146.4" r="2.3"/><circle cx="135.4" cy="154.3" r="2.3"/><circle cx="185.6" cy="109.2" r="2.3"/><circle cx="195.1" cy="78.7" r="2.3"/><circle cx="186.4" cy="91.2" r="2.3"/><circle cx="183.9" cy="153.3" r="2.3"/><circle cx="165.1" cy="142.1" r="2.3"/><circle cx="176.2" cy="95.4" r="2.3"/><circle cx="162.5" cy="129.2" r="2.3"/><circle cx="134.8" cy="109.1" r="2.3"/><circle cx="108.8" cy="125.1" r="2.3"/><circle cx="169.1" cy="114.8" r="2.3"/><circle cx="189.2" cy="86.2" r="2.3"/><circle cx="79.5" cy="138" r="2.3"/><circle cx="182" cy="168.4" r="2.3"/><circle cx="121.3" cy="129.3" r="2.3"/><circle cx="168.1" cy="118.1" r="2.3"/><circle cx="185.2" cy="127" r="2.3"/><circle cx="205" cy="101.9" r="2.3"/><circle cx="175.7" cy="131.2" r="2.3"/><circle cx="135.7" cy="149.5" r="2.3"/><circle cx="124.8" cy="144.1" r="2.3"/><circle cx="190.2" cy="136.7" r="2.3"/><circle cx="120.8" cy="148.6" r="2.3"/><circle cx="160.8" cy="187.5" r="2.3"/><circle cx="162.5" cy="158.4" r="2.3"/><circle cx="178" cy="192.1" r="2.3"/><circle cx="175.2" cy="160" r="2.3"/><circle cx="167.9" cy="147.3" r="2.3"/><circle cx="195.8" cy="94.7" r="2.3"/><circle cx="133.2" cy="137.6" r="2.3"/><circle cx="193.1" cy="112.1" r="2.3"/><circle cx="137.6" cy="130.3" r="2.3"/><circle cx="125" cy="148.3" r="2.3"/><circle cx="145.8" cy="129.1" r="2.3"/><circle cx="183.6" cy="103.2" r="2.3"/><circle cx="137" cy="135.8" r="2.3"/><circle cx="142.5" cy="122.5" r="2.3"/><circle cx="183.7" cy="164.4" r="2.3"/><circle cx="54.5" cy="139.7" r="2.3"/><circle cx="194.2" cy="83.2" r="2.3"/><circle cx="148" cy="100.1" r="2.3"/><circle cx="183.4" cy="149.7" r="2.3"/><circle cx="161.4" cy="177.3" r="2.3"/><circle cx="189.9" cy="94.7" r="2.3"/><circle cx="203.7" cy="104.3" r="2.3"/><circle cx="163.5" cy="96.2" r="2.3"/><circle cx="145.5" cy="121.7" r="2.3"/><circle cx="141.8" cy="96" r="2.3"/><circle cx="202.7" cy="122.6" r="2.3"/><circle cx="190.5" cy="95.7" r="2.3"/><circle cx="60.7" cy="144.5" r="2.3"/><circle cx="170.8" cy="139.1" r="2.3"/><circle cx="162.3" cy="89.8" r="2.3"/><circle cx="188.2" cy="91.1" r="2.3"/><circle cx="94.9" cy="126.3" r="2.3"/><circle cx="174.7" cy="149.5" r="2.3"/><circle cx="205.8" cy="86.5" r="2.3"/><circle cx="148.2" cy="156.4" r="2.3"/><circle cx="191.2" cy="107.4" r="2.3"/><circle cx="204.9" cy="77.1" r="2.3"/><circle cx="158.4" cy="79.8" r="2.3"/><circle cx="102.3" cy="142.1" r="2.3"/><circle cx="147.8" cy="144" r="2.3"/><circle cx="105.7" cy="130.5" r="2.3"/><circle cx="159.6" cy="97.6" r="2.3"/><circle cx="196" cy="146.9" r="2.3"/><circle cx="197" cy="90.3" r="2.3"/><circle cx="130.6" cy="155.6" r="2.3"/><circle cx="64.9" cy="145" r="2.3"/><circle cx="132.4" cy="129.2" r="2.3"/><circle cx="78.8" cy="135" r="2.3"/><circle cx="143.5" cy="179.5" r="2.3"/><circle cx="134.4" cy="117.5" r="2.3"/><circle cx="199" cy="85.2" r="2.3"/><circle cx="144.9" cy="108.5" r="2.3"/><circle cx="167.8" cy="81.7" r="2.3"/><circle cx="151.8" cy="179.9" r="2.3"/><circle cx="185.8" cy="125.4" r="2.3"/><circle cx="185.1" cy="144" r="2.3"/><circle cx="162.3" cy="95.6" r="2.3"/><circle cx="127.7" cy="149.6" r="2.3"/><circle cx="174.9" cy="171.3" r="2.3"/><circle cx="173.9" cy="93.1" r="2.3"/><circle cx="146.9" cy="139.9" r="2.3"/><circle cx="195.6" cy="118.6" r="2.3"/><circle cx="208.6" cy="90.1" r="2.3"/><circle cx="123.9" cy="108.9" r="2.3"/><circle cx="163.4" cy="182.8" r="2.3"/><circle cx="182.2" cy="178.5" r="2.3"/><circle cx="157.7" cy="202.5" r="2.3"/><circle cx="45.3" cy="148.3" r="2.3"/><circle cx="185.4" cy="137.3" r="2.3"/><circle cx="149.4" cy="143.4" r="2.3"/><circle cx="151.9" cy="117.6" r="2.3"/><circle cx="166.2" cy="141" r="2.3"/><circle cx="159.2" cy="197.9" r="2.3"/><circle cx="112.9" cy="149.9" r="2.3"/><circle cx="216" cy="101.6" r="2.3"/><circle cx="188.6" cy="97.3" r="2.3"/><circle cx="88" cy="127" r="2.3"/><circle cx="194.1" cy="152.2" r="2.3"/><circle cx="154.1" cy="130.6" r="2.3"/><circle cx="163.1" cy="159" r="2.3"/><circle cx="174.6" cy="77.5" r="2.3"/><circle cx="155.8" cy="115.8" r="2.3"/><circle cx="176.8" cy="117.4" r="2.3"/><circle cx="138.9" cy="137.6" r="2.3"/><circle cx="167.6" cy="179.8" r="2.3"/><circle cx="182.2" cy="126.2" r="2.3"/><circle cx="196.7" cy="97.3" r="2.3"/><circle cx="172.6" cy="98.6" r="2.3"/><circle cx="96.1" cy="131.7" r="2.3"/><circle cx="208.2" cy="102.8" r="2.3"/><circle cx="100.2" cy="140.4" r="2.3"/><circle cx="112.9" cy="132.1" r="2.3"/><circle cx="211.7" cy="113.6" r="2.3"/><circle cx="155" cy="193.5" r="2.3"/><circle cx="175.9" cy="145.4" r="2.3"/><circle cx="141.4" cy="176.6" r="2.3"/><circle cx="175.1" cy="115" r="2.3"/><circle cx="136.3" cy="117" r="2.3"/><circle cx="153.8" cy="112.5" r="2.3"/><circle cx="178.3" cy="78.4" r="2.3"/><circle cx="187.9" cy="160.4" r="2.3"/><circle cx="175.3" cy="177.8" r="2.3"/><circle cx="154.5" cy="180" r="2.3"/><circle cx="178.9" cy="133.5" r="2.3"/><circle cx="103.8" cy="133.2" r="2.3"/><circle cx="184.3" cy="126.6" r="2.3"/><circle cx="136.8" cy="153.3" r="2.3"/><circle cx="55.9" cy="136.5" r="2.3"/><circle cx="160.4" cy="162.1" r="2.3"/><circle cx="175.3" cy="150.1" r="2.3"/><circle cx="173.4" cy="200.1" r="2.3"/><circle cx="166.6" cy="167.5" r="2.3"/><circle cx="183.7" cy="128.1" r="2.3"/><circle cx="165.9" cy="83.3" r="2.3"/><circle cx="190" cy="122.7" r="2.3"/><circle cx="54.8" cy="141.5" r="2.3"/><circle cx="153.7" cy="125.1" r="2.3"/><circle cx="184.8" cy="155.8" r="2.3"/><circle cx="153.8" cy="185" r="2.3"/><circle cx="146" cy="134.4" r="2.3"/><circle cx="133.3" cy="163.8" r="2.3"/><circle cx="167.4" cy="142.9" r="2.3"/><circle cx="114.4" cy="116.1" r="2.3"/><circle cx="134.1" cy="140.4" r="2.3"/><circle cx="141.7" cy="181.4" r="2.3"/><circle cx="169.9" cy="184.2" r="2.3"/><circle cx="169.8" cy="170.3" r="2.3"/><circle cx="90.3" cy="127.4" r="2.3"/><circle cx="184.1" cy="143" r="2.3"/><circle cx="142.3" cy="151.2" r="2.3"/><circle cx="167.7" cy="219.5" r="2.3"/><circle cx="171.6" cy="131.9" r="2.3"/><circle cx="201.7" cy="131.7" r="2.3"/><circle cx="123.7" cy="163.3" r="2.3"/><circle cx="154.9" cy="182.3" r="2.3"/><circle cx="170.2" cy="80.4" r="2.3"/><circle cx="126.2" cy="134.4" r="2.3"/><circle cx="161.2" cy="183.3" r="2.3"/><circle cx="164.6" cy="145.6" r="2.3"/><circle cx="84.2" cy="133.2" r="2.3"/><circle cx="154.5" cy="187.7" r="2.3"/><circle cx="204" cy="113" r="2.3"/><circle cx="175.9" cy="88.2" r="2.3"/><circle cx="131.7" cy="168.7" r="2.3"/><circle cx="139.1" cy="117.4" r="2.3"/><circle cx="173.8" cy="75.8" r="2.3"/><circle cx="157.3" cy="104.3" r="2.3"/><circle cx="171.2" cy="204.6" r="2.3"/><circle cx="191.7" cy="87.8" r="2.3"/><circle cx="108.3" cy="119.2" r="2.3"/><circle cx="176.8" cy="95.1" r="2.3"/><circle cx="177.9" cy="73.1" r="2.3"/><circle cx="164.6" cy="165.4" r="2.3"/><circle cx="134.7" cy="143.1" r="2.3"/><circle cx="171.6" cy="196.3" r="2.3"/><circle cx="168.8" cy="76.8" r="2.3"/><circle cx="162.6" cy="204.6" r="2.3"/><circle cx="88.3" cy="118.9" r="2.3"/><circle cx="105" cy="122.6" r="2.3"/><circle cx="60.9" cy="141.1" r="2.3"/><circle cx="175.1" cy="114.8" r="2.3"/><circle cx="87.8" cy="136.3" r="2.3"/><circle cx="182.4" cy="155" r="2.3"/><circle cx="212" cy="97.1" r="2.3"/><circle cx="136.6" cy="173.4" r="2.3"/><circle cx="75.1" cy="140.3" r="2.3"/><circle cx="163.7" cy="179.7" r="2.3"/><circle cx="173.9" cy="189.5" r="2.3"/><circle cx="147.1" cy="174.4" r="2.3"/><circle cx="148.2" cy="180.4" r="2.3"/><circle cx="64.1" cy="149" r="2.3"/><circle cx="97.1" cy="135.8" r="2.3"/><circle cx="164.1" cy="141.4" r="2.3"/><circle cx="170.9" cy="86.8" r="2.3"/><circle cx="206.3" cy="125.4" r="2.3"/><circle cx="188.9" cy="76.8" r="2.3"/><circle cx="188.3" cy="107.3" r="2.3"/><circle cx="160.9" cy="115.3" r="2.3"/><circle cx="201.5" cy="96.7" r="2.3"/><circle cx="158.9" cy="163.6" r="2.3"/><circle cx="159.2" cy="100.2" r="2.3"/><circle cx="157.7" cy="160.9" r="2.3"/><circle cx="88.2" cy="129.1" r="2.3"/><circle cx="94" cy="131.4" r="2.3"/><circle cx="177.2" cy="106.9" r="2.3"/><circle cx="111.2" cy="129" r="2.3"/><circle cx="155.8" cy="145.6" r="2.3"/><circle cx="195.4" cy="79.9" r="2.3"/><circle cx="159.6" cy="202.5" r="2.3"/><circle cx="127.7" cy="99.1" r="2.3"/><circle cx="84.5" cy="140.7" r="2.3"/><circle cx="107.2" cy="145.2" r="2.3"/><circle cx="173.6" cy="159.8" r="2.3"/><circle cx="193.3" cy="89.2" r="2.3"/><circle cx="194.5" cy="105.1" r="2.3"/><circle cx="171.4" cy="83.6" r="2.3"/><circle cx="123.1" cy="121.6" r="2.3"/><circle cx="157.8" cy="152.3" r="2.3"/><circle cx="48.7" cy="145.4" r="2.3"/><circle cx="173" cy="155.8" r="2.3"/><circle cx="149.5" cy="173.6" r="2.3"/><circle cx="193.2" cy="129.4" r="2.3"/><circle cx="201.1" cy="100.3" r="2.3"/><circle cx="200.9" cy="84.8" r="2.3"/><circle cx="84.9" cy="146.4" r="2.3"/><circle cx="152.3" cy="105.8" r="2.3"/><circle cx="189.2" cy="103.5" r="2.3"/><circle cx="100.3" cy="135.5" r="2.3"/><circle cx="89.2" cy="142.8" r="2.3"/><circle cx="142" cy="183" r="2.3"/><circle cx="135.1" cy="162.7" r="2.3"/><circle cx="198.3" cy="80.9" r="2.3"/><circle cx="146.1" cy="142.6" r="2.3"/><circle cx="159.3" cy="206.2" r="2.3"/><circle cx="210.5" cy="114" r="2.3"/><circle cx="94.8" cy="117.1" r="2.3"/><circle cx="117.4" cy="154.6" r="2.3"/><circle cx="157.9" cy="152" r="2.3"/><circle cx="158.7" cy="163.5" r="2.3"/><circle cx="211.5" cy="102.1" r="2.3"/><circle cx="143.4" cy="100.3" r="2.3"/><circle cx="164.6" cy="111.9" r="2.3"/><circle cx="85.5" cy="129.1" r="2.3"/><circle cx="152.8" cy="145.6" r="2.3"/><circle cx="161.1" cy="196.7" r="2.3"/><circle cx="46.2" cy="146.2" r="2.3"/><circle cx="162.1" cy="182.6" r="2.3"/><circle cx="156.8" cy="100.1" r="2.3"/><circle cx="84.9" cy="139.2" r="2.3"/><circle cx="210.7" cy="104.3" r="2.3"/><circle cx="200.7" cy="108.3" r="2.3"/><circle cx="172.1" cy="128.1" r="2.3"/><circle cx="159.6" cy="191.6" r="2.3"/><circle cx="115" cy="137.6" r="2.3"/><circle cx="161.8" cy="97.1" r="2.3"/><circle cx="155.9" cy="171" r="2.3"/><circle cx="187" cy="165.8" r="2.3"/><circle cx="146.7" cy="102.9" r="2.3"/><circle cx="170.4" cy="114.5" r="2.3"/><circle cx="212.8" cy="95.2" r="2.3"/><circle cx="100" cy="137.1" r="2.3"/><circle cx="127.6" cy="112.3" r="2.3"/><circle cx="152.8" cy="180.7" r="2.3"/><circle cx="170.9" cy="125.3" r="2.3"/><circle cx="129.8" cy="101.4" r="2.3"/><circle cx="164.7" cy="132.1" r="2.3"/><circle cx="168.9" cy="107.8" r="2.3"/><circle cx="159.6" cy="160.1" r="2.3"/><circle cx="145.6" cy="88.8" r="2.3"/><circle cx="154.5" cy="109.6" r="2.3"/><circle cx="89.4" cy="138.1" r="2.3"/><circle cx="155.5" cy="179.8" r="2.3"/><circle cx="159.4" cy="112.7" r="2.3"/><circle cx="168.8" cy="221.6" r="2.3"/><circle cx="182.3" cy="120.3" r="2.3"/><circle cx="133.6" cy="95.6" r="2.3"/><circle cx="124.6" cy="102.8" r="2.3"/><circle cx="65.2" cy="151.1" r="2.3"/><circle cx="134.9" cy="128.6" r="2.3"/><circle cx="168.8" cy="154.6" r="2.3"/><circle cx="179" cy="88.6" r="2.3"/><circle cx="128.4" cy="111.4" r="2.3"/><circle cx="160.5" cy="106.6" r="2.3"/><circle cx="99.7" cy="146.4" r="2.3"/><circle cx="168.1" cy="192.2" r="2.3"/><circle cx="109" cy="141.7" r="2.3"/><circle cx="151.9" cy="88.4" r="2.3"/><circle cx="66.9" cy="144.7" r="2.3"/><circle cx="152" cy="118.8" r="2.3"/><circle cx="178.2" cy="140.2" r="2.3"/><circle cx="59.4" cy="133.4" r="2.3"/><circle cx="177.7" cy="93.1" r="2.3"/><circle cx="189" cy="98.4" r="2.3"/><circle cx="118.4" cy="124.7" r="2.3"/><circle cx="213.1" cy="90.2" r="2.3"/><circle cx="149.3" cy="117" r="2.3"/><circle cx="171.8" cy="92.2" r="2.3"/><circle cx="103.3" cy="110.7" r="2.3"/><circle cx="88.8" cy="145.2" r="2.3"/><circle cx="216.4" cy="95.2" r="2.3"/><circle cx="192.8" cy="122.1" r="2.3"/><circle cx="90.6" cy="129.1" r="2.3"/><circle cx="109.5" cy="127" r="2.3"/><circle cx="170.8" cy="189.8" r="2.3"/><circle cx="185.6" cy="111.5" r="2.3"/><circle cx="158.3" cy="131.4" r="2.3"/><circle cx="190.2" cy="92.8" r="2.3"/><circle cx="138" cy="124.5" r="2.3"/><circle cx="186.9" cy="125.9" r="2.3"/><circle cx="197" cy="93.7" r="2.3"/><circle cx="161.9" cy="173.8" r="2.3"/><circle cx="139.5" cy="143.1" r="2.3"/><circle cx="81.7" cy="125.1" r="2.3"/><circle cx="182.7" cy="107.4" r="2.3"/><circle cx="173.1" cy="103" r="2.3"/><circle cx="124.7" cy="134.7" r="2.3"/><circle cx="199.7" cy="145.4" r="2.3"/><circle cx="144" cy="88.5" r="2.3"/><circle cx="134.5" cy="147.5" r="2.3"/><circle cx="160" cy="104.4" r="2.3"/><circle cx="107.4" cy="128.7" r="2.3"/><circle cx="181.4" cy="127.6" r="2.3"/><circle cx="183.6" cy="106.2" r="2.3"/><circle cx="119.7" cy="131.4" r="2.3"/><circle cx="167.7" cy="217" r="2.3"/><circle cx="182.5" cy="100.6" r="2.3"/><circle cx="141.7" cy="94.4" r="2.3"/><circle cx="154" cy="197.3" r="2.3"/><circle cx="117.4" cy="152.1" r="2.3"/><circle cx="168.9" cy="188.7" r="2.3"/><circle cx="134.1" cy="99.4" r="2.3"/><circle cx="169.6" cy="188.9" r="2.3"/><circle cx="168" cy="182.8" r="2.3"/><circle cx="205" cy="80.2" r="2.3"/><circle cx="182.8" cy="177.7" r="2.3"/><circle cx="69.2" cy="143.8" r="2.3"/><circle cx="72.5" cy="136" r="2.3"/><circle cx="151.8" cy="119.3" r="2.3"/><circle cx="99.3" cy="150.7" r="2.3"/><circle cx="76.4" cy="146.8" r="2.3"/><circle cx="126.3" cy="102.9" r="2.3"/><circle cx="147.2" cy="94.6" r="2.3"/><circle cx="114.5" cy="127.2" r="2.3"/><circle cx="118.3" cy="126.9" r="2.3"/><circle cx="164.3" cy="133.1" r="2.3"/><circle cx="119.6" cy="118.5" r="2.3"/><circle cx="140.7" cy="175.4" r="2.3"/><circle cx="69.7" cy="129.1" r="2.3"/><circle cx="146.9" cy="177.7" r="2.3"/><circle cx="139.8" cy="134.8" r="2.3"/><circle cx="127.7" cy="149.3" r="2.3"/><circle cx="127.2" cy="123.9" r="2.3"/><circle cx="180.9" cy="112.7" r="2.3"/><circle cx="108.8" cy="132.5" r="2.3"/><circle cx="138" cy="115" r="2.3"/><circle cx="171.7" cy="184.3" r="2.3"/><circle cx="119.8" cy="102.1" r="2.3"/><circle cx="167.4" cy="170.3" r="2.3"/><circle cx="119.9" cy="133" r="2.3"/><circle cx="167" cy="99.3" r="2.3"/><circle cx="162.6" cy="77.2" r="2.3"/><circle cx="144.4" cy="142.4" r="2.3"/><circle cx="103" cy="133.8" r="2.3"/><circle cx="180.9" cy="152.3" r="2.3"/><circle cx="143.4" cy="185.6" r="2.3"/><circle cx="151.2" cy="121.3" r="2.3"/><circle cx="109.8" cy="114" r="2.3"/><circle cx="129.3" cy="114.9" r="2.3"/><circle cx="204.6" cy="84.9" r="2.3"/><circle cx="146.3" cy="138.7" r="2.3"/><circle cx="206.4" cy="85.6" r="2.3"/><circle cx="179.3" cy="88.1" r="2.3"/><circle cx="195.7" cy="140.9" r="2.3"/><circle cx="170.5" cy="112" r="2.3"/><circle cx="171.2" cy="173.2" r="2.3"/><circle cx="61.4" cy="149" r="2.3"/><circle cx="169.7" cy="105.5" r="2.3"/><circle cx="158" cy="115.4" r="2.3"/><circle cx="118.5" cy="161.2" r="2.3"/><circle cx="174.5" cy="94.6" r="2.3"/><circle cx="162.4" cy="80.4" r="2.3"/><circle cx="173" cy="92.5" r="2.3"/><circle cx="155" cy="130.7" r="2.3"/><circle cx="50.3" cy="146.6" r="2.3"/><circle cx="199.5" cy="77.4" r="2.3"/><circle cx="125.1" cy="145.2" r="2.3"/><circle cx="169.2" cy="185.7" r="2.3"/><circle cx="185.8" cy="90.7" r="2.3"/><circle cx="76.8" cy="150" r="2.3"/><circle cx="180.8" cy="111" r="2.3"/><circle cx="202.8" cy="106.5" r="2.3"/><circle cx="153.9" cy="155.1" r="2.3"/><circle cx="192.8" cy="141.2" r="2.3"/><circle cx="173.7" cy="108.2" r="2.3"/><circle cx="140.6" cy="135.2" r="2.3"/><circle cx="126.1" cy="148.9" r="2.3"/><circle cx="91" cy="129.4" r="2.3"/><circle cx="146.8" cy="97.3" r="2.3"/><circle cx="198.2" cy="129.4" r="2.3"/><circle cx="139.5" cy="121" r="2.3"/><circle cx="153.7" cy="159.8" r="2.3"/><circle cx="154.5" cy="156.7" r="2.3"/><circle cx="140.5" cy="104.1" r="2.3"/><circle cx="53" cy="138.5" r="2.3"/><circle cx="133.9" cy="122.5" r="2.3"/><circle cx="165.5" cy="82.5" r="2.3"/><circle cx="157.9" cy="97.1" r="2.3"/><circle cx="170.5" cy="158" r="2.3"/><circle cx="72.3" cy="150.4" r="2.3"/><circle cx="144.2" cy="159.4" r="2.3"/><circle cx="116.1" cy="156.8" r="2.3"/><circle cx="117.8" cy="108.9" r="2.3"/><circle cx="175.8" cy="109.7" r="2.3"/><circle cx="187.5" cy="109.7" r="2.3"/><circle cx="60.6" cy="146.5" r="2.3"/><circle cx="111.7" cy="124.3" r="2.3"/><circle cx="177.2" cy="106.7" r="2.3"/><circle cx="160.7" cy="202.2" r="2.3"/><circle cx="123" cy="150.5" r="2.3"/><circle cx="118" cy="120.1" r="2.3"/><circle cx="97.5" cy="122.6" r="2.3"/><circle cx="54.6" cy="151.1" r="2.3"/><circle cx="173.3" cy="183.8" r="2.3"/><circle cx="133.1" cy="98.2" r="2.3"/><circle cx="160.7" cy="139.6" r="2.3"/><circle cx="159.2" cy="86.3" r="2.3"/><circle cx="83.1" cy="134.1" r="2.3"/><circle cx="102.6" cy="113.5" r="2.3"/><circle cx="160.9" cy="106.7" r="2.3"/><circle cx="61.8" cy="150.4" r="2.3"/><circle cx="129.2" cy="102.3" r="2.3"/><circle cx="160.7" cy="149.3" r="2.3"/><circle cx="184.8" cy="117.5" r="2.3"/><circle cx="163.5" cy="180.8" r="2.3"/><circle cx="183.5" cy="89.6" r="2.3"/><circle cx="145.7" cy="184.8" r="2.3"/><circle cx="168.9" cy="90" r="2.3"/><circle cx="128.3" cy="124.6" r="2.3"/><circle cx="109.3" cy="151.6" r="2.3"/><circle cx="146.5" cy="106.7" r="2.3"/><circle cx="131.9" cy="137.3" r="2.3"/><circle cx="159.7" cy="100.9" r="2.3"/><circle cx="136.8" cy="115" r="2.3"/><circle cx="178.1" cy="181.8" r="2.3"/><circle cx="180" cy="152.7" r="2.3"/><circle cx="133.1" cy="130.5" r="2.3"/><circle cx="94.9" cy="134.7" r="2.3"/><circle cx="167.5" cy="199.7" r="2.3"/><circle cx="81.4" cy="142.5" r="2.3"/><circle cx="106.6" cy="119.8" r="2.3"/><circle cx="171.7" cy="104.4" r="2.3"/><circle cx="158.1" cy="177.5" r="2.3"/><circle cx="154.7" cy="180.2" r="2.3"/><circle cx="184.1" cy="107.8" r="2.3"/><circle cx="129.1" cy="129.6" r="2.3"/><circle cx="91.3" cy="148" r="2.3"/><circle cx="168" cy="211.7" r="2.3"/><circle cx="120.7" cy="137.7" r="2.3"/><circle cx="192.4" cy="123.7" r="2.3"/><circle cx="178.6" cy="130.4" r="2.3"/><circle cx="120.8" cy="134" r="2.3"/><circle cx="147.8" cy="111.8" r="2.3"/><circle cx="152.9" cy="101.4" r="2.3"/><circle cx="150.5" cy="117.8" r="2.3"/><circle cx="202.3" cy="108.4" r="2.3"/><circle cx="146.2" cy="161.6" r="2.3"/><circle cx="148.9" cy="151.6" r="2.3"/><circle cx="98.5" cy="137" r="2.3"/><circle cx="139.6" cy="132.4" r="2.3"/><circle cx="183.2" cy="88.3" r="2.3"/><circle cx="60.3" cy="144" r="2.3"/><circle cx="108.5" cy="139.5" r="2.3"/><circle cx="132.6" cy="117.1" r="2.3"/><circle cx="166.3" cy="152.5" r="2.3"/><circle cx="214.8" cy="98.4" r="2.3"/><circle cx="133.1" cy="149" r="2.3"/><circle cx="106.6" cy="124.3" r="2.3"/><circle cx="151.2" cy="159.9" r="2.3"/><circle cx="136.8" cy="123.1" r="2.3"/><circle cx="103.3" cy="137.1" r="2.3"/><circle cx="159.4" cy="175.7" r="2.3"/><circle cx="121.9" cy="135.3" r="2.3"/><circle cx="161.7" cy="149.5" r="2.3"/><circle cx="126.5" cy="102.8" r="2.3"/><circle cx="164.9" cy="112.4" r="2.3"/><circle cx="156.3" cy="93.2" r="2.3"/><circle cx="150.9" cy="98.8" r="2.3"/><circle cx="132.9" cy="121" r="2.3"/><circle cx="140" cy="92.9" r="2.3"/><circle cx="128.4" cy="168.2" r="2.3"/><circle cx="162.2" cy="157.2" r="2.3"/><circle cx="151.5" cy="193.7" r="2.3"/><circle cx="143.7" cy="106.7" r="2.3"/><circle cx="107.7" cy="142" r="2.3"/><circle cx="157.8" cy="88.6" r="2.3"/><circle cx="170.8" cy="113.7" r="2.3"/><circle cx="191.2" cy="99.6" r="2.3"/><circle cx="188.1" cy="153.2" r="2.3"/><circle cx="164" cy="155.1" r="2.3"/><circle cx="194.1" cy="103.7" r="2.3"/><circle cx="200.4" cy="124.9" r="2.3"/><circle cx="152.8" cy="90.8" r="2.3"/><circle cx="182.6" cy="115.8" r="2.3"/><circle cx="171.5" cy="107.5" r="2.3"/><circle cx="140.3" cy="167.5" r="2.3"/><circle cx="194.1" cy="94.4" r="2.3"/><circle cx="165.8" cy="144.4" r="2.3"/><circle cx="180.9" cy="143.1" r="2.3"/><circle cx="188.7" cy="110.7" r="2.3"/><circle cx="165.1" cy="133.8" r="2.3"/><circle cx="133" cy="150.2" r="2.3"/><circle cx="158.7" cy="135.3" r="2.3"/><circle cx="135.5" cy="96" r="2.3"/><circle cx="154.8" cy="147.3" r="2.3"/><circle cx="82.3" cy="140.2" r="2.3"/><circle cx="148.6" cy="203.3" r="2.3"/><circle cx="176.3" cy="167" r="2.3"/><circle cx="183.2" cy="91.8" r="2.3"/><circle cx="197.3" cy="118.1" r="2.3"/><circle cx="165.6" cy="178.4" r="2.3"/><circle cx="213.6" cy="101.9" r="2.3"/><circle cx="134.4" cy="137.1" r="2.3"/><circle cx="172.4" cy="95.6" r="2.3"/><circle cx="145.6" cy="208.9" r="2.3"/><circle cx="161.1" cy="95.5" r="2.3"/><circle cx="142" cy="163.2" r="2.3"/><circle cx="142.7" cy="147.1" r="2.3"/><circle cx="175" cy="141.5" r="2.3"/><circle cx="171.8" cy="204.2" r="2.3"/><circle cx="175" cy="106.4" r="2.3"/><circle cx="197.6" cy="120.4" r="2.3"/><circle cx="192.6" cy="108.1" r="2.3"/><circle cx="178.3" cy="174.4" r="2.3"/><circle cx="159.6" cy="147.8" r="2.3"/><circle cx="131.1" cy="173.6" r="2.3"/><circle cx="189.3" cy="96.2" r="2.3"/><circle cx="176.2" cy="187.8" r="2.3"/><circle cx="205.9" cy="80" r="2.3"/><circle cx="148.1" cy="85.3" r="2.3"/><circle cx="148.5" cy="85.6" r="2.3"/><circle cx="170.5" cy="111.6" r="2.3"/><circle cx="152.9" cy="144.9" r="2.3"/><circle cx="159.6" cy="196.6" r="2.3"/><circle cx="192.2" cy="90" r="2.3"/><circle cx="155.6" cy="89.1" r="2.3"/><circle cx="163.3" cy="219.1" r="2.3"/><circle cx="161.5" cy="121.4" r="2.3"/><circle cx="172.6" cy="141.6" r="2.3"/><circle cx="165.6" cy="193.4" r="2.3"/><circle cx="141.6" cy="136.2" r="2.3"/><circle cx="186.5" cy="160.4" r="2.3"/><circle cx="167.9" cy="162.8" r="2.3"/><circle cx="147.8" cy="160.1" r="2.3"/><circle cx="205.4" cy="84.6" r="2.3"/><circle cx="159.3" cy="211.1" r="2.3"/><circle cx="183.3" cy="171.9" r="2.3"/><circle cx="137.2" cy="119.4" r="2.3"/><circle cx="144" cy="173.5" r="2.3"/><circle cx="155.2" cy="166.4" r="2.3"/><circle cx="156.3" cy="92.3" r="2.3"/><circle cx="187.3" cy="117.3" r="2.3"/><circle cx="198.5" cy="120.3" r="2.3"/><circle cx="135.7" cy="187.5" r="2.3"/><circle cx="159.3" cy="100.4" r="2.3"/><circle cx="161.7" cy="151.2" r="2.3"/><circle cx="163.6" cy="91.3" r="2.3"/><circle cx="173.6" cy="119.4" r="2.3"/><circle cx="165.5" cy="108" r="2.3"/><circle cx="161.6" cy="191.3" r="2.3"/><circle cx="150.9" cy="89.3" r="2.3"/><circle cx="128.9" cy="142.9" r="2.3"/><circle cx="206.3" cy="104.1" r="2.3"/><circle cx="166" cy="192.5" r="2.3"/><circle cx="150.7" cy="96.1" r="2.3"/><circle cx="173.3" cy="139.2" r="2.3"/><circle cx="147.1" cy="160.6" r="2.3"/><circle cx="163.7" cy="77.3" r="2.3"/><circle cx="166.3" cy="216.7" r="2.3"/><circle cx="153.2" cy="164.6" r="2.3"/><circle cx="191.1" cy="82" r="2.3"/><circle cx="210.9" cy="89.3" r="2.3"/><circle cx="153" cy="185.1" r="2.3"/><circle cx="136.8" cy="146.8" r="2.3"/><circle cx="173.1" cy="93.6" r="2.3"/><circle cx="201.4" cy="137.9" r="2.3"/><circle cx="148.4" cy="110.1" r="2.3"/><circle cx="203.1" cy="79.4" r="2.3"/><circle cx="194" cy="87.4" r="2.3"/><circle cx="192.1" cy="115.9" r="2.3"/><circle cx="171.2" cy="101.5" r="2.3"/><circle cx="165.6" cy="116.5" r="2.3"/><circle cx="179.5" cy="119.3" r="2.3"/><circle cx="150.6" cy="173.5" r="2.3"/><circle cx="171.1" cy="108.2" r="2.3"/><circle cx="135.7" cy="152.4" r="2.3"/><circle cx="171.9" cy="185.7" r="2.3"/><circle cx="159.8" cy="137.1" r="2.3"/><circle cx="208" cy="115.3" r="2.3"/><circle cx="148.9" cy="200.7" r="2.3"/><circle cx="181.9" cy="104.2" r="2.3"/><circle cx="141.3" cy="112.9" r="2.3"/><circle cx="182.3" cy="102.6" r="2.3"/><circle cx="168" cy="184.7" r="2.3"/><circle cx="133.9" cy="176.4" r="2.3"/><circle cx="134.7" cy="147.2" r="2.3"/><circle cx="164.5" cy="131.2" r="2.3"/><circle cx="185.5" cy="135.6" r="2.3"/><circle cx="178" cy="153.4" r="2.3"/><circle cx="203" cy="110" r="2.3"/><circle cx="206.8" cy="114.3" r="2.3"/><circle cx="198.2" cy="147.1" r="2.3"/><circle cx="154.1" cy="130.2" r="2.3"/><circle cx="140.8" cy="96.6" r="2.3"/><circle cx="177.8" cy="105.5" r="2.3"/><circle cx="156.3" cy="88.2" r="2.3"/><circle cx="139.4" cy="185.3" r="2.3"/><circle cx="145.8" cy="206" r="2.3"/><circle cx="155.6" cy="206.1" r="2.3"/><circle cx="153.1" cy="114.3" r="2.3"/><circle cx="165.5" cy="132" r="2.3"/><circle cx="214.3" cy="108.1" r="2.3"/><circle cx="134.3" cy="184.1" r="2.3"/><circle cx="179.1" cy="151.6" r="2.3"/><circle cx="147.9" cy="117.3" r="2.3"/><circle cx="139.4" cy="157.3" r="2.3"/><circle cx="149.7" cy="135.1" r="2.3"/><circle cx="142.8" cy="183.9" r="2.3"/><circle cx="183.4" cy="166.7" r="2.3"/><circle cx="177.7" cy="123.5" r="2.3"/><circle cx="134.5" cy="124.7" r="2.3"/><circle cx="166.4" cy="145" r="2.3"/><circle cx="195.6" cy="122.2" r="2.3"/><circle cx="135.2" cy="169.9" r="2.3"/><circle cx="200.2" cy="111.2" r="2.3"/><circle cx="170.8" cy="124.8" r="2.3"/><circle cx="166.4" cy="197.3" r="2.3"/><circle cx="183.7" cy="99.4" r="2.3"/><circle cx="215.4" cy="99.6" r="2.3"/><circle cx="132.1" cy="143.5" r="2.3"/><circle cx="126.7" cy="148" r="2.3"/><circle cx="163.3" cy="222.8" r="2.3"/><circle cx="163.5" cy="206.3" r="2.3"/><circle cx="147.1" cy="120.2" r="2.3"/><circle cx="170.7" cy="134.4" r="2.3"/><circle cx="185" cy="151.8" r="2.3"/><circle cx="155" cy="167.9" r="2.3"/><circle cx="164.3" cy="204.2" r="2.3"/><circle cx="179" cy="74" r="2.3"/><circle cx="160.7" cy="113.3" r="2.3"/><circle cx="182.7" cy="82.3" r="2.3"/><circle cx="175.4" cy="131.3" r="2.3"/><circle cx="170.8" cy="135.9" r="2.3"/><circle cx="134.5" cy="187.6" r="2.3"/><circle cx="135.8" cy="166.7" r="2.3"/><circle cx="195.5" cy="79.2" r="2.3"/><circle cx="150.7" cy="217.4" r="2.3"/><circle cx="148" cy="163.2" r="2.3"/><circle cx="160.2" cy="118.8" r="2.3"/><circle cx="155.9" cy="157.8" r="2.3"/><circle cx="167.8" cy="159.3" r="2.3"/><circle cx="183" cy="147.5" r="2.3"/><circle cx="184" cy="156.3" r="2.3"/><circle cx="206.5" cy="81.4" r="2.3"/><circle cx="198.5" cy="76.9" r="2.3"/><circle cx="147.1" cy="132.2" r="2.3"/><circle cx="146.1" cy="183.4" r="2.3"/><circle cx="174.2" cy="167.7" r="2.3"/><circle cx="155.3" cy="164.7" r="2.3"/><circle cx="213.5" cy="111.1" r="2.3"/><circle cx="173" cy="132.9" r="2.3"/><circle cx="157.2" cy="198.9" r="2.3"/><circle cx="141.3" cy="160.2" r="2.3"/><circle cx="161.9" cy="158.6" r="2.3"/><circle cx="211.3" cy="82.2" r="2.3"/><circle cx="155.6" cy="96.6" r="2.3"/><circle cx="137.4" cy="120" r="2.3"/><circle cx="172.2" cy="94.6" r="2.3"/><circle cx="200.4" cy="108.2" r="2.3"/><circle cx="201.8" cy="87.4" r="2.3"/><circle cx="154.2" cy="180" r="2.3"/><circle cx="177.7" cy="115.6" r="2.3"/><circle cx="148.4" cy="157.8" r="2.3"/><circle cx="207.7" cy="110.3" r="2.3"/><circle cx="136.3" cy="195" r="2.3"/><circle cx="196.3" cy="120.4" r="2.3"/><circle cx="134.1" cy="116.5" r="2.3"/><circle cx="196.8" cy="145.7" r="2.3"/><circle cx="200.8" cy="97.2" r="2.3"/><circle cx="134.9" cy="127.1" r="2.3"/><circle cx="206.8" cy="97.6" r="2.3"/><circle cx="133.5" cy="177.5" r="2.3"/><circle cx="163.1" cy="143" r="2.3"/><circle cx="147.5" cy="196.6" r="2.3"/><circle cx="174.5" cy="182.5" r="2.3"/><circle cx="136.8" cy="132.8" r="2.3"/><circle cx="152.2" cy="116.6" r="2.3"/><circle cx="193.7" cy="105.8" r="2.3"/><circle cx="155.3" cy="116.6" r="2.3"/><circle cx="169.7" cy="132" r="2.3"/><circle cx="166.8" cy="161.6" r="2.3"/><circle cx="205.2" cy="112.5" r="2.3"/><circle cx="149.1" cy="88.3" r="2.3"/><circle cx="171.7" cy="193.4" r="2.3"/><circle cx="139.6" cy="140.3" r="2.3"/><circle cx="160.6" cy="204.6" r="2.3"/><circle cx="136.5" cy="172.6" r="2.3"/><circle cx="186.4" cy="120.6" r="2.3"/><circle cx="172.9" cy="117.5" r="2.3"/><circle cx="166.5" cy="146" r="2.3"/><circle cx="214.7" cy="94" r="2.3"/><circle cx="159.8" cy="202.9" r="2.3"/><circle cx="144.9" cy="190.9" r="2.3"/><circle cx="168.6" cy="137" r="2.3"/><circle cx="143.3" cy="198.4" r="2.3"/><circle cx="193" cy="86.1" r="2.3"/><circle cx="159.9" cy="137.5" r="2.3"/><circle cx="159" cy="89" r="2.3"/><circle cx="131.4" cy="154" r="2.3"/><circle cx="179.2" cy="142.7" r="2.3"/><circle cx="157.6" cy="138.1" r="2.3"/><circle cx="180" cy="157.8" r="2.3"/><circle cx="164.6" cy="111.5" r="2.3"/><circle cx="154.3" cy="150" r="2.3"/><circle cx="177.4" cy="104.7" r="2.3"/><circle cx="157.2" cy="195.6" r="2.3"/><circle cx="207.7" cy="109.3" r="2.3"/><circle cx="197.6" cy="141.8" r="2.3"/><circle cx="175" cy="156.2" r="2.3"/><circle cx="160.4" cy="217.2" r="2.3"/><circle cx="201.3" cy="119.7" r="2.3"/><circle cx="131.2" cy="159.4" r="2.3"/><circle cx="185.9" cy="107.5" r="2.3"/><circle cx="129.1" cy="149" r="2.3"/><circle cx="183.2" cy="116.1" r="2.3"/><circle cx="166.4" cy="108.8" r="2.3"/><circle cx="142.3" cy="100.7" r="2.3"/><circle cx="191.5" cy="126.9" r="2.3"/><circle cx="185.8" cy="134.1" r="2.3"/><circle cx="177.2" cy="102.1" r="2.3"/><circle cx="174.5" cy="172.9" r="2.3"/><circle cx="134.3" cy="124.8" r="2.3"/><circle cx="146.5" cy="205.2" r="2.3"/><circle cx="191.9" cy="119.6" r="2.3"/><circle cx="146.6" cy="183.3" r="2.3"/><circle cx="152.8" cy="186.2" r="2.3"/><circle cx="157.5" cy="192.2" r="2.3"/><circle cx="175.7" cy="133.3" r="2.3"/><circle cx="196.6" cy="121.8" r="2.3"/><circle cx="144.4" cy="195.9" r="2.3"/><circle cx="176.2" cy="191.4" r="2.3"/><circle cx="170.5" cy="77.8" r="2.3"/><circle cx="196.7" cy="106.5" r="2.3"/><circle cx="149.1" cy="177.2" r="2.3"/><circle cx="166.2" cy="187.8" r="2.3"/><circle cx="187.2" cy="104.5" r="2.3"/><circle cx="174.8" cy="166.5" r="2.3"/><circle cx="192.8" cy="103.2" r="2.3"/><circle cx="153.9" cy="126.2" r="2.3"/><circle cx="133.9" cy="127.1" r="2.3"/><circle cx="141.1" cy="187.6" r="2.3"/><circle cx="135.9" cy="190.7" r="2.3"/><circle cx="148.4" cy="153.4" r="2.3"/><circle cx="150.1" cy="211.7" r="2.3"/><circle cx="177.2" cy="112.3" r="2.3"/><circle cx="154.9" cy="103.4" r="2.3"/><circle cx="165" cy="213.9" r="2.3"/><circle cx="208.7" cy="115" r="2.3"/><circle cx="144.7" cy="90.4" r="2.3"/><circle cx="159.2" cy="90.9" r="2.3"/><circle cx="141.7" cy="111.5" r="2.3"/><circle cx="178.8" cy="142.5" r="2.3"/><circle cx="153.4" cy="155.1" r="2.3"/><circle cx="156.9" cy="217" r="2.3"/><circle cx="169.2" cy="124.1" r="2.3"/><circle cx="181.6" cy="87.6" r="2.3"/><circle cx="128.1" cy="182.7" r="2.3"/><circle cx="147.2" cy="156.6" r="2.3"/><circle cx="202.6" cy="127.4" r="2.3"/><circle cx="171.3" cy="177.1" r="2.3"/><circle cx="142.9" cy="171" r="2.3"/><circle cx="142.5" cy="184.3" r="2.3"/><circle cx="174.1" cy="99.6" r="2.3"/><circle cx="198.9" cy="87.2" r="2.3"/><circle cx="136.8" cy="106.4" r="2.3"/><circle cx="196.1" cy="146.3" r="2.3"/><circle cx="162" cy="223.3" r="2.3"/><circle cx="157" cy="224.7" r="2.3"/><circle cx="207.9" cy="103.6" r="2.3"/><circle cx="180.9" cy="87.8" r="2.3"/><circle cx="214.1" cy="88.2" r="2.3"/><circle cx="154.5" cy="180.2" r="2.3"/><circle cx="163.2" cy="190.6" r="2.3"/><circle cx="160.8" cy="198.9" r="2.3"/><circle cx="168.9" cy="200.4" r="2.3"/><circle cx="153" cy="158.1" r="2.3"/><circle cx="127.3" cy="149.3" r="2.3"/><circle cx="188" cy="139.2" r="2.3"/><circle cx="214" cy="85" r="2.3"/><circle cx="181.4" cy="74.5" r="2.3"/><circle cx="210.9" cy="114.7" r="2.3"/><circle cx="144.5" cy="95.1" r="2.3"/><circle cx="179.2" cy="92.7" r="2.3"/><circle cx="163.4" cy="221.5" r="2.3"/><circle cx="128.9" cy="181.9" r="2.3"/><circle cx="170.8" cy="149.6" r="2.3"/><circle cx="138.5" cy="152.9" r="2.3"/><circle cx="199.6" cy="92.8" r="2.3"/><circle cx="149.8" cy="109.8" r="2.3"/><circle cx="167.8" cy="174.3" r="2.3"/><circle cx="172.6" cy="153" r="2.3"/><circle cx="154.1" cy="91.6" r="2.3"/><circle cx="163.9" cy="77.5" r="2.3"/><circle cx="153.1" cy="187.2" r="2.3"/><circle cx="144.2" cy="159.7" r="2.3"/><circle cx="140.6" cy="126.4" r="2.3"/><circle cx="144.5" cy="88.8" r="2.3"/><circle cx="173" cy="160.8" r="2.3"/><circle cx="186" cy="165" r="2.3"/><circle cx="170.9" cy="191.6" r="2.3"/><circle cx="178.3" cy="92.4" r="2.3"/><circle cx="164.6" cy="138.6" r="2.3"/><circle cx="165.2" cy="160.6" r="2.3"/><circle cx="158.6" cy="133.8" r="2.3"/><circle cx="164.7" cy="130.7" r="2.3"/><circle cx="161.8" cy="142.9" r="2.3"/><circle cx="180" cy="130" r="2.3"/><circle cx="151.6" cy="145.5" r="2.3"/><circle cx="155.1" cy="81.2" r="2.3"/><circle cx="147.4" cy="112.3" r="2.3"/><circle cx="168.7" cy="133.2" r="2.3"/><circle cx="146.7" cy="198.1" r="2.3"/><circle cx="135.6" cy="165.8" r="2.3"/><circle cx="167.7" cy="94.9" r="2.3"/><circle cx="130.6" cy="187.6" r="2.3"/><circle cx="186.9" cy="146.8" r="2.3"/><circle cx="182.3" cy="87.8" r="2.3"/><circle cx="179.7" cy="138.5" r="2.3"/><circle cx="192.9" cy="91.2" r="2.3"/><circle cx="146.3" cy="126.1" r="2.3"/><circle cx="178.3" cy="123.3" r="2.3"/><circle cx="165.9" cy="200.5" r="2.3"/><circle cx="141.9" cy="185.8" r="2.3"/><circle cx="155.7" cy="221.2" r="2.3"/><circle cx="181.4" cy="89.5" r="2.3"/><circle cx="163.2" cy="170.5" r="2.3"/><circle cx="184.3" cy="126.1" r="2.3"/><circle cx="177.1" cy="99" r="2.3"/><circle cx="153.5" cy="169.7" r="2.3"/><circle cx="148.7" cy="164.6" r="2.3"/><circle cx="150.6" cy="195.6" r="2.3"/><circle cx="139.5" cy="113.4" r="2.3"/><circle cx="165.8" cy="215.5" r="2.3"/><circle cx="140.4" cy="102.4" r="2.3"/><circle cx="137.2" cy="105.8" r="2.3"/><circle cx="155.9" cy="134.4" r="2.3"/><circle cx="195.6" cy="135.8" r="2.3"/><circle cx="169.2" cy="134.6" r="2.3"/><circle cx="164.6" cy="217.6" r="2.3"/><circle cx="173.9" cy="179.7" r="2.3"/><circle cx="160.5" cy="114.9" r="2.3"/><circle cx="158.4" cy="182.4" r="2.3"/><circle cx="167.8" cy="155.2" r="2.3"/><circle cx="144.2" cy="100" r="2.3"/><circle cx="156.3" cy="179.7" r="2.3"/><circle cx="191.1" cy="140.4" r="2.3"/><circle cx="144.7" cy="202" r="2.3"/><circle cx="176.2" cy="123.6" r="2.3"/><circle cx="148.1" cy="118" r="2.3"/><circle cx="151.1" cy="126.7" r="2.3"/><circle cx="185.8" cy="89.9" r="2.3"/><circle cx="149" cy="155.5" r="2.3"/><circle cx="165" cy="110.3" r="2.3"/><circle cx="156.7" cy="79.3" r="2.3"/><circle cx="203.8" cy="90.5" r="2.3"/><circle cx="185.7" cy="128.3" r="2.3"/><circle cx="207.7" cy="118.9" r="2.3"/><circle cx="151.2" cy="115.1" r="2.3"/><circle cx="129" cy="168.8" r="2.3"/><circle cx="157.5" cy="101.5" r="2.3"/><circle cx="165.5" cy="219.1" r="2.3"/><circle cx="148" cy="98" r="2.3"/><circle cx="183.5" cy="175.8" r="2.3"/><circle cx="172.5" cy="100.4" r="2.3"/><circle cx="206.3" cy="89.5" r="2.3"/><circle cx="141.2" cy="110.2" r="2.3"/><circle cx="172.8" cy="147.3" r="2.3"/><circle cx="176.5" cy="186.9" r="2.3"/><circle cx="138.3" cy="167.2" r="2.3"/><circle cx="197.7" cy="92.4" r="2.3"/><circle cx="152.4" cy="206.5" r="2.3"/><circle cx="189.1" cy="89.1" r="2.3"/><circle cx="163" cy="96.5" r="2.3"/><circle cx="186.3" cy="122.4" r="2.3"/><circle cx="162.4" cy="92.1" r="2.3"/><circle cx="160.8" cy="159.1" r="2.3"/><circle cx="176.3" cy="135.8" r="2.3"/><circle cx="199.4" cy="85.9" r="2.3"/><circle cx="155.7" cy="219.5" r="2.3"/><circle cx="135.9" cy="112.4" r="2.3"/><circle cx="154.9" cy="136.4" r="2.3"/><circle cx="175.1" cy="87.9" r="2.3"/><circle cx="154.5" cy="95" r="2.3"/><circle cx="159.6" cy="126.2" r="2.3"/><circle cx="167.8" cy="200.3" r="2.3"/><circle cx="156.6" cy="122.7" r="2.3"/><circle cx="172.7" cy="189.8" r="2.3"/><circle cx="189.5" cy="135.8" r="2.3"/><circle cx="176.6" cy="129.3" r="2.3"/><circle cx="150.5" cy="211.8" r="2.3"/><circle cx="199.5" cy="120.2" r="2.3"/><circle cx="176.5" cy="157.2" r="2.3"/><circle cx="163.2" cy="160.1" r="2.3"/><circle cx="197.4" cy="96.1" r="2.3"/><circle cx="174.4" cy="193.7" r="2.3"/><circle cx="139.5" cy="155.3" r="2.3"/><circle cx="162" cy="147.7" r="2.3"/><circle cx="153.3" cy="187.6" r="2.3"/><circle cx="170.3" cy="198.1" r="2.3"/><circle cx="158.8" cy="211.3" r="2.3"/><circle cx="188.7" cy="143.2" r="2.3"/><circle cx="191.4" cy="149.3" r="2.3"/><circle cx="204" cy="95.5" r="2.3"/><circle cx="156.4" cy="184.8" r="2.3"/><circle cx="201.6" cy="130.9" r="2.3"/><circle cx="132.1" cy="162.1" r="2.3"/><circle cx="154.9" cy="113.3" r="2.3"/><circle cx="166.6" cy="84.4" r="2.3"/><circle cx="177" cy="142.2" r="2.3"/><circle cx="153.7" cy="167.2" r="2.3"/><circle cx="157.3" cy="226.1" r="2.3"/><circle cx="201.8" cy="83.9" r="2.3"/><circle cx="136.5" cy="126.6" r="2.3"/><circle cx="136.7" cy="138.8" r="2.3"/><circle cx="214.2" cy="107" r="2.3"/><circle cx="174.1" cy="119.5" r="2.3"/><circle cx="187.7" cy="160.6" r="2.3"/><circle cx="180.6" cy="119.4" r="2.3"/><circle cx="191.4" cy="146.4" r="2.3"/><circle cx="168.1" cy="117.2" r="2.3"/><circle cx="128.7" cy="145.6" r="2.3"/><circle cx="182.3" cy="101.4" r="2.3"/><circle cx="170.4" cy="99.8" r="2.3"/><circle cx="150.2" cy="188.5" r="2.3"/><circle cx="157.5" cy="166.4" r="2.3"/><circle cx="156.4" cy="215.6" r="2.3"/><circle cx="155.6" cy="120.2" r="2.3"/><circle cx="130.9" cy="157.8" r="2.3"/><circle cx="212.1" cy="88.4" r="2.3"/><circle cx="177.1" cy="129" r="2.3"/><circle cx="148.9" cy="201.7" r="2.3"/><circle cx="212.8" cy="112.2" r="2.3"/><circle cx="159.2" cy="163.9" r="2.3"/><circle cx="147" cy="183.9" r="2.3"/><circle cx="185.7" cy="87" r="2.3"/><circle cx="210.6" cy="83.3" r="2.3"/><circle cx="189.8" cy="127" r="2.3"/><circle cx="167.7" cy="197.5" r="2.3"/><circle cx="174.5" cy="115.4" r="2.3"/><circle cx="143.5" cy="207.7" r="2.3"/><circle cx="127.3" cy="156.9" r="2.3"/><circle cx="178.5" cy="95.1" r="2.3"/><circle cx="142.2" cy="137" r="2.3"/><circle cx="180" cy="139.8" r="2.3"/><circle cx="191.3" cy="92.8" r="2.3"/><circle cx="148.8" cy="199.6" r="2.3"/><circle cx="165.1" cy="109.5" r="2.3"/><circle cx="189.6" cy="89" r="2.3"/><circle cx="145.7" cy="141.4" r="2.3"/><circle cx="154.4" cy="147.1" r="2.3"/><circle cx="140.1" cy="135.6" r="2.3"/><circle cx="190.1" cy="123.2" r="2.3"/><circle cx="199.1" cy="101.1" r="2.3"/><circle cx="134.4" cy="171.1" r="2.3"/><circle cx="167.1" cy="217.1" r="2.3"/><circle cx="134.8" cy="189.9" r="2.3"/><circle cx="187.3" cy="130.5" r="2.3"/><circle cx="136.9" cy="168.7" r="2.3"/><circle cx="195.5" cy="146.7" r="2.3"/><circle cx="168.9" cy="180.3" r="2.3"/><circle cx="181.7" cy="138.9" r="2.3"/><circle cx="142.3" cy="145.3" r="2.3"/><circle cx="155.6" cy="107.2" r="2.3"/><circle cx="148" cy="181.1" r="2.3"/><circle cx="143.9" cy="126.6" r="2.3"/><circle cx="153.5" cy="147.3" r="2.3"/><circle cx="128.4" cy="140.2" r="2.3"/><circle cx="127.5" cy="155.1" r="2.3"/><circle cx="183.8" cy="104" r="2.3"/><circle cx="182.7" cy="157.6" r="2.3"/><circle cx="149.5" cy="195.2" r="2.3"/><circle cx="154.8" cy="211.4" r="2.3"/><circle cx="171.6" cy="77.8" r="2.3"/><circle cx="152.8" cy="168.3" r="2.3"/><circle cx="200.2" cy="89.2" r="2.3"/><circle cx="197.5" cy="133.7" r="2.3"/><circle cx="173.7" cy="138.5" r="2.3"/><circle cx="183.7" cy="121.4" r="2.3"/><circle cx="149.8" cy="217.5" r="2.3"/><circle cx="174.5" cy="75.1" r="2.3"/><circle cx="156.7" cy="127.1" r="2.3"/><circle cx="135.4" cy="186.7" r="2.3"/><circle cx="198.6" cy="91.1" r="2.3"/><circle cx="173" cy="109.1" r="2.3"/><circle cx="204.7" cy="91" r="2.3"/><circle cx="194.8" cy="107.7" r="2.3"/><circle cx="155.2" cy="126" r="2.3"/><circle cx="165.4" cy="92.2" r="2.3"/><circle cx="190.3" cy="154.2" r="2.3"/><circle cx="196.3" cy="125.2" r="2.3"/><circle cx="163.4" cy="189.6" r="2.3"/><circle cx="153.8" cy="206" r="2.3"/><circle cx="163" cy="161.6" r="2.3"/><circle cx="154" cy="91.5" r="2.3"/><circle cx="129.5" cy="185.3" r="2.3"/><circle cx="144.2" cy="186.1" r="2.3"/><circle cx="146.2" cy="161.2" r="2.3"/><circle cx="161.7" cy="114.5" r="2.3"/><circle cx="141" cy="113.7" r="2.3"/><circle cx="172.4" cy="81.3" r="2.3"/><circle cx="153.1" cy="157.3" r="2.3"/><circle cx="178.7" cy="172.7" r="2.3"/><circle cx="145.7" cy="176" r="2.3"/><circle cx="149.1" cy="132.4" r="2.3"/><circle cx="149.2" cy="110.5" r="2.3"/><circle cx="155.2" cy="137.5" r="2.3"/><circle cx="158.5" cy="123.2" r="2.3"/><circle cx="193.7" cy="149.9" r="2.3"/><circle cx="144.1" cy="201.6" r="2.3"/><circle cx="207.9" cy="91.3" r="2.3"/><circle cx="171.6" cy="160.7" r="2.3"/><circle cx="135.9" cy="122.5" r="2.3"/><circle cx="182.5" cy="178.4" r="2.3"/><circle cx="183.4" cy="170" r="2.3"/><circle cx="160.1" cy="82.9" r="2.3"/><circle cx="141" cy="126.7" r="2.3"/><circle cx="143.6" cy="207.9" r="2.3"/><circle cx="160.5" cy="219.9" r="2.3"/><circle cx="149.2" cy="162.7" r="2.3"/><circle cx="187.6" cy="108.9" r="2.3"/><circle cx="160.5" cy="87.8" r="2.3"/><circle cx="199.1" cy="101.1" r="2.3"/><circle cx="137.6" cy="115.9" r="2.3"/><circle cx="184.5" cy="172.7" r="2.3"/><circle cx="195" cy="105.1" r="2.3"/><circle cx="174.7" cy="98.8" r="2.3"/><circle cx="147.5" cy="95.2" r="2.3"/><circle cx="132.2" cy="127.3" r="2.3"/><circle cx="180" cy="155.7" r="2.3"/><circle cx="177.6" cy="167" r="2.3"/><circle cx="147.4" cy="165.1" r="2.3"/><circle cx="174.3" cy="125.7" r="2.3"/><circle cx="164.4" cy="157.4" r="2.3"/><circle cx="195.7" cy="106.2" r="2.3"/><circle cx="177.9" cy="141.4" r="2.3"/><circle cx="146.5" cy="195.5" r="2.3"/><circle cx="145.6" cy="184.1" r="2.3"/><circle cx="170.5" cy="139.4" r="2.3"/><circle cx="199.4" cy="113.7" r="2.3"/><circle cx="187.2" cy="150.3" r="2.3"/><circle cx="168.7" cy="156.1" r="2.3"/><circle cx="153.7" cy="88.6" r="2.3"/><circle cx="170" cy="83.1" r="2.3"/><circle cx="141" cy="142.1" r="2.3"/><circle cx="157.4" cy="151" r="2.3"/><circle cx="174.3" cy="133.4" r="2.3"/><circle cx="151.2" cy="127.6" r="2.3"/><circle cx="154.7" cy="189.3" r="2.3"/><circle cx="170.9" cy="197.8" r="2.3"/><circle cx="144.2" cy="130.3" r="2.3"/><circle cx="162.1" cy="132.9" r="2.3"/><circle cx="184.7" cy="166" r="2.3"/><circle cx="202" cy="124.8" r="2.3"/><circle cx="174.7" cy="164" r="2.3"/><circle cx="159.8" cy="173.6" r="2.3"/><circle cx="151.4" cy="217.1" r="2.3"/><circle cx="159.3" cy="115.5" r="2.3"/><circle cx="208.1" cy="107.2" r="2.3"/><circle cx="150.2" cy="148.9" r="2.3"/><circle cx="144.6" cy="197.7" r="2.3"/><circle cx="132" cy="137.5" r="2.3"/><circle cx="198.8" cy="90.5" r="2.3"/><circle cx="149" cy="95.8" r="2.3"/><circle cx="171.2" cy="79.9" r="2.3"/><circle cx="139" cy="147.9" r="2.3"/><circle cx="168.6" cy="89" r="2.3"/><circle cx="149.5" cy="217.6" r="2.3"/><circle cx="192.3" cy="152.4" r="2.3"/><circle cx="140.3" cy="109.9" r="2.3"/><circle cx="137.7" cy="152.9" r="2.3"/><circle cx="179.2" cy="144.7" r="2.3"/><circle cx="168.7" cy="94.3" r="2.3"/><circle cx="191.8" cy="156.9" r="2.3"/><circle cx="153.7" cy="203.7" r="2.3"/><circle cx="161.1" cy="143.1" r="2.3"/><circle cx="148.9" cy="189.5" r="2.3"/><circle cx="209.2" cy="93.9" r="2.3"/><circle cx="134.7" cy="144.1" r="2.3"/><circle cx="173.1" cy="196.1" r="2.3"/><circle cx="142.3" cy="116.2" r="2.3"/><circle cx="181.8" cy="87" r="2.3"/><circle cx="194.8" cy="138.9" r="2.3"/><circle cx="211.1" cy="107.3" r="2.3"/><circle cx="206.6" cy="108" r="2.3"/><circle cx="132.1" cy="133.4" r="2.3"/><circle cx="191.7" cy="77.4" r="2.3"/><circle cx="173" cy="157.2" r="2.3"/><circle cx="134.1" cy="163.6" r="2.3"/><circle cx="166.5" cy="123.7" r="2.3"/><circle cx="195.9" cy="146.7" r="2.3"/><circle cx="137.1" cy="168.5" r="2.3"/><circle cx="149.6" cy="208.9" r="2.3"/><circle cx="181.6" cy="72.9" r="2.3"/><circle cx="181.4" cy="169" r="2.3"/><circle cx="185.7" cy="84.6" r="2.3"/><circle cx="158.2" cy="224.3" r="2.3"/><circle cx="179" cy="109.7" r="2.3"/><circle cx="159.3" cy="140.7" r="2.3"/><circle cx="184.4" cy="100.6" r="2.3"/><circle cx="179.1" cy="122.8" r="2.3"/><circle cx="169" cy="184.6" r="2.3"/><circle cx="126.9" cy="152.2" r="2.3"/><circle cx="154.2" cy="166.6" r="2.3"/><circle cx="183.6" cy="117.6" r="2.3"/><circle cx="148.8" cy="152.6" r="2.3"/><circle cx="174.5" cy="107.3" r="2.3"/><circle cx="196.2" cy="150.9" r="2.3"/><circle cx="158.1" cy="112.1" r="2.3"/><circle cx="212.2" cy="111.2" r="2.3"/><circle cx="131.6" cy="171.8" r="2.3"/><circle cx="188.2" cy="125.2" r="2.3"/><circle cx="166.1" cy="179.9" r="2.3"/><circle cx="139.9" cy="129.7" r="2.3"/><circle cx="179.4" cy="88.3" r="2.3"/><circle cx="145.2" cy="112.5" r="2.3"/><circle cx="127.9" cy="173.1" r="2.3"/><circle cx="168.6" cy="153.8" r="2.3"/><circle cx="151.2" cy="145.4" r="2.3"/><circle cx="143.4" cy="170.5" r="2.3"/><circle cx="172.4" cy="147.2" r="2.3"/><circle cx="185.7" cy="151.1" r="2.3"/><circle cx="128.3" cy="143.4" r="2.3"/><circle cx="140.3" cy="183.6" r="2.3"/><circle cx="133.1" cy="145.2" r="2.3"/><circle cx="200.4" cy="125.9" r="2.3"/><circle cx="190.5" cy="73.2" r="2.3"/><circle cx="130.9" cy="160" r="2.3"/><circle cx="206.5" cy="88.6" r="2.3"/><circle cx="178.6" cy="100.7" r="2.3"/><circle cx="155.9" cy="95.6" r="2.3"/><circle cx="168.1" cy="79.3" r="2.3"/><circle cx="170.8" cy="84.8" r="2.3"/><circle cx="190.5" cy="99.4" r="2.3"/><circle cx="155.4" cy="176.6" r="2.3"/><circle cx="191" cy="144.7" r="2.3"/><circle cx="150.6" cy="138.4" r="2.3"/><circle cx="191.5" cy="108.1" r="2.3"/><circle cx="139.7" cy="148.5" r="2.3"/><circle cx="186.2" cy="82.5" r="2.3"/><circle cx="149.8" cy="194" r="2.3"/><circle cx="153.4" cy="85.6" r="2.3"/><circle cx="170.2" cy="209.4" r="2.3"/><circle cx="197.3" cy="79.6" r="2.3"/><circle cx="169.9" cy="177" r="2.3"/><circle cx="173.5" cy="100.9" r="2.3"/><circle cx="189.7" cy="92.4" r="2.3"/><circle cx="153.8" cy="206.6" r="2.3"/><circle cx="177.8" cy="152.8" r="2.3"/><circle cx="191" cy="149.8" r="2.3"/><circle cx="160.7" cy="159.2" r="2.3"/><circle cx="151.3" cy="199.1" r="2.3"/><circle cx="185.6" cy="167.6" r="2.3"/><circle cx="194" cy="114.2" r="2.3"/><circle cx="148.7" cy="136.9" r="2.3"/><circle cx="158.6" cy="84.2" r="2.3"/><circle cx="170.6" cy="158.2" r="2.3"/><circle cx="206.8" cy="83" r="2.3"/><circle cx="158.3" cy="180.4" r="2.3"/><circle cx="174.7" cy="150.6" r="2.3"/><circle cx="149.1" cy="107.2" r="2.3"/><circle cx="187.3" cy="125.9" r="2.3"/><circle cx="172.8" cy="88.5" r="2.3"/><circle cx="158.4" cy="83.8" r="2.3"/><circle cx="195.9" cy="129.5" r="2.3"/><circle cx="150.7" cy="219.2" r="2.3"/><circle cx="204.6" cy="82.9" r="2.3"/><circle cx="161.2" cy="139.2" r="2.3"/><circle cx="181.6" cy="155.3" r="2.3"/><circle cx="185.9" cy="83.7" r="2.3"/><circle cx="158.8" cy="146.7" r="2.3"/><circle cx="215.5" cy="102.8" r="2.3"/><circle cx="184.1" cy="81.7" r="2.3"/><circle cx="177.2" cy="188.7" r="2.3"/><circle cx="139.6" cy="192" r="2.3"/><circle cx="191.7" cy="158.5" r="2.3"/><circle cx="183.5" cy="177.7" r="2.3"/><circle cx="141.6" cy="125.5" r="2.3"/><circle cx="155.3" cy="207.7" r="2.3"/><circle cx="197.7" cy="117.9" r="2.3"/><circle cx="158.4" cy="133.3" r="2.3"/><circle cx="183.6" cy="141.5" r="2.3"/><circle cx="150.8" cy="155" r="2.3"/><circle cx="169.5" cy="94.3" r="2.3"/><circle cx="138.6" cy="152.1" r="2.3"/><circle cx="199.3" cy="140.3" r="2.3"/><circle cx="129.2" cy="174.7" r="2.3"/><circle cx="138.6" cy="113.1" r="2.3"/><circle cx="164.2" cy="191.4" r="2.3"/><circle cx="165.5" cy="138.1" r="2.3"/><circle cx="162.4" cy="154.3" r="2.3"/><circle cx="142.7" cy="92.9" r="2.3"/><circle cx="176" cy="127.5" r="2.3"/><circle cx="192.1" cy="78.2" r="2.3"/><circle cx="187.9" cy="129.6" r="2.3"/><circle cx="165.3" cy="122.2" r="2.3"/><circle cx="174.6" cy="116.4" r="2.3"/><circle cx="187.3" cy="137" r="2.3"/><circle cx="190.9" cy="118.1" r="2.3"/><circle cx="167.5" cy="160" r="2.3"/><circle cx="164.9" cy="85.6" r="2.3"/><circle cx="142.1" cy="101" r="2.3"/><circle cx="186.6" cy="125.9" r="2.3"/><circle cx="209.4" cy="109" r="2.3"/><circle cx="147.9" cy="100.9" r="2.3"/><circle cx="138.4" cy="179.8" r="2.3"/><circle cx="178.8" cy="111.7" r="2.3"/><circle cx="164.9" cy="168" r="2.3"/><circle cx="186.1" cy="141.7" r="2.3"/><circle cx="133.5" cy="129.6" r="2.3"/><circle cx="184.4" cy="86" r="2.3"/><circle cx="159.7" cy="130.8" r="2.3"/><circle cx="172.7" cy="111.9" r="2.3"/><circle cx="144.5" cy="92.3" r="2.3"/><circle cx="188.9" cy="152.5" r="2.3"/><circle cx="203" cy="75.9" r="2.3"/><circle cx="182.6" cy="140.9" r="2.3"/><circle cx="164.5" cy="95" r="2.3"/><circle cx="176" cy="115.4" r="2.3"/><circle cx="152.3" cy="163.1" r="2.3"/><circle cx="150.7" cy="203.3" r="2.3"/><circle cx="144.4" cy="174.3" r="2.3"/><circle cx="176.6" cy="123.5" r="2.3"/><circle cx="132.4" cy="148.9" r="2.3"/><circle cx="173.6" cy="201.3" r="2.3"/><circle cx="143.9" cy="101.3" r="2.3"/><circle cx="153.4" cy="198.8" r="2.3"/><circle cx="146.6" cy="172.2" r="2.3"/><circle cx="190.9" cy="150.5" r="2.3"/><circle cx="135.5" cy="146.7" r="2.3"/><circle cx="176.8" cy="138.4" r="2.3"/><circle cx="172" cy="78.8" r="2.3"/><circle cx="157.3" cy="116.9" r="2.3"/><circle cx="203.2" cy="131.8" r="2.3"/><circle cx="181.1" cy="159.3" r="2.3"/><circle cx="193.4" cy="97.7" r="2.3"/><circle cx="177.5" cy="74.7" r="2.3"/><circle cx="185.8" cy="168.8" r="2.3"/><circle cx="173.6" cy="74.1" r="2.3"/><circle cx="204.8" cy="78.6" r="2.3"/><circle cx="145.2" cy="136.2" r="2.3"/><circle cx="132" cy="163.8" r="2.3"/><circle cx="145.4" cy="182.9" r="2.3"/><circle cx="141.2" cy="181" r="2.3"/><circle cx="188.5" cy="134.8" r="2.3"/><circle cx="149.3" cy="215.4" r="2.3"/><circle cx="156.5" cy="201.9" r="2.3"/><circle cx="199.6" cy="143.8" r="2.3"/><circle cx="161.8" cy="197.7" r="2.3"/><circle cx="185.9" cy="157.3" r="2.3"/><circle cx="126.2" cy="145.4" r="2.3"/><circle cx="145.9" cy="93.2" r="2.3"/><circle cx="163.2" cy="166.2" r="2.3"/><circle cx="172.2" cy="157.3" r="2.3"/><circle cx="168" cy="137.1" r="2.3"/><circle cx="189.2" cy="89.6" r="2.3"/><circle cx="157.9" cy="87.4" r="2.3"/><circle cx="133.6" cy="157.2" r="2.3"/><circle cx="142.1" cy="190.4" r="2.3"/><circle cx="204.8" cy="101.5" r="2.3"/><circle cx="156.2" cy="153.2" r="2.3"/><circle cx="192.6" cy="142.9" r="2.3"/><circle cx="153.1" cy="209" r="2.3"/><circle cx="161.4" cy="138.3" r="2.3"/><circle cx="145.8" cy="148.3" r="2.3"/><circle cx="190.7" cy="129.2" r="2.3"/><circle cx="186.6" cy="149.9" r="2.3"/><circle cx="151.8" cy="158.2" r="2.3"/><circle cx="214.2" cy="104.7" r="2.3"/><circle cx="173.1" cy="78.6" r="2.3"/><circle cx="150.3" cy="152.8" r="2.3"/><circle cx="141.2" cy="120.4" r="2.3"/><circle cx="146.7" cy="166.4" r="2.3"/><circle cx="135.5" cy="154.2" r="2.3"/><circle cx="185.3" cy="86" r="2.3"/><circle cx="176" cy="120.9" r="2.3"/><circle cx="142" cy="101.3" r="2.3"/><circle cx="130.8" cy="137.9" r="2.3"/><circle cx="151.3" cy="145.8" r="2.3"/><circle cx="150.8" cy="169.8" r="2.3"/><circle cx="159.9" cy="146.9" r="2.3"/><circle cx="174.3" cy="177.4" r="2.3"/><circle cx="140.7" cy="204.5" r="2.3"/><circle cx="140" cy="121.5" r="2.3"/><circle cx="159.1" cy="222.4" r="2.3"/><circle cx="195.9" cy="97.5" r="2.3"/><circle cx="195" cy="73.1" r="2.3"/><circle cx="136.5" cy="128.5" r="2.3"/><circle cx="132.9" cy="146.4" r="2.3"/><circle cx="157.2" cy="188.7" r="2.3"/><circle cx="203.4" cy="99" r="2.3"/><circle cx="177.5" cy="155.2" r="2.3"/><circle cx="140.8" cy="122.7" r="2.3"/><circle cx="145.5" cy="103" r="2.3"/><circle cx="182.1" cy="123.3" r="2.3"/><circle cx="201.9" cy="85.8" r="2.3"/><circle cx="183.8" cy="109.7" r="2.3"/><circle cx="189.7" cy="136.2" r="2.3"/><circle cx="138" cy="119.5" r="2.3"/><circle cx="194.9" cy="74.5" r="2.3"/><circle cx="183.8" cy="158.2" r="2.3"/><circle cx="191.5" cy="124" r="2.3"/><circle cx="169.4" cy="147.3" r="2.3"/><circle cx="194.7" cy="83.5" r="2.3"/><circle cx="172.5" cy="113" r="2.3"/><circle cx="179.8" cy="113" r="2.3"/><circle cx="144.2" cy="108.6" r="2.3"/><circle cx="150" cy="159.5" r="2.3"/><circle cx="183.7" cy="89.8" r="2.3"/><circle cx="173.3" cy="150.2" r="2.3"/><circle cx="187.4" cy="117.7" r="2.3"/><circle cx="207.3" cy="120.1" r="2.3"/><circle cx="207" cy="83.1" r="2.3"/><circle cx="202.8" cy="111.2" r="2.3"/><circle cx="168.3" cy="214.5" r="2.3"/><circle cx="162.2" cy="150.8" r="2.3"/><circle cx="172.2" cy="106.1" r="2.3"/><circle cx="149.3" cy="205.4" r="2.3"/><circle cx="189" cy="152.6" r="2.3"/><circle cx="178.3" cy="177.3" r="2.3"/><circle cx="215.2" cy="104.5" r="2.3"/><circle cx="168.5" cy="84.2" r="2.3"/><circle cx="148.7" cy="202.2" r="2.3"/><circle cx="159.6" cy="143.2" r="2.3"/><circle cx="188.3" cy="89.4" r="2.3"/><circle cx="188.1" cy="102.3" r="2.3"/><circle cx="191.1" cy="122.2" r="2.3"/><circle cx="174" cy="84" r="2.3"/><circle cx="179" cy="181.1" r="2.3"/><circle cx="156.6" cy="92.2" r="2.3"/><circle cx="155.2" cy="188.9" r="2.3"/><circle cx="177.4" cy="93.3" r="2.3"/><circle cx="147.4" cy="147.1" r="2.3"/><circle cx="166.8" cy="93.2" r="2.3"/><circle cx="207.7" cy="92.3" r="2.3"/><circle cx="154.3" cy="157.6" r="2.3"/><circle cx="161" cy="226.2" r="2.3"/><circle cx="153.8" cy="138.6" r="2.3"/><circle cx="154.4" cy="175" r="2.3"/><circle cx="192.2" cy="152" r="2.3"/><circle cx="204" cy="89" r="2.3"/><circle cx="130.8" cy="147.6" r="2.3"/><circle cx="150" cy="168.1" r="2.3"/><circle cx="161.9" cy="144" r="2.3"/><circle cx="175" cy="165" r="2.3"/><circle cx="207.8" cy="116.6" r="2.3"/><circle cx="150.6" cy="101.1" r="2.3"/><circle cx="210.5" cy="91.9" r="2.3"/><circle cx="158.5" cy="214.9" r="2.3"/><circle cx="171.7" cy="74.4" r="2.3"/><circle cx="148.6" cy="146.7" r="2.3"/><circle cx="188.4" cy="96.4" r="2.3"/><circle cx="136.5" cy="124.2" r="2.3"/><circle cx="206.8" cy="78.7" r="2.3"/><circle cx="185.5" cy="119.4" r="2.3"/><circle cx="201.3" cy="84.9" r="2.3"/><circle cx="195.1" cy="79.4" r="2.3"/><circle cx="133.8" cy="174.1" r="2.3"/><circle cx="138.6" cy="177.2" r="2.3"/><circle cx="187.5" cy="108.6" r="2.3"/><circle cx="169.3" cy="105.5" r="2.3"/><circle cx="179.9" cy="149.8" r="2.3"/><circle cx="150.8" cy="153.6" r="2.3"/><circle cx="191.9" cy="105" r="2.3"/><circle cx="172.3" cy="164.2" r="2.3"/><circle cx="178.9" cy="144.7" r="2.3"/><circle cx="172.4" cy="180.7" r="2.3"/><circle cx="136.1" cy="112.9" r="2.3"/><circle cx="154.2" cy="128" r="2.3"/><circle cx="170.7" cy="118.5" r="2.3"/><circle cx="159.5" cy="182.6" r="2.3"/><circle cx="211" cy="97.2" r="2.3"/><circle cx="159.9" cy="210.6" r="2.3"/><circle cx="199.7" cy="122.6" r="2.3"/><circle cx="138.4" cy="199.4" r="2.3"/><circle cx="163.6" cy="127.3" r="2.3"/><circle cx="168.1" cy="187.1" r="2.3"/><circle cx="196.3" cy="99.8" r="2.3"/><circle cx="143.7" cy="125.8" r="2.3"/><circle cx="141.5" cy="147.2" r="2.3"/><circle cx="137.3" cy="175.2" r="2.3"/><circle cx="163.2" cy="111" r="2.3"/><circle cx="188.8" cy="123.8" r="2.3"/><circle cx="152.3" cy="113.7" r="2.3"/><circle cx="189.8" cy="95.1" r="2.3"/><circle cx="176" cy="80.1" r="2.3"/><circle cx="151.3" cy="138.9" r="2.3"/><circle cx="216.2" cy="94.9" r="2.3"/><circle cx="180" cy="84.3" r="2.3"/><circle cx="141.7" cy="110.1" r="2.3"/><circle cx="128.7" cy="159.1" r="2.3"/><circle cx="198.4" cy="117.1" r="2.3"/><circle cx="215.3" cy="97.2" r="2.3"/><circle cx="138.1" cy="132.2" r="2.3"/><circle cx="199.9" cy="87.6" r="2.3"/><circle cx="199.3" cy="125.2" r="2.3"/><circle cx="192.3" cy="152.1" r="2.3"/><circle cx="196" cy="103.4" r="2.3"/><circle cx="151" cy="105.4" r="2.3"/><circle cx="139.4" cy="186.6" r="2.3"/><circle cx="128.6" cy="145.7" r="2.3"/><circle cx="148.9" cy="192.8" r="2.3"/><circle cx="216.1" cy="77.9" r="2.3"/><circle cx="208.9" cy="78.6" r="2.3"/><circle cx="232.6" cy="55.3" r="2.3"/><circle cx="200.4" cy="59" r="2.3"/><circle cx="180.8" cy="57.6" r="2.3"/><circle cx="218.7" cy="92" r="2.3"/><circle cx="218.5" cy="84.7" r="2.3"/><circle cx="210.1" cy="54.2" r="2.3"/><circle cx="203.4" cy="71.8" r="2.3"/><circle cx="214.9" cy="80.8" r="2.3"/><circle cx="211.3" cy="47.8" r="2.3"/><circle cx="229.8" cy="35.4" r="2.3"/><circle cx="236.4" cy="54" r="2.3"/><circle cx="224.4" cy="38" r="2.3"/><circle cx="177.6" cy="66.8" r="2.3"/><circle cx="160.2" cy="77.4" r="2.3"/><circle cx="194" cy="56.1" r="2.3"/><circle cx="221.5" cy="37.8" r="2.3"/><circle cx="199.6" cy="55.1" r="2.3"/><circle cx="205.6" cy="48" r="2.3"/><circle cx="190.2" cy="66.9" r="2.3"/><circle cx="184.8" cy="69.5" r="2.3"/><circle cx="240.8" cy="57.9" r="2.3"/><circle cx="224.7" cy="81.5" r="2.3"/><circle cx="168.4" cy="73.2" r="2.3"/><circle cx="230.6" cy="36.4" r="2.3"/><circle cx="236.6" cy="61.4" r="2.3"/><circle cx="228.7" cy="32.4" r="2.3"/><circle cx="221.8" cy="75.4" r="2.3"/><circle cx="221.4" cy="40.4" r="2.3"/><circle cx="166.5" cy="69.8" r="2.3"/><circle cx="239.1" cy="47.7" r="2.3"/><circle cx="211.9" cy="60.8" r="2.3"/><circle cx="188.5" cy="62.7" r="2.3"/><circle cx="232.8" cy="55.4" r="2.3"/><circle cx="230.5" cy="69.4" r="2.3"/><circle cx="215.4" cy="61.4" r="2.3"/><circle cx="172.4" cy="69.5" r="2.3"/><circle cx="181.2" cy="59.4" r="2.3"/><circle cx="241.4" cy="55" r="2.3"/><circle cx="198.4" cy="69.5" r="2.3"/><circle cx="213.9" cy="68.4" r="2.3"/><circle cx="240.2" cy="56.6" r="2.3"/><circle cx="203.5" cy="64.1" r="2.3"/><circle cx="182.4" cy="66.6" r="2.3"/><circle cx="224.6" cy="85.6" r="2.3"/><circle cx="195.3" cy="65" r="2.3"/><circle cx="227.6" cy="38.2" r="2.3"/><circle cx="195.2" cy="61.7" r="2.3"/><circle cx="187.3" cy="64.7" r="2.3"/><circle cx="230.7" cy="33" r="2.3"/><circle cx="159.4" cy="77.2" r="2.3"/><circle cx="224.2" cy="33.5" r="2.3"/><circle cx="217.6" cy="70.3" r="2.3"/><circle cx="219.4" cy="63.1" r="2.3"/><circle cx="167.6" cy="74" r="2.3"/><circle cx="204.7" cy="66.3" r="2.3"/><circle cx="221.2" cy="67.1" r="2.3"/><circle cx="218.7" cy="60.2" r="2.3"/><circle cx="227.2" cy="76.9" r="2.3"/><circle cx="223.9" cy="53.7" r="2.3"/><circle cx="218.6" cy="71.7" r="2.3"/><circle cx="218.4" cy="61.6" r="2.3"/><circle cx="230.6" cy="73.3" r="2.3"/><circle cx="218.8" cy="87.2" r="2.3"/><circle cx="190.2" cy="61.6" r="2.3"/><circle cx="189.8" cy="55" r="2.3"/><circle cx="221.6" cy="91.9" r="2.3"/><circle cx="216.2" cy="52.5" r="2.3"/><circle cx="219.9" cy="89.1" r="2.3"/><circle cx="184.8" cy="67" r="2.3"/><circle cx="198.5" cy="50.6" r="2.3"/><circle cx="216" cy="78.7" r="2.3"/><circle cx="198.1" cy="45.9" r="2.3"/><circle cx="231.5" cy="34.9" r="2.3"/><circle cx="210.3" cy="65.6" r="2.3"/><circle cx="222.8" cy="97.6" r="2.3"/><circle cx="219.5" cy="57.4" r="2.3"/><circle cx="217.7" cy="56.7" r="2.3"/><circle cx="184" cy="66.8" r="2.3"/><circle cx="185.5" cy="70" r="2.3"/><circle cx="204" cy="62.1" r="2.3"/><circle cx="174.9" cy="69.5" r="2.3"/><circle cx="213.3" cy="66.3" r="2.3"/><circle cx="219" cy="73.6" r="2.3"/><circle cx="236.2" cy="54.6" r="2.3"/><circle cx="228.2" cy="46.1" r="2.3"/><circle cx="225.9" cy="61.2" r="2.3"/><circle cx="191.8" cy="64.8" r="2.3"/><circle cx="213.7" cy="73.9" r="2.3"/><circle cx="235.7" cy="49.8" r="2.3"/><circle cx="177" cy="70.5" r="2.3"/><circle cx="240.4" cy="39" r="2.3"/><circle cx="190.9" cy="49.9" r="2.3"/><circle cx="162.2" cy="72.7" r="2.3"/><circle cx="220.1" cy="34.7" r="2.3"/><circle cx="217.8" cy="85.6" r="2.3"/><circle cx="207.1" cy="55.6" r="2.3"/><circle cx="239.1" cy="55.6" r="2.3"/><circle cx="189.3" cy="61" r="2.3"/><circle cx="228.7" cy="58" r="2.3"/><circle cx="198.9" cy="57.1" r="2.3"/><circle cx="241.4" cy="51.5" r="2.3"/><circle cx="211.9" cy="77.1" r="2.3"/><circle cx="226.5" cy="83.3" r="2.3"/><circle cx="194" cy="69.3" r="2.3"/><circle cx="224" cy="64.6" r="2.3"/><circle cx="193.8" cy="63.9" r="2.3"/><circle cx="217.7" cy="81.5" r="2.3"/><circle cx="185.1" cy="54.6" r="2.3"/><circle cx="232" cy="70.1" r="2.3"/><circle cx="216.1" cy="82.7" r="2.3"/><circle cx="216.4" cy="45.2" r="2.3"/><circle cx="195.9" cy="66" r="2.3"/><circle cx="183.5" cy="64.3" r="2.3"/><circle cx="233.6" cy="42.4" r="2.3"/><circle cx="221" cy="56.7" r="2.3"/><circle cx="205" cy="69.4" r="2.3"/><circle cx="218.1" cy="51.1" r="2.3"/><circle cx="212.4" cy="55.9" r="2.3"/><circle cx="222" cy="64.6" r="2.3"/><circle cx="232.4" cy="66.7" r="2.3"/><circle cx="231.9" cy="57" r="2.3"/><circle cx="240.8" cy="57.3" r="2.3"/><circle cx="216.9" cy="88.2" r="2.3"/><circle cx="183.4" cy="59.4" r="2.3"/><circle cx="222.7" cy="69.2" r="2.3"/><circle cx="209.1" cy="51" r="2.3"/><circle cx="220.3" cy="91.2" r="2.3"/><circle cx="185.1" cy="64.9" r="2.3"/><circle cx="228.4" cy="75" r="2.3"/><circle cx="182.9" cy="70.3" r="2.3"/><circle cx="218.1" cy="55.3" r="2.3"/><circle cx="218.3" cy="82.5" r="2.3"/><circle cx="227.5" cy="68.6" r="2.3"/><circle cx="206.7" cy="58.5" r="2.3"/><circle cx="207.4" cy="58.9" r="2.3"/><circle cx="174.6" cy="67" r="2.3"/><circle cx="236.5" cy="42" r="2.3"/><circle cx="208.9" cy="54.8" r="2.3"/><circle cx="211.6" cy="40.5" r="2.3"/><circle cx="216.6" cy="39.4" r="2.3"/><circle cx="213.5" cy="41.2" r="2.3"/><circle cx="219.3" cy="74.6" r="2.3"/><circle cx="203.7" cy="65.8" r="2.3"/><circle cx="210.3" cy="64.8" r="2.3"/><circle cx="181.7" cy="60.3" r="2.3"/><circle cx="176.1" cy="70.5" r="2.3"/><circle cx="221.1" cy="38.1" r="2.3"/><circle cx="209.5" cy="77.4" r="2.3"/><circle cx="222.8" cy="57.6" r="2.3"/><circle cx="177.7" cy="64.1" r="2.3"/><circle cx="216.4" cy="82.1" r="2.3"/><circle cx="195.4" cy="55.3" r="2.3"/><circle cx="221.1" cy="38.2" r="2.3"/><circle cx="230.3" cy="52.5" r="2.3"/><circle cx="199.4" cy="71.1" r="2.3"/><circle cx="214.9" cy="87.3" r="2.3"/><circle cx="173.3" cy="65.3" r="2.3"/><circle cx="200" cy="70.8" r="2.3"/><circle cx="228.7" cy="69" r="2.3"/><circle cx="218.1" cy="81.8" r="2.3"/><circle cx="165.1" cy="74.5" r="2.3"/><circle cx="199.7" cy="61.9" r="2.3"/><circle cx="198.6" cy="47.7" r="2.3"/><circle cx="230.6" cy="52.7" r="2.3"/><circle cx="219.6" cy="63.8" r="2.3"/><circle cx="232" cy="40.3" r="2.3"/><circle cx="190.2" cy="65.8" r="2.3"/><circle cx="228.1" cy="56.6" r="2.3"/><circle cx="235.5" cy="51.6" r="2.3"/><circle cx="213.6" cy="60.4" r="2.3"/><circle cx="232.7" cy="35.3" r="2.3"/><circle cx="222.5" cy="71.7" r="2.3"/><circle cx="235.6" cy="56.3" r="2.3"/><circle cx="213.6" cy="81" r="2.3"/><circle cx="213.3" cy="83.3" r="2.3"/><circle cx="217.5" cy="60" r="2.3"/><circle cx="232.1" cy="52.7" r="2.3"/><circle cx="213.2" cy="75.3" r="2.3"/><circle cx="223.9" cy="86.8" r="2.3"/><circle cx="211.3" cy="36.6" r="2.3"/><circle cx="175.7" cy="64" r="2.3"/><circle cx="216.5" cy="69.8" r="2.3"/><circle cx="218.9" cy="68.2" r="2.3"/><circle cx="209.9" cy="38.2" r="2.3"/><circle cx="209.2" cy="54.3" r="2.3"/><circle cx="227.3" cy="82.3" r="2.3"/><circle cx="191.1" cy="67.5" r="2.3"/><circle cx="233" cy="33.2" r="2.3"/><circle cx="160.8" cy="76.1" r="2.3"/><circle cx="213.2" cy="41.6" r="2.3"/><circle cx="223.7" cy="63.1" r="2.3"/><circle cx="214" cy="35.9" r="2.3"/><circle cx="216.9" cy="44.9" r="2.3"/><circle cx="236.1" cy="37.5" r="2.3"/><circle cx="208.1" cy="75" r="2.3"/><circle cx="168.3" cy="73.9" r="2.3"/><circle cx="200.5" cy="73.1" r="2.3"/><circle cx="226.9" cy="73.3" r="2.3"/><circle cx="230.9" cy="33.7" r="2.3"/><circle cx="194" cy="65.9" r="2.3"/><circle cx="191.9" cy="50.4" r="2.3"/><circle cx="219.9" cy="43.8" r="2.3"/><circle cx="179.2" cy="66.5" r="2.3"/><circle cx="219.2" cy="65.4" r="2.3"/><circle cx="241.6" cy="58.5" r="2.3"/><circle cx="201.1" cy="71.7" r="2.3"/><circle cx="222" cy="78.6" r="2.3"/><circle cx="234.3" cy="42.2" r="2.3"/><circle cx="213.6" cy="62.3" r="2.3"/><circle cx="215.7" cy="59.1" r="2.3"/><circle cx="214.5" cy="69.5" r="2.3"/><circle cx="218.6" cy="96.4" r="2.3"/><circle cx="224.2" cy="48.6" r="2.3"/><circle cx="233.1" cy="52" r="2.3"/><circle cx="221.9" cy="55.9" r="2.3"/><circle cx="192.2" cy="71.1" r="2.3"/><circle cx="224.1" cy="59.1" r="2.3"/><circle cx="232.7" cy="45.2" r="2.3"/><circle cx="207.1" cy="57.7" r="2.3"/><circle cx="223.4" cy="68.2" r="2.3"/><circle cx="212.9" cy="36" r="2.3"/><circle cx="220.2" cy="49.5" r="2.3"/><circle cx="180.2" cy="66.6" r="2.3"/><circle cx="227.8" cy="36.9" r="2.3"/><circle cx="232" cy="76.9" r="2.3"/><circle cx="204.6" cy="58.5" r="2.3"/><circle cx="185.1" cy="58.4" r="2.3"/><circle cx="215.8" cy="61" r="2.3"/><circle cx="236.6" cy="43.5" r="2.3"/><circle cx="224.9" cy="58.3" r="2.3"/><circle cx="189.4" cy="72" r="2.3"/><circle cx="219" cy="48" r="2.3"/><circle cx="187.1" cy="59.2" r="2.3"/><circle cx="215.2" cy="49.9" r="2.3"/><circle cx="182.7" cy="65.3" r="2.3"/><circle cx="218.8" cy="65.3" r="2.3"/><circle cx="202.5" cy="46.2" r="2.3"/><circle cx="185.7" cy="69.2" r="2.3"/><circle cx="230.5" cy="34.6" r="2.3"/><circle cx="233.4" cy="36.6" r="2.3"/><circle cx="201" cy="68.2" r="2.3"/><circle cx="231.3" cy="52.3" r="2.3"/><circle cx="230.8" cy="71.9" r="2.3"/><circle cx="219.4" cy="57.3" r="2.3"/><circle cx="160.1" cy="74.8" r="2.3"/><circle cx="224.4" cy="47.9" r="2.3"/><circle cx="216.1" cy="64.2" r="2.3"/><circle cx="224.2" cy="67.4" r="2.3"/><circle cx="237.9" cy="85.4" r="2.3"/><circle cx="224" cy="104.7" r="2.3"/><circle cx="227.8" cy="88.1" r="2.3"/><circle cx="232.7" cy="76.8" r="2.3"/><circle cx="240.5" cy="71.5" r="2.3"/><circle cx="228.7" cy="93" r="2.3"/><circle cx="247" cy="59.6" r="2.3"/><circle cx="230.8" cy="71" r="2.3"/><circle cx="236.5" cy="82.9" r="2.3"/><circle cx="244.9" cy="90.6" r="2.3"/><circle cx="232.2" cy="75.2" r="2.3"/><circle cx="239.7" cy="105.6" r="2.3"/><circle cx="253" cy="82.3" r="2.3"/><circle cx="254.6" cy="79.8" r="2.3"/><circle cx="237.5" cy="91.4" r="2.3"/><circle cx="249.4" cy="61.4" r="2.3"/><circle cx="238.6" cy="103.8" r="2.3"/><circle cx="232.3" cy="85.2" r="2.3"/><circle cx="235.7" cy="86.5" r="2.3"/><circle cx="237.5" cy="74.6" r="2.3"/><circle cx="259" cy="94.5" r="2.3"/><circle cx="261.9" cy="74.1" r="2.3"/><circle cx="240.6" cy="75.8" r="2.3"/><circle cx="256.6" cy="75.9" r="2.3"/><circle cx="249.1" cy="65.1" r="2.3"/><circle cx="243.6" cy="70.4" r="2.3"/><circle cx="258.5" cy="75.9" r="2.3"/><circle cx="260.1" cy="87.3" r="2.3"/><circle cx="235.5" cy="86.4" r="2.3"/><circle cx="259.2" cy="94.5" r="2.3"/><circle cx="254.9" cy="87.3" r="2.3"/><circle cx="246.7" cy="63" r="2.3"/><circle cx="255.2" cy="91.5" r="2.3"/><circle cx="222.6" cy="19.1" r="2.3"/><circle cx="227" cy="25.8" r="2.3"/><circle cx="227.4" cy="30.4" r="2.3"/><circle cx="229.9" cy="30.9" r="2.3"/><circle cx="189.5" cy="163.6" r="2.3"/><circle cx="183.9" cy="178.8" r="2.3"/><circle cx="221.9" cy="98.8" r="2.3"/><circle cx="178.3" cy="198.5" r="2.3"/><circle cx="201.4" cy="152.8" r="2.3"/><circle cx="220.3" cy="118.4" r="2.3"/><circle cx="221.3" cy="112.7" r="2.3"/><circle cx="194.9" cy="157.1" r="2.3"/><circle cx="168.8" cy="228" r="2.3"/><circle cx="214.2" cy="127.8" r="2.3"/><circle cx="178.9" cy="210.7" r="2.3"/><circle cx="175.4" cy="195.7" r="2.3"/><circle cx="206.9" cy="129.4" r="2.3"/><circle cx="182.5" cy="181.9" r="2.3"/><circle cx="195.8" cy="160.7" r="2.3"/><circle cx="199.8" cy="152.1" r="2.3"/><circle cx="213.4" cy="128.4" r="2.3"/><circle cx="209.1" cy="132.3" r="2.3"/><circle cx="211" cy="117.5" r="2.3"/><circle cx="203.5" cy="149.6" r="2.3"/><circle cx="184.8" cy="176.3" r="2.3"/><circle cx="202.1" cy="146.1" r="2.3"/><circle cx="175.7" cy="196.7" r="2.3"/><circle cx="209" cy="123.5" r="2.3"/><circle cx="201.7" cy="151.7" r="2.3"/><circle cx="171.9" cy="206.4" r="2.3"/><circle cx="185" cy="172.5" r="2.3"/><circle cx="220.3" cy="114" r="2.3"/><circle cx="183.7" cy="175.7" r="2.3"/><circle cx="167.1" cy="216.8" r="2.3"/><circle cx="188.9" cy="169.3" r="2.3"/><circle cx="213.3" cy="125.4" r="2.3"/><circle cx="172.4" cy="213.8" r="2.3"/><circle cx="207.7" cy="144.2" r="2.3"/><circle cx="219.9" cy="104.5" r="2.3"/><circle cx="222.6" cy="100.1" r="2.3"/><circle cx="206.6" cy="132.9" r="2.3"/><circle cx="174.1" cy="217.4" r="2.3"/><circle cx="174.2" cy="211.9" r="2.3"/><circle cx="190.7" cy="169.8" r="2.3"/><circle cx="220.6" cy="105.7" r="2.3"/><circle cx="182.8" cy="185" r="2.3"/><circle cx="206.4" cy="147" r="2.3"/><circle cx="209.3" cy="142.3" r="2.3"/><circle cx="197.6" cy="149.3" r="2.3"/><circle cx="195.7" cy="165.3" r="2.3"/><circle cx="188.2" cy="173.9" r="2.3"/><circle cx="190.7" cy="181.2" r="2.3"/><circle cx="221.8" cy="106.2" r="2.3"/><circle cx="200.2" cy="149.1" r="2.3"/><circle cx="182.7" cy="181.6" r="2.3"/><circle cx="206.4" cy="150.9" r="2.3"/><circle cx="178.5" cy="193.1" r="2.3"/><circle cx="205.8" cy="134.7" r="2.3"/><circle cx="175.4" cy="221.4" r="2.3"/><circle cx="166.5" cy="221.9" r="2.3"/><circle cx="184.1" cy="186.3" r="2.3"/><circle cx="176.1" cy="198" r="2.3"/><circle cx="210.4" cy="140.4" r="2.3"/><circle cx="180" cy="198" r="2.3"/><circle cx="172" cy="206.7" r="2.3"/><circle cx="183" cy="184.9" r="2.3"/><circle cx="215.3" cy="122.7" r="2.3"/><circle cx="207.5" cy="136.6" r="2.3"/><circle cx="183.2" cy="187.2" r="2.3"/><circle cx="215.6" cy="111.8" r="2.3"/><circle cx="206.2" cy="139.1" r="2.3"/><circle cx="184.7" cy="195.2" r="2.3"/><circle cx="214.1" cy="124.3" r="2.3"/><circle cx="208.6" cy="147.1" r="2.3"/><circle cx="186" cy="187.3" r="2.3"/><circle cx="185.1" cy="182.7" r="2.3"/><circle cx="218.9" cy="118.6" r="2.3"/><circle cx="227.3" cy="100" r="2.3"/><circle cx="211.5" cy="138.2" r="2.3"/><circle cx="222.7" cy="103.8" r="2.3"/><circle cx="186.9" cy="187.8" r="2.3"/><circle cx="189.4" cy="175.8" r="2.3"/><circle cx="187.7" cy="164.8" r="2.3"/><circle cx="209.7" cy="124.4" r="2.3"/><circle cx="215.6" cy="102.6" r="2.3"/><circle cx="179.5" cy="206.5" r="2.3"/><circle cx="169" cy="213.7" r="2.3"/><circle cx="209.4" cy="126.9" r="2.3"/><circle cx="189" cy="189.6" r="2.3"/><circle cx="228.7" cy="93.2" r="2.3"/><circle cx="168.3" cy="220.7" r="2.3"/><circle cx="195" cy="165.7" r="2.3"/><circle cx="222.5" cy="111.1" r="2.3"/><circle cx="168.6" cy="212.2" r="2.3"/><circle cx="221.8" cy="112.8" r="2.3"/><circle cx="190.5" cy="175.3" r="2.3"/><circle cx="210.5" cy="138.5" r="2.3"/><circle cx="215.7" cy="112.3" r="2.3"/><circle cx="177.6" cy="193.7" r="2.3"/><circle cx="212" cy="110.7" r="2.3"/><circle cx="211.3" cy="127.9" r="2.3"/><circle cx="168.8" cy="217.7" r="2.3"/><circle cx="198.8" cy="165.1" r="2.3"/><circle cx="176" cy="213.2" r="2.3"/><circle cx="180.1" cy="186.9" r="2.3"/><circle cx="175.8" cy="212.4" r="2.3"/><circle cx="217.7" cy="134.8" r="2.3"/><circle cx="190.3" cy="207.9" r="2.3"/><circle cx="183.7" cy="220.2" r="2.3"/><circle cx="194.2" cy="184.6" r="2.3"/><circle cx="188.7" cy="197.6" r="2.3"/><circle cx="185.6" cy="203.6" r="2.3"/><circle cx="226.7" cy="131.6" r="2.3"/><circle cx="195.3" cy="181.1" r="2.3"/><circle cx="189" cy="207.3" r="2.3"/><circle cx="218.2" cy="129.9" r="2.3"/><circle cx="216.8" cy="154" r="2.3"/><circle cx="230.6" cy="109.9" r="2.3"/><circle cx="233.5" cy="105.2" r="2.3"/><circle cx="227" cy="118.7" r="2.3"/><circle cx="210.4" cy="146.8" r="2.3"/><circle cx="204.4" cy="160.8" r="2.3"/><circle cx="209" cy="169.5" r="2.3"/><circle cx="204.2" cy="157.2" r="2.3"/><circle cx="214.1" cy="140.9" r="2.3"/><circle cx="198.6" cy="194.5" r="2.3"/><circle cx="224.1" cy="127.6" r="2.3"/><circle cx="206.6" cy="154" r="2.3"/><circle cx="215.4" cy="155" r="2.3"/><circle cx="230.4" cy="120.9" r="2.3"/><circle cx="216.7" cy="140.1" r="2.3"/><circle cx="218.8" cy="149.6" r="2.3"/><circle cx="183.4" cy="220.4" r="2.3"/><circle cx="186.6" cy="219.7" r="2.3"/><circle cx="219.8" cy="130.2" r="2.3"/><circle cx="196.4" cy="191.3" r="2.3"/><circle cx="188.7" cy="208.4" r="2.3"/><circle cx="190.9" cy="192.1" r="2.3"/><circle cx="198.3" cy="192.6" r="2.3"/><circle cx="217.4" cy="128.3" r="2.3"/><circle cx="187.6" cy="216" r="2.3"/><circle cx="228.5" cy="120.8" r="2.3"/><circle cx="225.8" cy="124.1" r="2.3"/><circle cx="176.5" cy="232.3" r="2.3"/><circle cx="225.5" cy="109.3" r="2.3"/><circle cx="204.4" cy="173.2" r="2.3"/><circle cx="193.3" cy="70" r="2.3"/><circle cx="140.5" cy="96.1" r="2.3"/><circle cx="157.9" cy="177.3" r="2.3"/><circle cx="150" cy="101.9" r="2.3"/><circle cx="131.2" cy="102.4" r="2.3"/><circle cx="46.1" cy="138.4" r="2.3"/><circle cx="125.7" cy="159.5" r="2.3"/><circle cx="166.8" cy="208" r="2.3"/><circle cx="145.2" cy="135.7" r="2.3"/><circle cx="110.1" cy="112.2" r="2.3"/><circle cx="171" cy="198.3" r="2.3"/><circle cx="164.4" cy="140.6" r="2.3"/><circle cx="146.8" cy="134.6" r="2.3"/><circle cx="137.4" cy="148.9" r="2.3"/><circle cx="94.2" cy="136.8" r="2.3"/><circle cx="201.1" cy="115.9" r="2.3"/><circle cx="123.1" cy="105.3" r="2.3"/><circle cx="212.2" cy="91.4" r="2.3"/><circle cx="124.1" cy="143.6" r="2.3"/><circle cx="131.1" cy="145.9" r="2.3"/><circle cx="99.6" cy="125.5" r="2.3"/><circle cx="168.7" cy="71.7" r="2.3"/><circle cx="176.9" cy="148" r="2.3"/><circle cx="207.3" cy="77.3" r="2.3"/><circle cx="204.2" cy="127.1" r="2.3"/><circle cx="71.5" cy="149.5" r="2.3"/><circle cx="212.8" cy="104.8" r="2.3"/><circle cx="194.7" cy="113.3" r="2.3"/><circle cx="124.5" cy="109.3" r="2.3"/><circle cx="147.2" cy="183.5" r="2.3"/><circle cx="144.2" cy="163.7" r="2.3"/><circle cx="193.3" cy="109.2" r="2.3"/><circle cx="143.8" cy="173.9" r="2.3"/><circle cx="202.5" cy="120.4" r="2.3"/><circle cx="201.4" cy="120.4" r="2.3"/><circle cx="164" cy="94.9" r="2.3"/><circle cx="155.8" cy="117.9" r="2.3"/><circle cx="155.4" cy="157.1" r="2.3"/><circle cx="144.3" cy="169.2" r="2.3"/><circle cx="77.6" cy="149.5" r="2.3"/><circle cx="63.9" cy="128.1" r="2.3"/><circle cx="84.5" cy="124.4" r="2.3"/><circle cx="175" cy="102.8" r="2.3"/><circle cx="205.4" cy="120.4" r="2.3"/><circle cx="92.3" cy="143.6" r="2.3"/><circle cx="209.3" cy="99.1" r="2.3"/><circle cx="161.3" cy="97.3" r="2.3"/><circle cx="144.9" cy="112.3" r="2.3"/><circle cx="72.2" cy="144.6" r="2.3"/><circle cx="121.7" cy="130.2" r="2.3"/><circle cx="74.9" cy="131.3" r="2.3"/><circle cx="138.8" cy="100.7" r="2.3"/><circle cx="134.3" cy="124.9" r="2.3"/><circle cx="62.2" cy="145.9" r="2.3"/><circle cx="151.9" cy="126.1" r="2.3"/><circle cx="173.2" cy="171.4" r="2.3"/><circle cx="135.7" cy="167.1" r="2.3"/><circle cx="141.3" cy="106.4" r="2.3"/><circle cx="112.6" cy="154.8" r="2.3"/><circle cx="176.7" cy="199" r="2.3"/><circle cx="167.3" cy="144.7" r="2.3"/><circle cx="116.6" cy="121.5" r="2.3"/><circle cx="168.8" cy="193.6" r="2.3"/><circle cx="155.7" cy="90.3" r="2.3"/><circle cx="154.5" cy="111.6" r="2.3"/><circle cx="180.6" cy="177.4" r="2.3"/><circle cx="149.5" cy="180.6" r="2.3"/><circle cx="141.4" cy="105.3" r="2.3"/><circle cx="215.2" cy="105.1" r="2.3"/><circle cx="202" cy="123.2" r="2.3"/><circle cx="152.2" cy="85.7" r="2.3"/><circle cx="129.9" cy="154.6" r="2.3"/><circle cx="163.2" cy="111.2" r="2.3"/><circle cx="190.2" cy="74.2" r="2.3"/><circle cx="183.6" cy="131.5" r="2.3"/><circle cx="130.7" cy="114.7" r="2.3"/><circle cx="138.5" cy="154.1" r="2.3"/><circle cx="161.4" cy="93.8" r="2.3"/><circle cx="135.2" cy="91" r="2.3"/><circle cx="199.5" cy="103.5" r="2.3"/><circle cx="214.4" cy="115" r="2.3"/><circle cx="163.6" cy="80.7" r="2.3"/><circle cx="152.8" cy="90" r="2.3"/><circle cx="141.6" cy="172.4" r="2.3"/><circle cx="123.9" cy="127.2" r="2.3"/><circle cx="190.3" cy="103.2" r="2.3"/><circle cx="193.7" cy="130.9" r="2.3"/><circle cx="194.6" cy="107.8" r="2.3"/><circle cx="171.7" cy="196.8" r="2.3"/><circle cx="104.3" cy="145.1" r="2.3"/><circle cx="146.5" cy="165" r="2.3"/><circle cx="99.6" cy="147.3" r="2.3"/><circle cx="43.6" cy="140.3" r="2.3"/><circle cx="151.1" cy="100" r="2.3"/><circle cx="173" cy="163.9" r="2.3"/><circle cx="149.5" cy="131.4" r="2.3"/><circle cx="121.4" cy="140.6" r="2.3"/><circle cx="109.4" cy="116.3" r="2.3"/><circle cx="136.7" cy="172.2" r="2.3"/><circle cx="160.4" cy="134" r="2.3"/><circle cx="134.9" cy="171" r="2.3"/><circle cx="158.5" cy="126" r="2.3"/><circle cx="183.8" cy="90.3" r="2.3"/><circle cx="200.1" cy="148.4" r="2.3"/><circle cx="148.1" cy="105.9" r="2.3"/><circle cx="136.3" cy="116.7" r="2.3"/><circle cx="106.8" cy="105.8" r="2.3"/><circle cx="120.4" cy="139.7" r="2.3"/><circle cx="144.5" cy="127.6" r="2.3"/><circle cx="132.5" cy="94.9" r="2.3"/><circle cx="165.7" cy="102.9" r="2.3"/><circle cx="174.7" cy="96.8" r="2.3"/><circle cx="198.9" cy="119.8" r="2.3"/><circle cx="108.6" cy="133" r="2.3"/><circle cx="176.4" cy="81.3" r="2.3"/><circle cx="169" cy="143.9" r="2.3"/><circle cx="102.3" cy="109.8" r="2.3"/><circle cx="183.7" cy="84.1" r="2.3"/><circle cx="151.7" cy="174.7" r="2.3"/><circle cx="148.4" cy="84.8" r="2.3"/><circle cx="63.6" cy="130.4" r="2.3"/><circle cx="137.3" cy="117.7" r="2.3"/><circle cx="171.6" cy="152" r="2.3"/><circle cx="157.4" cy="123.1" r="2.3"/><circle cx="125.5" cy="157.8" r="2.3"/><circle cx="117" cy="141.2" r="2.3"/><circle cx="173.4" cy="208" r="2.3"/><circle cx="178.5" cy="187.9" r="2.3"/><circle cx="127.9" cy="122.6" r="2.3"/><circle cx="171.7" cy="153.3" r="2.3"/><circle cx="184.4" cy="161.6" r="2.3"/><circle cx="218.3" cy="93.4" r="2.3"/><circle cx="179.4" cy="158.2" r="2.3"/><circle cx="218.3" cy="100.7" r="2.3"/><circle cx="140.5" cy="147.7" r="2.3"/><circle cx="130.8" cy="150" r="2.3"/><circle cx="52.5" cy="138.3" r="2.3"/><circle cx="155.1" cy="102.6" r="2.3"/><circle cx="124.2" cy="137.7" r="2.3"/><circle cx="73.5" cy="133.4" r="2.3"/><circle cx="113.1" cy="152.4" r="2.3"/><circle cx="165.3" cy="86.2" r="2.3"/><circle cx="197.5" cy="79.9" r="2.3"/><circle cx="191.2" cy="100.4" r="2.3"/><circle cx="126.7" cy="109.6" r="2.3"/><circle cx="194" cy="86.9" r="2.3"/><circle cx="164.9" cy="116.8" r="2.3"/><circle cx="129.1" cy="194.4" r="2.3"/><circle cx="136.8" cy="189.1" r="2.3"/><circle cx="157.4" cy="212.6" r="2.3"/><circle cx="150.6" cy="209.8" r="2.3"/><circle cx="58.3" cy="154.9" r="2.3"/><circle cx="142.3" cy="214.2" r="2.3"/><circle cx="133.5" cy="180.3" r="2.3"/><circle cx="151.2" cy="212.2" r="2.3"/><circle cx="112.9" cy="162" r="2.3"/><circle cx="152.5" cy="218.1" r="2.3"/><circle cx="147.8" cy="201.5" r="2.3"/><circle cx="135.8" cy="199.4" r="2.3"/><circle cx="155.3" cy="204" r="2.3"/><circle cx="153.3" cy="203.3" r="2.3"/><circle cx="99.6" cy="165.8" r="2.3"/><circle cx="129.8" cy="204.7" r="2.3"/><circle cx="87.5" cy="170.5" r="2.3"/><circle cx="127.3" cy="202.7" r="2.3"/><circle cx="55.5" cy="153.7" r="2.3"/><circle cx="139.4" cy="197.4" r="2.3"/><circle cx="112.7" cy="194.5" r="2.3"/><circle cx="100.9" cy="166.1" r="2.3"/><circle cx="113.8" cy="185" r="2.3"/><circle cx="113.3" cy="159.9" r="2.3"/><circle cx="130.8" cy="188.8" r="2.3"/><circle cx="96.5" cy="182.8" r="2.3"/><circle cx="93.7" cy="172.4" r="2.3"/><circle cx="111.3" cy="185.6" r="2.3"/><circle cx="140.6" cy="191.7" r="2.3"/><circle cx="119.5" cy="170.6" r="2.3"/><circle cx="148.9" cy="218.9" r="2.3"/><circle cx="120.3" cy="169.9" r="2.3"/><circle cx="146.3" cy="215.7" r="2.3"/><circle cx="146.8" cy="198.8" r="2.3"/><circle cx="155.9" cy="211.6" r="2.3"/><circle cx="116" cy="197.5" r="2.3"/><circle cx="109.3" cy="165.1" r="2.3"/><circle cx="122.8" cy="170.1" r="2.3"/><circle cx="60.1" cy="160.9" r="2.3"/><circle cx="64" cy="154" r="2.3"/><circle cx="48.1" cy="150.7" r="2.3"/><circle cx="86.6" cy="165.3" r="2.3"/><circle cx="130.3" cy="207.1" r="2.3"/><circle cx="119.6" cy="181.7" r="2.3"/><circle cx="114.8" cy="195.2" r="2.3"/><circle cx="161.7" cy="215.2" r="2.3"/><circle cx="121.1" cy="181.3" r="2.3"/><circle cx="103.3" cy="160.9" r="2.3"/><circle cx="142.8" cy="199.3" r="2.3"/><circle cx="120.5" cy="171.7" r="2.3"/><circle cx="118.6" cy="198.2" r="2.3"/><circle cx="69.7" cy="166.9" r="2.3"/><circle cx="119.7" cy="183.3" r="2.3"/><circle cx="83.9" cy="174.9" r="2.3"/><circle cx="144.8" cy="195.4" r="2.3"/><circle cx="127.1" cy="185.3" r="2.3"/><circle cx="132" cy="188.6" r="2.3"/><circle cx="128.2" cy="184.7" r="2.3"/><circle cx="118.5" cy="178" r="2.3"/><circle cx="104.7" cy="184.4" r="2.3"/><circle cx="149.5" cy="221.3" r="2.3"/><circle cx="83.6" cy="179" r="2.3"/><circle cx="97" cy="151.9" r="2.3"/><circle cx="107.2" cy="188.5" r="2.3"/><circle cx="84.6" cy="160.7" r="2.3"/><circle cx="161.8" cy="217.2" r="2.3"/><circle cx="151.3" cy="205.9" r="2.3"/><circle cx="70" cy="168.1" r="2.3"/><circle cx="116.5" cy="200.5" r="2.3"/><circle cx="115.6" cy="199.8" r="2.3"/><circle cx="94.2" cy="169.2" r="2.3"/><circle cx="132" cy="204.9" r="2.3"/><circle cx="114.5" cy="199.8" r="2.3"/><circle cx="159.2" cy="208.9" r="2.3"/><circle cx="83.8" cy="153.4" r="2.3"/><circle cx="102.8" cy="161" r="2.3"/><circle cx="114" cy="172.1" r="2.3"/><circle cx="165.2" cy="225.4" r="2.3"/><circle cx="83.9" cy="153.1" r="2.3"/><circle cx="144.5" cy="215" r="2.3"/><circle cx="135.1" cy="198.8" r="2.3"/><circle cx="74.3" cy="170.9" r="2.3"/><circle cx="141" cy="184.6" r="2.3"/><circle cx="133.6" cy="177.4" r="2.3"/><circle cx="85.7" cy="163.4" r="2.3"/><circle cx="82.1" cy="151.2" r="2.3"/><circle cx="133" cy="181.2" r="2.3"/><circle cx="149.1" cy="205.7" r="2.3"/><circle cx="131.8" cy="176.9" r="2.3"/><circle cx="95.8" cy="174.1" r="2.3"/><circle cx="140.6" cy="211.7" r="2.3"/><circle cx="75.5" cy="162.6" r="2.3"/><circle cx="148.3" cy="214.7" r="2.3"/><circle cx="126.4" cy="171.6" r="2.3"/><circle cx="165.1" cy="226.8" r="2.3"/><circle cx="153" cy="220.9" r="2.3"/><circle cx="75.6" cy="160.9" r="2.3"/><circle cx="60.6" cy="160.4" r="2.3"/><circle cx="86.2" cy="153.3" r="2.3"/><circle cx="137.6" cy="195.2" r="2.3"/><circle cx="84.8" cy="178.3" r="2.3"/><circle cx="136.8" cy="197.3" r="2.3"/><circle cx="83.9" cy="174.5" r="2.3"/><circle cx="138.2" cy="180.9" r="2.3"/><circle cx="149.6" cy="200.8" r="2.3"/><circle cx="132.1" cy="206" r="2.3"/><circle cx="83.5" cy="172.2" r="2.3"/><circle cx="121.1" cy="172.7" r="2.3"/><circle cx="130.9" cy="183.3" r="2.3"/><circle cx="111.9" cy="164" r="2.3"/><circle cx="92.4" cy="184.1" r="2.3"/><circle cx="150.8" cy="213.2" r="2.3"/><circle cx="133.8" cy="204.1" r="2.3"/><circle cx="85" cy="178" r="2.3"/><circle cx="93.5" cy="173.8" r="2.3"/><circle cx="112.5" cy="176.9" r="2.3"/><circle cx="82.9" cy="153.9" r="2.3"/><circle cx="126" cy="186.9" r="2.3"/><circle cx="76.6" cy="169.5" r="2.3"/><circle cx="119.2" cy="165.5" r="2.3"/><circle cx="112" cy="190.6" r="2.3"/><circle cx="135.7" cy="189.3" r="2.3"/><circle cx="118.6" cy="174.4" r="2.3"/><circle cx="119.5" cy="192.5" r="2.3"/><circle cx="170.6" cy="225.8" r="2.3"/><circle cx="146.4" cy="209.9" r="2.3"/><circle cx="146.2" cy="199.7" r="2.3"/><circle cx="141.8" cy="208.3" r="2.3"/><circle cx="64.4" cy="162.2" r="2.3"/><circle cx="74.8" cy="156.3" r="2.3"/><circle cx="161.8" cy="209.8" r="2.3"/><circle cx="172" cy="230.8" r="2.3"/><circle cx="105.9" cy="156.6" r="2.3"/><circle cx="82" cy="156.4" r="2.3"/><circle cx="133.8" cy="186" r="2.3"/><circle cx="121.7" cy="166.8" r="2.3"/><circle cx="117.1" cy="169.6" r="2.3"/><circle cx="164" cy="225.3" r="2.3"/><circle cx="97.8" cy="151.6" r="2.3"/><circle cx="85.5" cy="176.1" r="2.3"/><circle cx="98.3" cy="152.7" r="2.3"/><circle cx="100.5" cy="154.2" r="2.3"/><circle cx="77.5" cy="168.3" r="2.3"/><circle cx="90.2" cy="176" r="2.3"/><circle cx="130.5" cy="210.1" r="2.3"/><circle cx="151.8" cy="220.7" r="2.3"/><circle cx="165" cy="224.9" r="2.3"/><circle cx="127.6" cy="201.4" r="2.3"/><circle cx="56.7" cy="156.8" r="2.3"/><circle cx="130.1" cy="185.2" r="2.3"/><circle cx="107.8" cy="164.7" r="2.3"/><circle cx="160.8" cy="226.4" r="2.3"/><circle cx="65.6" cy="156.1" r="2.3"/><circle cx="105.3" cy="161.4" r="2.3"/><circle cx="116.3" cy="182.4" r="2.3"/><circle cx="108.3" cy="183.4" r="2.3"/><circle cx="124.1" cy="199.5" r="2.3"/><circle cx="156.6" cy="203.4" r="2.3"/><circle cx="130.1" cy="181.8" r="2.3"/><circle cx="120.7" cy="169.1" r="2.3"/><circle cx="87.4" cy="169.5" r="2.3"/><circle cx="113.2" cy="172.6" r="2.3"/><circle cx="114.5" cy="173" r="2.3"/><circle cx="97.1" cy="171.3" r="2.3"/><circle cx="83.8" cy="152.1" r="2.3"/><circle cx="124.7" cy="173.3" r="2.3"/><circle cx="98.2" cy="183.7" r="2.3"/><circle cx="91.8" cy="165.1" r="2.3"/><circle cx="99.6" cy="177.1" r="2.3"/><circle cx="81.3" cy="166.1" r="2.3"/><circle cx="91" cy="184.5" r="2.3"/><circle cx="84.6" cy="178.1" r="2.3"/><circle cx="78.9" cy="174.3" r="2.3"/><circle cx="75" cy="172.3" r="2.3"/><circle cx="59.6" cy="160.6" r="2.3"/><circle cx="61.6" cy="160.3" r="2.3"/><circle cx="82.4" cy="178.4" r="2.3"/><circle cx="90.9" cy="182.9" r="2.3"/><circle cx="69.3" cy="168.9" r="2.3"/><circle cx="66" cy="165.3" r="2.3"/><circle cx="90.2" cy="179.6" r="2.3"/><circle cx="58.7" cy="159.4" r="2.3"/><circle cx="67.1" cy="166.4" r="2.3"/><circle cx="80.4" cy="175.6" r="2.3"/><circle cx="53.2" cy="156.1" r="2.3"/><circle cx="88.2" cy="182.6" r="2.3"/><circle cx="60.5" cy="163.1" r="2.3"/><circle cx="79.8" cy="175.2" r="2.3"/><circle cx="56.5" cy="160.5" r="2.3"/><circle cx="90" cy="181.4" r="2.3"/><circle cx="85.8" cy="177.7" r="2.3"/><circle cx="57.2" cy="158.2" r="2.3"/><circle cx="78.1" cy="173.2" r="2.3"/><circle cx="64.1" cy="164.7" r="2.3"/><circle cx="54.9" cy="157.9" r="2.3"/><circle cx="53.3" cy="154" r="2.3"/><circle cx="71.8" cy="170.9" r="2.3"/><circle cx="58.6" cy="160" r="2.3"/><circle cx="90.7" cy="182.5" r="2.3"/><circle cx="61.8" cy="163.5" r="2.3"/><circle cx="87.7" cy="181.9" r="2.3"/><circle cx="61" cy="161.6" r="2.3"/><circle cx="82.7" cy="175.5" r="2.3"/><circle cx="64.3" cy="165.7" r="2.3"/><circle cx="57.3" cy="158.3" r="2.3"/><circle cx="58" cy="159.5" r="2.3"/><circle cx="73.3" cy="169.7" r="2.3"/><circle cx="59.4" cy="160" r="2.3"/><circle cx="73.5" cy="169.2" r="2.3"/><circle cx="78.6" cy="174.8" r="2.3"/><circle cx="97.2" cy="189.3" r="2.3"/><circle cx="122.2" cy="203.5" r="2.3"/><circle cx="118.5" cy="201.8" r="2.3"/><circle cx="103.4" cy="193.2" r="2.3"/><circle cx="127.5" cy="205.5" r="2.3"/><circle cx="95" cy="188.4" r="2.3"/><circle cx="93.5" cy="187" r="2.3"/><circle cx="108.5" cy="196.7" r="2.3"/><circle cx="124.9" cy="205.6" r="2.3"/><circle cx="130.4" cy="207.1" r="2.3"/><circle cx="128.4" cy="207.3" r="2.3"/><circle cx="107.3" cy="194.6" r="2.3"/><circle cx="97.8" cy="188.7" r="2.3"/><circle cx="95.8" cy="187.6" r="2.3"/><circle cx="95.5" cy="186.9" r="2.3"/><circle cx="107.3" cy="195.1" r="2.3"/><circle cx="110.3" cy="195.8" r="2.3"/><circle cx="119.3" cy="200.9" r="2.3"/><circle cx="107.4" cy="195.7" r="2.3"/><circle cx="92.9" cy="188" r="2.3"/><circle cx="99.6" cy="190.8" r="2.3"/><circle cx="115.2" cy="200.4" r="2.3"/><circle cx="96.3" cy="187.4" r="2.3"/><circle cx="118.1" cy="201" r="2.3"/><circle cx="94.8" cy="187.6" r="2.3"/><circle cx="106.9" cy="194" r="2.3"/><circle cx="96.5" cy="189.2" r="2.3"/><circle cx="123.3" cy="203.2" r="2.3"/><circle cx="111.3" cy="197.8" r="2.3"/><circle cx="94.8" cy="188.1" r="2.3"/><circle cx="95.8" cy="188.2" r="2.3"/><circle cx="106.8" cy="194.6" r="2.3"/><circle cx="93.5" cy="187.1" r="2.3"/><circle cx="94.3" cy="184.9" r="2.3"/><circle cx="105.6" cy="194.5" r="2.3"/><circle cx="103.8" cy="192.8" r="2.3"/><circle cx="129.2" cy="208.2" r="2.3"/><circle cx="117.6" cy="200.5" r="2.3"/><circle cx="122.2" cy="203.4" r="2.3"/><circle cx="106.2" cy="194.3" r="2.3"/><circle cx="117.9" cy="201.9" r="2.3"/><circle cx="107.7" cy="194.9" r="2.3"/><circle cx="106.5" cy="194.3" r="2.3"/><circle cx="126.7" cy="206" r="2.3"/><circle cx="128.2" cy="207.1" r="2.3"/><circle cx="103.9" cy="192.9" r="2.3"/><circle cx="97.5" cy="189.4" r="2.3"/><circle cx="113.4" cy="196.8" r="2.3"/><circle cx="127.8" cy="206.8" r="2.3"/><circle cx="106.3" cy="194.8" r="2.3"/><circle cx="108.9" cy="196.4" r="2.3"/><circle cx="119.8" cy="203.8" r="2.3"/><circle cx="102.9" cy="192.4" r="2.3"/><circle cx="106.7" cy="195.2" r="2.3"/><circle cx="116.7" cy="200.6" r="2.3"/><circle cx="95.9" cy="186.3" r="2.3"/><circle cx="100.1" cy="189.2" r="2.3"/><circle cx="108.8" cy="197.1" r="2.3"/><circle cx="119.1" cy="202.1" r="2.3"/><circle cx="106.7" cy="193.7" r="2.3"/><circle cx="122.2" cy="201.9" r="2.3"/><circle cx="103.1" cy="190.5" r="2.3"/><circle cx="128.9" cy="205.8" r="2.3"/><circle cx="116.3" cy="200.2" r="2.3"/><circle cx="113.3" cy="198.6" r="2.3"/><circle cx="102.8" cy="192" r="2.3"/><circle cx="110.4" cy="196.9" r="2.3"/><circle cx="121.8" cy="202.8" r="2.3"/><circle cx="95.6" cy="187.5" r="2.3"/><circle cx="118.9" cy="202.3" r="2.3"/><circle cx="111.5" cy="198" r="2.3"/><circle cx="107" cy="193.7" r="2.3"/><circle cx="112.3" cy="196.5" r="2.3"/><circle cx="103.1" cy="193.5" r="2.3"/><circle cx="98.9" cy="190" r="2.3"/><circle cx="122.5" cy="204.3" r="2.3"/><circle cx="118.1" cy="201.1" r="2.3"/><circle cx="125.6" cy="206.3" r="2.3"/><circle cx="128.4" cy="207.4" r="2.3"/><circle cx="93.4" cy="188.7" r="2.3"/><circle cx="130.3" cy="207.3" r="2.3"/><circle cx="92.4" cy="188" r="2.3"/><circle cx="117.6" cy="202.1" r="2.3"/><circle cx="114" cy="198.1" r="2.3"/><circle cx="97.8" cy="189.5" r="2.3"/><circle cx="124.1" cy="206.5" r="2.3"/><circle cx="100.7" cy="190.4" r="2.3"/><circle cx="103.1" cy="193.4" r="2.3"/><circle cx="100" cy="190.9" r="2.3"/><circle cx="116.2" cy="199.7" r="2.3"/><circle cx="108.1" cy="193.7" r="2.3"/><circle cx="120.2" cy="202.6" r="2.3"/><circle cx="120.8" cy="204.1" r="2.3"/><circle cx="122.1" cy="203.6" r="2.3"/><circle cx="91.9" cy="186.2" r="2.3"/><circle cx="166.6" cy="235.9" r="2.3"/><circle cx="157" cy="228.2" r="2.3"/><circle cx="148.5" cy="222.3" r="2.3"/><circle cx="166.1" cy="233" r="2.3"/><circle cx="158.8" cy="227.3" r="2.3"/><circle cx="154.1" cy="225.8" r="2.3"/><circle cx="151" cy="222.3" r="2.3"/><circle cx="164.6" cy="231.3" r="2.3"/><circle cx="163.6" cy="229.6" r="2.3"/><circle cx="148.9" cy="221.8" r="2.3"/><circle cx="151" cy="224.2" r="2.3"/><circle cx="152.8" cy="226.6" r="2.3"/><circle cx="150.9" cy="225" r="2.3"/><circle cx="152.1" cy="220.9" r="2.3"/><circle cx="167.3" cy="233.2" r="2.3"/><circle cx="149.2" cy="223.7" r="2.3"/><circle cx="168.1" cy="234.4" r="2.3"/><circle cx="164.4" cy="231.5" r="2.3"/><circle cx="154.5" cy="222.2" r="2.3"/><circle cx="144.8" cy="222.3" r="2.3"/><circle cx="164.2" cy="232.6" r="2.3"/><circle cx="143" cy="219" r="2.3"/><circle cx="146.7" cy="222.1" r="2.3"/><circle cx="158.8" cy="226" r="2.3"/><circle cx="151.8" cy="221.1" r="2.3"/><circle cx="147" cy="223" r="2.3"/><circle cx="140.9" cy="219" r="2.3"/><circle cx="139.3" cy="219.3" r="2.3"/><circle cx="154" cy="227.4" r="2.3"/><circle cx="169.3" cy="233.7" r="2.3"/><circle cx="144.6" cy="220.7" r="2.3"/><circle cx="161.1" cy="232.9" r="2.3"/><circle cx="147.7" cy="221.9" r="2.3"/><circle cx="151.8" cy="222.8" r="2.3"/><circle cx="148.7" cy="223.7" r="2.3"/><circle cx="225.7" cy="12.8" r="2.3"/><circle cx="228.4" cy="16.1" r="2.3"/><circle cx="221.5" cy="20.6" r="2.3"/><circle cx="231.2" cy="26.2" r="2.3"/><circle cx="222.9" cy="27.3" r="2.3"/><circle cx="206.1" cy="31.7" r="2.3"/><circle cx="160.9" cy="67.2" r="2.3"/><circle cx="175.8" cy="56" r="2.3"/><circle cx="182" cy="52.3" r="2.3"/></g><path d="M152.5,148.2 L200.1,39.5 L206.4,46 Z" fill="#fbeef4" fill-opacity="0.42"/><g class="arA"><line x1="152.5" y1="148.2" x2="231" y2="195"/><line x1="152.5" y1="148.2" x2="230.2" y2="197"/><line x1="152.5" y1="148.2" x2="233.3" y2="187.7"/><line x1="152.5" y1="148.2" x2="210.3" y2="174.3"/><line x1="152.5" y1="148.2" x2="80" y2="110"/><line x1="152.5" y1="148.2" x2="124.5" y2="102"/><line x1="152.5" y1="148.2" x2="201" y2="40.5" style="stroke-width:0.5;stroke-opacity:0.6"/><line x1="152.5" y1="148.2" x2="203.8" y2="42.5" style="stroke-width:0.5;stroke-opacity:0.6"/><line x1="152.5" y1="148.2" x2="200.1" y2="39.5"/><line x1="152.5" y1="148.2" x2="206.4" y2="46"/><line x1="152.5" y1="148.2" x2="230.7" y2="193.4"/><line x1="152.5" y1="148.2" x2="229.6" y2="184.3"/></g><path class="st" fill="#1f77b4" d="M231,189.7 L232.2,193.3 L236,193.4 L233,195.7 L234.1,199.3 L231,197.1 L227.9,199.3 L229,195.7 L226,193.4 L229.8,193.3Z"/><path class="st" fill="#aec7e8" d="M230.2,191.7 L231.4,195.3 L235.2,195.4 L232.2,197.7 L233.3,201.3 L230.2,199.1 L227.1,201.3 L228.2,197.7 L225.2,195.4 L229,195.3Z"/><path class="st" fill="#ffbb78" d="M233.3,182.4 L234.5,186 L238.3,186.1 L235.3,188.4 L236.4,192 L233.3,189.8 L230.2,192 L231.3,188.4 L228.3,186.1 L232.1,186Z"/><path class="st" fill="#98df8a" d="M210.3,169 L211.5,172.6 L215.3,172.7 L212.3,175 L213.4,178.6 L210.3,176.4 L207.2,178.6 L208.3,175 L205.3,172.7 L209.1,172.6Z"/><path class="st" fill="#ff9896" d="M80,104.7 L81.2,108.3 L85,108.4 L82,110.7 L83.1,114.3 L80,112.1 L76.9,114.3 L78,110.7 L75,108.4 L78.8,108.3Z"/><path class="st" fill="#c5b0d5" d="M124.5,96.7 L125.7,100.3 L129.5,100.4 L126.5,102.7 L127.6,106.3 L124.5,104.1 L121.4,106.3 L122.5,102.7 L119.5,100.4 L123.3,100.3Z"/><path class="st" fill="#8c564b" d="M201,35.2 L202.2,38.8 L206,38.9 L203,41.2 L204.1,44.8 L201,42.6 L197.9,44.8 L199,41.2 L196,38.9 L199.8,38.8Z"/><path class="st" fill="#e377c2" d="M203.8,37.2 L205,40.8 L208.8,40.9 L205.8,43.2 L206.9,46.8 L203.8,44.6 L200.7,46.8 L201.8,43.2 L198.8,40.9 L202.6,40.8Z"/><path class="st" fill="#7f7f7f" d="M200.1,34.2 L201.3,37.8 L205.1,37.9 L202.1,40.2 L203.2,43.8 L200.1,41.6 L197,43.8 L198.1,40.2 L195.1,37.9 L198.9,37.8Z"/><path class="st" fill="#bcbd22" d="M206.4,40.7 L207.6,44.3 L211.4,44.4 L208.4,46.7 L209.5,50.3 L206.4,48.1 L203.3,50.3 L204.4,46.7 L201.4,44.4 L205.2,44.3Z"/><path class="st" fill="#17becf" d="M230.7,188.1 L231.9,191.7 L235.7,191.8 L232.7,194.1 L233.8,197.7 L230.7,195.5 L227.6,197.7 L228.7,194.1 L225.7,191.8 L229.5,191.7Z"/><path class="st" fill="#9edae5" d="M229.6,179 L230.8,182.6 L234.6,182.7 L231.6,185 L232.7,188.6 L229.6,186.4 L226.5,188.6 L227.6,185 L224.6,182.7 L228.4,182.6Z"/></g><clipPath id="cb"><rect x="324.5" y="1.5" width="245.0" height="262.0"/></clipPath><g clip-path="url(#cb)"><g class="rd"><circle cx="412.6" cy="175" r="2.3"/><circle cx="383.4" cy="170.5" r="2.3"/><circle cx="402.2" cy="180.3" r="2.3"/><circle cx="371.1" cy="176.9" r="2.3"/><circle cx="384" cy="199.4" r="2.3"/><circle cx="403.6" cy="177.1" r="2.3"/><circle cx="382" cy="173.2" r="2.3"/><circle cx="417.1" cy="180.2" r="2.3"/><circle cx="406.7" cy="192.6" r="2.3"/><circle cx="379.6" cy="181.1" r="2.3"/><circle cx="379.8" cy="194.2" r="2.3"/><circle cx="391.7" cy="169.9" r="2.3"/><circle cx="384" cy="176.1" r="2.3"/><circle cx="396.3" cy="169.1" r="2.3"/><circle cx="379" cy="182.4" r="2.3"/><circle cx="393.2" cy="172.6" r="2.3"/><circle cx="403.1" cy="176.9" r="2.3"/><circle cx="404.3" cy="190.6" r="2.3"/><circle cx="369" cy="175" r="2.3"/><circle cx="377.1" cy="192.2" r="2.3"/><circle cx="384.7" cy="181.1" r="2.3"/><circle cx="412.8" cy="175.7" r="2.3"/><circle cx="377.8" cy="179.7" r="2.3"/><circle cx="394.5" cy="195.5" r="2.3"/><circle cx="419.5" cy="178.1" r="2.3"/><circle cx="400.9" cy="199.2" r="2.3"/><circle cx="373.2" cy="191.4" r="2.3"/><circle cx="400.7" cy="200.5" r="2.3"/><circle cx="413" cy="176" r="2.3"/><circle cx="398.6" cy="171.1" r="2.3"/><circle cx="386.1" cy="181.3" r="2.3"/><circle cx="363.7" cy="181" r="2.3"/><circle cx="380" cy="184.9" r="2.3"/><circle cx="377.1" cy="173.4" r="2.3"/><circle cx="384.5" cy="184.2" r="2.3"/><circle cx="370.2" cy="190.6" r="2.3"/><circle cx="374.6" cy="171.2" r="2.3"/><circle cx="380.9" cy="182.4" r="2.3"/><circle cx="369.2" cy="187.8" r="2.3"/><circle cx="402.8" cy="186.8" r="2.3"/><circle cx="383.9" cy="180.4" r="2.3"/><circle cx="363.8" cy="181.7" r="2.3"/><circle cx="363.3" cy="184.8" r="2.3"/><circle cx="395.7" cy="183.9" r="2.3"/><circle cx="379.9" cy="176.6" r="2.3"/><circle cx="361.4" cy="179.8" r="2.3"/><circle cx="414.4" cy="187.2" r="2.3"/><circle cx="376" cy="190.7" r="2.3"/><circle cx="371.3" cy="184" r="2.3"/><circle cx="397.5" cy="200.5" r="2.3"/><circle cx="382.1" cy="187.6" r="2.3"/><circle cx="398.3" cy="189.1" r="2.3"/><circle cx="385.1" cy="182.1" r="2.3"/><circle cx="376.8" cy="196.2" r="2.3"/><circle cx="413.7" cy="181" r="2.3"/><circle cx="368.3" cy="185.2" r="2.3"/><circle cx="378.8" cy="180.3" r="2.3"/><circle cx="371.7" cy="175.8" r="2.3"/><circle cx="401.5" cy="176" r="2.3"/><circle cx="384" cy="176.1" r="2.3"/><circle cx="390.1" cy="190.1" r="2.3"/><circle cx="393.4" cy="189.2" r="2.3"/><circle cx="394.2" cy="196.3" r="2.3"/><circle cx="419.1" cy="179.3" r="2.3"/><circle cx="381.1" cy="198.1" r="2.3"/><circle cx="379.1" cy="192.3" r="2.3"/><circle cx="402.4" cy="191.3" r="2.3"/><circle cx="369.7" cy="189.1" r="2.3"/><circle cx="389.9" cy="187.2" r="2.3"/><circle cx="382.5" cy="177.7" r="2.3"/><circle cx="405.7" cy="186.2" r="2.3"/><circle cx="374.5" cy="176.5" r="2.3"/><circle cx="379.8" cy="174" r="2.3"/><circle cx="391.3" cy="172.3" r="2.3"/><circle cx="366.2" cy="192" r="2.3"/><circle cx="366.9" cy="183.4" r="2.3"/><circle cx="407.1" cy="184.3" r="2.3"/><circle cx="375.5" cy="185.3" r="2.3"/><circle cx="408.6" cy="181.3" r="2.3"/><circle cx="403.7" cy="176.6" r="2.3"/><circle cx="403.7" cy="179.1" r="2.3"/><circle cx="380.4" cy="193.8" r="2.3"/><circle cx="411.4" cy="196.2" r="2.3"/><circle cx="394.6" cy="182.3" r="2.3"/><circle cx="403.1" cy="189.2" r="2.3"/><circle cx="410.7" cy="195.2" r="2.3"/><circle cx="367.6" cy="180.8" r="2.3"/><circle cx="400.8" cy="175.9" r="2.3"/><circle cx="395.7" cy="200" r="2.3"/><circle cx="401.9" cy="182.3" r="2.3"/><circle cx="398.5" cy="181.5" r="2.3"/><circle cx="377.4" cy="192.9" r="2.3"/><circle cx="393.1" cy="184.4" r="2.3"/><circle cx="382.8" cy="178.5" r="2.3"/><circle cx="408.8" cy="196.5" r="2.3"/><circle cx="377.3" cy="181.3" r="2.3"/><circle cx="397.7" cy="194" r="2.3"/><circle cx="419.8" cy="181.2" r="2.3"/><circle cx="402.3" cy="186.6" r="2.3"/><circle cx="408.8" cy="173" r="2.3"/><circle cx="416.9" cy="176.5" r="2.3"/><circle cx="389.8" cy="172.1" r="2.3"/><circle cx="394.5" cy="172.9" r="2.3"/><circle cx="398.1" cy="177.3" r="2.3"/><circle cx="373.9" cy="184.4" r="2.3"/><circle cx="382.3" cy="176.8" r="2.3"/><circle cx="414.5" cy="178.5" r="2.3"/><circle cx="389.5" cy="182.1" r="2.3"/><circle cx="409.2" cy="181.5" r="2.3"/><circle cx="363.5" cy="186.7" r="2.3"/><circle cx="400.1" cy="189.2" r="2.3"/><circle cx="387" cy="196.3" r="2.3"/><circle cx="404.2" cy="174" r="2.3"/><circle cx="381.9" cy="193.6" r="2.3"/><circle cx="378.9" cy="185.5" r="2.3"/><circle cx="392.2" cy="195.5" r="2.3"/><circle cx="408.3" cy="193" r="2.3"/><circle cx="384.4" cy="195.3" r="2.3"/><circle cx="410.5" cy="194.1" r="2.3"/><circle cx="418" cy="181.7" r="2.3"/><circle cx="403" cy="176.5" r="2.3"/><circle cx="395.2" cy="175.7" r="2.3"/><circle cx="383.7" cy="180.6" r="2.3"/><circle cx="400.1" cy="195.6" r="2.3"/><circle cx="382.2" cy="189.7" r="2.3"/><circle cx="381.6" cy="177.5" r="2.3"/><circle cx="415.2" cy="178.9" r="2.3"/><circle cx="365.7" cy="179.4" r="2.3"/><circle cx="405.2" cy="175.2" r="2.3"/><circle cx="405.3" cy="186.6" r="2.3"/><circle cx="401.5" cy="174" r="2.3"/><circle cx="381.4" cy="182.6" r="2.3"/><circle cx="384.6" cy="178.9" r="2.3"/><circle cx="392.8" cy="200.4" r="2.3"/><circle cx="379.6" cy="193.6" r="2.3"/><circle cx="386.2" cy="200.7" r="2.3"/><circle cx="373.4" cy="181.9" r="2.3"/><circle cx="403.1" cy="174" r="2.3"/><circle cx="376.7" cy="191" r="2.3"/><circle cx="417.8" cy="179" r="2.3"/><circle cx="371.2" cy="180.1" r="2.3"/><circle cx="398.7" cy="180.9" r="2.3"/><circle cx="399.3" cy="175.2" r="2.3"/><circle cx="397.6" cy="198.2" r="2.3"/><circle cx="412.2" cy="189.4" r="2.3"/><circle cx="390.8" cy="187.3" r="2.3"/><circle cx="402.1" cy="183.4" r="2.3"/><circle cx="400.6" cy="182.3" r="2.3"/><circle cx="383.5" cy="175.8" r="2.3"/><circle cx="396.6" cy="187.5" r="2.3"/><circle cx="391.4" cy="169.1" r="2.3"/><circle cx="398.3" cy="183.2" r="2.3"/><circle cx="396.2" cy="188.2" r="2.3"/><circle cx="388.6" cy="201.8" r="2.3"/><circle cx="405" cy="178.6" r="2.3"/><circle cx="384.5" cy="197.5" r="2.3"/><circle cx="390" cy="176" r="2.3"/><circle cx="411.3" cy="190.1" r="2.3"/><circle cx="408.7" cy="185.4" r="2.3"/><circle cx="413.1" cy="192.2" r="2.3"/><circle cx="375.3" cy="195.4" r="2.3"/><circle cx="387.7" cy="186.2" r="2.3"/><circle cx="412.8" cy="174.7" r="2.3"/><circle cx="377.1" cy="189.9" r="2.3"/><circle cx="364.5" cy="186.9" r="2.3"/><circle cx="408" cy="184.7" r="2.3"/><circle cx="374.8" cy="195.2" r="2.3"/><circle cx="412.2" cy="194.2" r="2.3"/><circle cx="393.5" cy="198.8" r="2.3"/><circle cx="408.6" cy="173.2" r="2.3"/><circle cx="382.3" cy="171.4" r="2.3"/><circle cx="362.2" cy="179.8" r="2.3"/><circle cx="367.2" cy="174.2" r="2.3"/><circle cx="383.7" cy="196.9" r="2.3"/><circle cx="397.6" cy="198.7" r="2.3"/><circle cx="372.6" cy="189.4" r="2.3"/><circle cx="413.5" cy="192.7" r="2.3"/><circle cx="372" cy="190.7" r="2.3"/><circle cx="386.3" cy="168.5" r="2.3"/><circle cx="380.7" cy="178.7" r="2.3"/><circle cx="380.7" cy="180.4" r="2.3"/><circle cx="368" cy="177.3" r="2.3"/><circle cx="395" cy="188.5" r="2.3"/><circle cx="384" cy="177.3" r="2.3"/><circle cx="397.4" cy="187.8" r="2.3"/><circle cx="415.4" cy="182.7" r="2.3"/><circle cx="383" cy="188.2" r="2.3"/><circle cx="420.1" cy="186.1" r="2.3"/><circle cx="389.8" cy="178.3" r="2.3"/><circle cx="383.5" cy="191.3" r="2.3"/><circle cx="406.9" cy="193.7" r="2.3"/><circle cx="359.4" cy="189.3" r="2.3"/><circle cx="373.2" cy="188.3" r="2.3"/><circle cx="345.8" cy="182.1" r="2.3"/><circle cx="373.7" cy="193.1" r="2.3"/><circle cx="392.9" cy="194.3" r="2.3"/><circle cx="381.9" cy="198.4" r="2.3"/><circle cx="381.9" cy="197.9" r="2.3"/><circle cx="382.1" cy="177.6" r="2.3"/><circle cx="408.3" cy="183.1" r="2.3"/><circle cx="390.4" cy="175.5" r="2.3"/><circle cx="384.4" cy="185.5" r="2.3"/><circle cx="377.4" cy="187.1" r="2.3"/><circle cx="346.7" cy="189.1" r="2.3"/><circle cx="382.7" cy="195" r="2.3"/><circle cx="384.5" cy="180" r="2.3"/><circle cx="382.3" cy="186.5" r="2.3"/><circle cx="402.6" cy="182.3" r="2.3"/><circle cx="375.6" cy="187.3" r="2.3"/><circle cx="407.5" cy="173.5" r="2.3"/><circle cx="371.2" cy="179.3" r="2.3"/><circle cx="423.3" cy="195.4" r="2.3"/><circle cx="406.2" cy="189.3" r="2.3"/><circle cx="369.2" cy="191.9" r="2.3"/><circle cx="382.8" cy="179" r="2.3"/><circle cx="428.7" cy="176.6" r="2.3"/><circle cx="417.5" cy="187.8" r="2.3"/><circle cx="373.3" cy="185.4" r="2.3"/><circle cx="374.8" cy="185.5" r="2.3"/><circle cx="379.1" cy="176" r="2.3"/><circle cx="442.2" cy="184" r="2.3"/><circle cx="410" cy="185.6" r="2.3"/><circle cx="404.5" cy="176.7" r="2.3"/><circle cx="372.2" cy="160.8" r="2.3"/><circle cx="410.2" cy="189.1" r="2.3"/><circle cx="368.1" cy="189.8" r="2.3"/><circle cx="401.4" cy="206.3" r="2.3"/><circle cx="395.3" cy="191.7" r="2.3"/><circle cx="402.6" cy="191.1" r="2.3"/><circle cx="390.7" cy="182.1" r="2.3"/><circle cx="404.3" cy="194.5" r="2.3"/><circle cx="369" cy="175.8" r="2.3"/><circle cx="389.6" cy="197.7" r="2.3"/><circle cx="387.7" cy="172.8" r="2.3"/><circle cx="406.3" cy="191.2" r="2.3"/><circle cx="428.4" cy="188.2" r="2.3"/><circle cx="429.2" cy="181.8" r="2.3"/><circle cx="408.4" cy="186.9" r="2.3"/><circle cx="368.3" cy="181.9" r="2.3"/><circle cx="416.2" cy="194.2" r="2.3"/><circle cx="383.4" cy="192.5" r="2.3"/><circle cx="408.1" cy="192.3" r="2.3"/><circle cx="396.5" cy="187.5" r="2.3"/><circle cx="375.2" cy="183.8" r="2.3"/><circle cx="393.7" cy="179.9" r="2.3"/><circle cx="385.5" cy="185.9" r="2.3"/><circle cx="394.8" cy="192.7" r="2.3"/><circle cx="371.5" cy="181.2" r="2.3"/><circle cx="396.4" cy="182.6" r="2.3"/><circle cx="397.6" cy="182" r="2.3"/><circle cx="413.8" cy="184.6" r="2.3"/><circle cx="369" cy="189.2" r="2.3"/><circle cx="423.7" cy="173" r="2.3"/><circle cx="388.6" cy="185.4" r="2.3"/><circle cx="410.4" cy="196.6" r="2.3"/><circle cx="388.6" cy="173.9" r="2.3"/><circle cx="403.6" cy="192.8" r="2.3"/><circle cx="400" cy="186.1" r="2.3"/><circle cx="374.6" cy="201.5" r="2.3"/><circle cx="368.6" cy="173.2" r="2.3"/><circle cx="409.8" cy="188" r="2.3"/><circle cx="403.9" cy="188.2" r="2.3"/><circle cx="423" cy="196.7" r="2.3"/><circle cx="380.2" cy="191.6" r="2.3"/><circle cx="369.1" cy="171.9" r="2.3"/><circle cx="414.4" cy="183.2" r="2.3"/><circle cx="349.9" cy="182.9" r="2.3"/><circle cx="378.2" cy="188" r="2.3"/><circle cx="390.3" cy="179.6" r="2.3"/><circle cx="377.2" cy="189.8" r="2.3"/><circle cx="373.3" cy="185.1" r="2.3"/><circle cx="372" cy="187.3" r="2.3"/><circle cx="425.1" cy="190.8" r="2.3"/><circle cx="412.4" cy="189.3" r="2.3"/><circle cx="372.8" cy="182" r="2.3"/><circle cx="392.3" cy="188.2" r="2.3"/><circle cx="379.3" cy="188.8" r="2.3"/><circle cx="377.3" cy="184.8" r="2.3"/><circle cx="391.3" cy="176.9" r="2.3"/><circle cx="410.3" cy="186.4" r="2.3"/><circle cx="393.2" cy="184.9" r="2.3"/><circle cx="351.3" cy="173.1" r="2.3"/><circle cx="373.6" cy="191.2" r="2.3"/><circle cx="379.9" cy="188.8" r="2.3"/><circle cx="371.7" cy="178.1" r="2.3"/><circle cx="381.8" cy="192.1" r="2.3"/><circle cx="359.5" cy="182.2" r="2.3"/><circle cx="398.9" cy="186.4" r="2.3"/><circle cx="390.5" cy="190.5" r="2.3"/><circle cx="397" cy="178.2" r="2.3"/><circle cx="403.6" cy="180.2" r="2.3"/><circle cx="384.1" cy="195" r="2.3"/><circle cx="437.4" cy="197.6" r="2.3"/><circle cx="399.6" cy="180" r="2.3"/><circle cx="376" cy="196.1" r="2.3"/><circle cx="398" cy="175.6" r="2.3"/><circle cx="421" cy="190.7" r="2.3"/><circle cx="416.2" cy="189.2" r="2.3"/><circle cx="350.1" cy="177.8" r="2.3"/><circle cx="388.5" cy="183.7" r="2.3"/><circle cx="420.3" cy="181.8" r="2.3"/><circle cx="389.3" cy="184.6" r="2.3"/><circle cx="389.7" cy="177.7" r="2.3"/><circle cx="368.6" cy="165.7" r="2.3"/><circle cx="397.6" cy="183.9" r="2.3"/><circle cx="395.4" cy="177.8" r="2.3"/><circle cx="391.5" cy="178.2" r="2.3"/><circle cx="371.6" cy="186.5" r="2.3"/><circle cx="403.1" cy="189.8" r="2.3"/><circle cx="390.4" cy="182.3" r="2.3"/><circle cx="417.4" cy="195.2" r="2.3"/><circle cx="379.4" cy="176.8" r="2.3"/><circle cx="398.1" cy="187.7" r="2.3"/><circle cx="372.9" cy="200.3" r="2.3"/><circle cx="351.4" cy="177.2" r="2.3"/><circle cx="395.4" cy="192.3" r="2.3"/><circle cx="355.8" cy="180.2" r="2.3"/><circle cx="418.1" cy="196.3" r="2.3"/><circle cx="386.3" cy="185.1" r="2.3"/><circle cx="374" cy="187" r="2.3"/><circle cx="371.8" cy="169.7" r="2.3"/><circle cx="362" cy="184" r="2.3"/><circle cx="365.5" cy="191.6" r="2.3"/><circle cx="415.3" cy="193.3" r="2.3"/><circle cx="403.2" cy="193.7" r="2.3"/><circle cx="395.9" cy="191.4" r="2.3"/><circle cx="399.8" cy="191" r="2.3"/><circle cx="371.9" cy="179.4" r="2.3"/><circle cx="371.7" cy="189.9" r="2.3"/><circle cx="401.1" cy="180" r="2.3"/><circle cx="372.4" cy="180" r="2.3"/><circle cx="407.8" cy="185.1" r="2.3"/><circle cx="386.8" cy="180" r="2.3"/><circle cx="388.3" cy="196.2" r="2.3"/><circle cx="378.1" cy="181.9" r="2.3"/><circle cx="423.3" cy="191.8" r="2.3"/><circle cx="369" cy="191.6" r="2.3"/><circle cx="366.8" cy="187.8" r="2.3"/><circle cx="343.2" cy="175.6" r="2.3"/><circle cx="408.9" cy="181.7" r="2.3"/><circle cx="377.3" cy="184.7" r="2.3"/><circle cx="391.3" cy="181.8" r="2.3"/><circle cx="377.6" cy="197.1" r="2.3"/><circle cx="419.6" cy="188.8" r="2.3"/><circle cx="369.3" cy="180.2" r="2.3"/><circle cx="385.4" cy="188.2" r="2.3"/><circle cx="421.9" cy="182.9" r="2.3"/><circle cx="394.1" cy="182.2" r="2.3"/><circle cx="394.1" cy="180.3" r="2.3"/><circle cx="397.9" cy="193.6" r="2.3"/><circle cx="383.5" cy="181.8" r="2.3"/><circle cx="390.2" cy="176.9" r="2.3"/><circle cx="410.6" cy="178.9" r="2.3"/><circle cx="384.3" cy="178.7" r="2.3"/><circle cx="406.4" cy="183.2" r="2.3"/><circle cx="381" cy="193.8" r="2.3"/><circle cx="387.1" cy="179.6" r="2.3"/><circle cx="387.9" cy="185.1" r="2.3"/><circle cx="379.2" cy="182.1" r="2.3"/><circle cx="385.2" cy="187.8" r="2.3"/><circle cx="396.9" cy="189.6" r="2.3"/><circle cx="386.2" cy="188.3" r="2.3"/><circle cx="384.9" cy="190.2" r="2.3"/><circle cx="393.2" cy="182.2" r="2.3"/><circle cx="403.7" cy="177.2" r="2.3"/><circle cx="376.9" cy="178.5" r="2.3"/><circle cx="387.2" cy="177.1" r="2.3"/><circle cx="374.7" cy="172.2" r="2.3"/><circle cx="389.9" cy="180" r="2.3"/><circle cx="414" cy="191" r="2.3"/><circle cx="373.6" cy="189.9" r="2.3"/><circle cx="388.8" cy="190.1" r="2.3"/><circle cx="374.1" cy="189.1" r="2.3"/><circle cx="401.5" cy="183.1" r="2.3"/><circle cx="378.1" cy="180.9" r="2.3"/><circle cx="389.9" cy="197.6" r="2.3"/><circle cx="409" cy="194.5" r="2.3"/><circle cx="385.6" cy="182" r="2.3"/><circle cx="392.7" cy="183" r="2.3"/><circle cx="382.6" cy="182.3" r="2.3"/><circle cx="398.3" cy="184.7" r="2.3"/><circle cx="391.1" cy="182.9" r="2.3"/><circle cx="385.9" cy="182" r="2.3"/><circle cx="403.1" cy="186.9" r="2.3"/><circle cx="406.1" cy="184.9" r="2.3"/><circle cx="401.6" cy="177.7" r="2.3"/><circle cx="383.3" cy="183.2" r="2.3"/><circle cx="380.5" cy="182.7" r="2.3"/><circle cx="377.1" cy="182" r="2.3"/><circle cx="380.1" cy="183.2" r="2.3"/><circle cx="450.8" cy="172.5" r="2.3"/><circle cx="435" cy="151.8" r="2.3"/><circle cx="435.1" cy="181" r="2.3"/><circle cx="470" cy="181.2" r="2.3"/><circle cx="409.7" cy="165.3" r="2.3"/><circle cx="424.2" cy="189.8" r="2.3"/><circle cx="442.5" cy="188.8" r="2.3"/><circle cx="444.1" cy="184.4" r="2.3"/><circle cx="437.4" cy="205.5" r="2.3"/><circle cx="402.3" cy="153.8" r="2.3"/><circle cx="459.7" cy="189" r="2.3"/><circle cx="437.4" cy="182.4" r="2.3"/><circle cx="454.5" cy="196.3" r="2.3"/><circle cx="460" cy="171.9" r="2.3"/><circle cx="424.2" cy="168.2" r="2.3"/><circle cx="418.9" cy="182.7" r="2.3"/><circle cx="437.9" cy="167.5" r="2.3"/><circle cx="448.6" cy="174.7" r="2.3"/><circle cx="412.7" cy="156.1" r="2.3"/><circle cx="418.2" cy="176.2" r="2.3"/><circle cx="456.4" cy="167.3" r="2.3"/><circle cx="418.7" cy="178.9" r="2.3"/><circle cx="413.3" cy="161.2" r="2.3"/><circle cx="421.7" cy="167.1" r="2.3"/><circle cx="452.3" cy="188.1" r="2.3"/><circle cx="456.9" cy="179.9" r="2.3"/><circle cx="417.6" cy="160.3" r="2.3"/><circle cx="429.8" cy="207.4" r="2.3"/><circle cx="426.7" cy="168.7" r="2.3"/><circle cx="427.9" cy="155.3" r="2.3"/><circle cx="456.9" cy="194.7" r="2.3"/><circle cx="424.3" cy="195.2" r="2.3"/><circle cx="427.3" cy="164.5" r="2.3"/><circle cx="442.7" cy="192.2" r="2.3"/><circle cx="434.3" cy="196.9" r="2.3"/><circle cx="427.4" cy="151" r="2.3"/><circle cx="463.5" cy="191.3" r="2.3"/><circle cx="468.3" cy="174.7" r="2.3"/><circle cx="426.8" cy="154.3" r="2.3"/><circle cx="405.2" cy="158.3" r="2.3"/><circle cx="425" cy="150" r="2.3"/><circle cx="422.1" cy="158.2" r="2.3"/><circle cx="438.9" cy="181.6" r="2.3"/><circle cx="454.9" cy="179.1" r="2.3"/><circle cx="416.1" cy="151.7" r="2.3"/><circle cx="422.3" cy="193.4" r="2.3"/><circle cx="466.5" cy="177.7" r="2.3"/><circle cx="411.5" cy="167.2" r="2.3"/><circle cx="440.9" cy="165" r="2.3"/><circle cx="433.1" cy="183.8" r="2.3"/><circle cx="460.9" cy="175.4" r="2.3"/><circle cx="454.9" cy="171.4" r="2.3"/><circle cx="403.7" cy="156.9" r="2.3"/><circle cx="415.2" cy="148.2" r="2.3"/><circle cx="435.9" cy="186.8" r="2.3"/><circle cx="433.5" cy="158.1" r="2.3"/><circle cx="444.6" cy="169.5" r="2.3"/><circle cx="434.1" cy="185.1" r="2.3"/><circle cx="422.8" cy="168.8" r="2.3"/><circle cx="463.6" cy="182.4" r="2.3"/><circle cx="430" cy="179.9" r="2.3"/><circle cx="433.1" cy="167.3" r="2.3"/><circle cx="420.8" cy="157.4" r="2.3"/><circle cx="452.1" cy="161.3" r="2.3"/><circle cx="442" cy="156.6" r="2.3"/><circle cx="425" cy="181.1" r="2.3"/><circle cx="435.8" cy="203.3" r="2.3"/><circle cx="437" cy="170.1" r="2.3"/><circle cx="419.4" cy="182" r="2.3"/><circle cx="445.5" cy="175.2" r="2.3"/><circle cx="434.7" cy="186.1" r="2.3"/><circle cx="431.9" cy="152.2" r="2.3"/><circle cx="457.6" cy="161.3" r="2.3"/><circle cx="459.7" cy="195.7" r="2.3"/><circle cx="436.3" cy="173" r="2.3"/><circle cx="440" cy="204.7" r="2.3"/><circle cx="435.3" cy="176.4" r="2.3"/><circle cx="420.9" cy="198.3" r="2.3"/><circle cx="436.2" cy="167.9" r="2.3"/><circle cx="414.1" cy="160.1" r="2.3"/><circle cx="460.1" cy="196" r="2.3"/><circle cx="449.3" cy="195.6" r="2.3"/><circle cx="451.2" cy="196.4" r="2.3"/><circle cx="458.7" cy="165.5" r="2.3"/><circle cx="424.7" cy="195.3" r="2.3"/><circle cx="444" cy="202.6" r="2.3"/><circle cx="467.1" cy="186.3" r="2.3"/><circle cx="462.7" cy="165.9" r="2.3"/><circle cx="444.8" cy="154.6" r="2.3"/><circle cx="462.5" cy="193.9" r="2.3"/><circle cx="456.5" cy="200.3" r="2.3"/><circle cx="441" cy="204.5" r="2.3"/><circle cx="446" cy="177" r="2.3"/><circle cx="427.7" cy="168.6" r="2.3"/><circle cx="457.3" cy="161" r="2.3"/><circle cx="447.1" cy="194.3" r="2.3"/><circle cx="450" cy="178.5" r="2.3"/><circle cx="422.7" cy="163.6" r="2.3"/><circle cx="468.5" cy="184.8" r="2.3"/><circle cx="424" cy="164" r="2.3"/><circle cx="437.6" cy="176.8" r="2.3"/><circle cx="438.6" cy="175.9" r="2.3"/><circle cx="453.6" cy="162.2" r="2.3"/><circle cx="417.4" cy="167" r="2.3"/><circle cx="405" cy="150.2" r="2.3"/><circle cx="425.6" cy="179.1" r="2.3"/><circle cx="468.3" cy="186" r="2.3"/><circle cx="429.8" cy="171.8" r="2.3"/><circle cx="416.9" cy="175.9" r="2.3"/><circle cx="431.2" cy="188.8" r="2.3"/><circle cx="454.9" cy="180.9" r="2.3"/><circle cx="446.2" cy="204.2" r="2.3"/><circle cx="438" cy="158.6" r="2.3"/><circle cx="419.6" cy="190.9" r="2.3"/><circle cx="452.3" cy="166.5" r="2.3"/><circle cx="455.2" cy="186.5" r="2.3"/><circle cx="450.8" cy="174.9" r="2.3"/><circle cx="431.1" cy="153.5" r="2.3"/><circle cx="434.2" cy="205.2" r="2.3"/><circle cx="405.1" cy="163.4" r="2.3"/><circle cx="450" cy="173.7" r="2.3"/><circle cx="441.3" cy="192.4" r="2.3"/><circle cx="429" cy="186.6" r="2.3"/><circle cx="449.1" cy="184.6" r="2.3"/><circle cx="409.3" cy="150.3" r="2.3"/><circle cx="433.7" cy="153.4" r="2.3"/><circle cx="435" cy="182.9" r="2.3"/><circle cx="408.6" cy="165.6" r="2.3"/><circle cx="436.6" cy="172" r="2.3"/><circle cx="428.7" cy="201.1" r="2.3"/><circle cx="451" cy="174.4" r="2.3"/><circle cx="426.3" cy="173.6" r="2.3"/><circle cx="432.6" cy="166.2" r="2.3"/><circle cx="444.9" cy="172.1" r="2.3"/><circle cx="421.9" cy="194.1" r="2.3"/><circle cx="432.8" cy="175.9" r="2.3"/><circle cx="463.3" cy="174.7" r="2.3"/><circle cx="427.1" cy="201.8" r="2.3"/><circle cx="428.9" cy="187.9" r="2.3"/><circle cx="453.3" cy="165.1" r="2.3"/><circle cx="447.2" cy="187.8" r="2.3"/><circle cx="431.3" cy="186.9" r="2.3"/><circle cx="424.6" cy="190.4" r="2.3"/><circle cx="455.2" cy="162.8" r="2.3"/><circle cx="444.2" cy="160.5" r="2.3"/><circle cx="459.1" cy="198.1" r="2.3"/><circle cx="428.2" cy="183" r="2.3"/><circle cx="451.3" cy="193.5" r="2.3"/><circle cx="453.8" cy="182.3" r="2.3"/><circle cx="440.4" cy="180.2" r="2.3"/><circle cx="456.2" cy="166.8" r="2.3"/><circle cx="419.8" cy="181.6" r="2.3"/><circle cx="438" cy="177.2" r="2.3"/><circle cx="464.3" cy="187.5" r="2.3"/><circle cx="420.8" cy="196.2" r="2.3"/><circle cx="430.2" cy="155.9" r="2.3"/><circle cx="443.6" cy="175.1" r="2.3"/><circle cx="441" cy="205.2" r="2.3"/><circle cx="425.4" cy="193.3" r="2.3"/><circle cx="405.4" cy="165.3" r="2.3"/><circle cx="449.8" cy="189.1" r="2.3"/><circle cx="459.6" cy="170.2" r="2.3"/><circle cx="419.7" cy="168.9" r="2.3"/><circle cx="427" cy="187.1" r="2.3"/><circle cx="410.7" cy="166" r="2.3"/><circle cx="418" cy="157.9" r="2.3"/><circle cx="408.5" cy="152.2" r="2.3"/><circle cx="457.2" cy="192.1" r="2.3"/><circle cx="419" cy="176.8" r="2.3"/><circle cx="459" cy="199.4" r="2.3"/><circle cx="450.3" cy="167.6" r="2.3"/><circle cx="434.1" cy="166.1" r="2.3"/><circle cx="431.8" cy="196.6" r="2.3"/><circle cx="441" cy="184.2" r="2.3"/><circle cx="424.6" cy="173.8" r="2.3"/><circle cx="431" cy="197.5" r="2.3"/><circle cx="465.9" cy="188.3" r="2.3"/><circle cx="412.3" cy="168.7" r="2.3"/><circle cx="450.9" cy="160.2" r="2.3"/><circle cx="416.3" cy="169.2" r="2.3"/><circle cx="439.1" cy="182.6" r="2.3"/><circle cx="406.9" cy="149.7" r="2.3"/><circle cx="443.2" cy="199.6" r="2.3"/><circle cx="404.5" cy="153.2" r="2.3"/><circle cx="412.7" cy="163.6" r="2.3"/><circle cx="448" cy="189.4" r="2.3"/><circle cx="423.2" cy="175.5" r="2.3"/><circle cx="420.8" cy="181.2" r="2.3"/><circle cx="425.6" cy="169" r="2.3"/><circle cx="417.9" cy="164.8" r="2.3"/><circle cx="551.2" cy="57" r="2.3"/><circle cx="544.7" cy="60.7" r="2.3"/><circle cx="558.3" cy="65.3" r="2.3"/><circle cx="550.4" cy="68.5" r="2.3"/><circle cx="531.4" cy="73.3" r="2.3"/><circle cx="534.9" cy="72.2" r="2.3"/><circle cx="538" cy="76.4" r="2.3"/><circle cx="524.5" cy="78.5" r="2.3"/><circle cx="533.9" cy="80.2" r="2.3"/><circle cx="541.2" cy="80.2" r="2.3"/><circle cx="555.8" cy="80.2" r="2.3"/><circle cx="537.6" cy="83.2" r="2.3"/><circle cx="550" cy="88.2" r="2.3"/><circle cx="508.8" cy="85.7" r="2.3"/><circle cx="522" cy="100.3" r="2.3"/><circle cx="505" cy="104" r="2.3"/><circle cx="502.5" cy="108.6" r="2.3"/><circle cx="505" cy="109.7" r="2.3"/><circle cx="492.5" cy="113.4" r="2.3"/><circle cx="497.9" cy="112.8" r="2.3"/><circle cx="501.5" cy="115.5" r="2.3"/><circle cx="479.3" cy="116.3" r="2.3"/><circle cx="470.8" cy="124.1" r="2.3"/><circle cx="473.3" cy="131.3" r="2.3"/><circle cx="455.1" cy="132.6" r="2.3"/><circle cx="459.8" cy="139.8" r="2.3"/><circle cx="463" cy="141.4" r="2.3"/><circle cx="470.8" cy="142.3" r="2.3"/><circle cx="473.9" cy="148.3" r="2.3"/><circle cx="469.2" cy="153.9" r="2.3"/><circle cx="464.5" cy="157.7" r="2.3"/><circle cx="467.7" cy="158.7" r="2.3"/><circle cx="453.5" cy="149.2" r="2.3"/><circle cx="456.7" cy="152.4" r="2.3"/><circle cx="448.8" cy="147.7" r="2.3"/><circle cx="436.3" cy="144.5" r="2.3"/><circle cx="439.4" cy="147.7" r="2.3"/><circle cx="441.9" cy="143" r="2.3"/><circle cx="433.1" cy="150.8" r="2.3"/><circle cx="444.1" cy="153.9" r="2.3"/><circle cx="522.6" cy="164" r="2.3"/><circle cx="485.9" cy="175.3" r="2.3"/><circle cx="489.6" cy="175.3" r="2.3"/><circle cx="500.6" cy="175.3" r="2.3"/><circle cx="512.2" cy="176.9" r="2.3"/><circle cx="527.9" cy="175.3" r="2.3"/><circle cx="524.2" cy="178.4" r="2.3"/><circle cx="502.8" cy="182.2" r="2.3"/><circle cx="514.1" cy="182.8" r="2.3"/><circle cx="505.3" cy="187.8" r="2.3"/><circle cx="499" cy="191.6" r="2.3"/><circle cx="516.3" cy="190" r="2.3"/><circle cx="518.5" cy="192.2" r="2.3"/><circle cx="488.1" cy="192.2" r="2.3"/><circle cx="481.8" cy="191" r="2.3"/><circle cx="516.3" cy="197.3" r="2.3"/><circle cx="490.3" cy="197.9" r="2.3"/><circle cx="461.8" cy="192" r="2.3"/><circle cx="452.9" cy="198.9" r="2.3"/><circle cx="447.8" cy="201.5" r="2.3"/><circle cx="445.3" cy="192.5" r="2.3"/><circle cx="432.5" cy="196.4" r="2.3"/><circle cx="435.1" cy="206.5" r="2.3"/><circle cx="437.6" cy="207.8" r="2.3"/><circle cx="432.5" cy="210.4" r="2.3"/><circle cx="445.3" cy="207.8" r="2.3"/><circle cx="468.2" cy="207.3" r="2.3"/><circle cx="482.9" cy="206.5" r="2.3"/><circle cx="506.4" cy="209.9" r="2.3"/><circle cx="459.3" cy="216" r="2.3"/><circle cx="472" cy="215.5" r="2.3"/><circle cx="465.6" cy="219.3" r="2.3"/><circle cx="461.8" cy="222.6" r="2.3"/><circle cx="445.3" cy="219.3" r="2.3"/><circle cx="488.5" cy="219.3" r="2.3"/><circle cx="503.3" cy="220" r="2.3"/><circle cx="476.6" cy="227.4" r="2.3"/><circle cx="502.5" cy="242.9" r="2.3"/><circle cx="500" cy="251.6" r="2.3"/><circle cx="461.8" cy="119.9" r="2.3"/><circle cx="458.3" cy="131.7" r="2.3"/><circle cx="354.8" cy="175.3" r="2.3"/><circle cx="354.2" cy="181.1" r="2.3"/><circle cx="358.6" cy="184.9" r="2.3"/><circle cx="362.5" cy="179.2" r="2.3"/><circle cx="362.5" cy="175.3" r="2.3"/><circle cx="373" cy="169.6" r="2.3"/><circle cx="380.7" cy="167.7" r="2.3"/><circle cx="386.4" cy="164.8" r="2.3"/><circle cx="396" cy="162.9" r="2.3"/><circle cx="403.7" cy="165.8" r="2.3"/><circle cx="411.4" cy="166.7" r="2.3"/><circle cx="419" cy="170.5" r="2.3"/><circle cx="369.2" cy="197.4" r="2.3"/><circle cx="374.9" cy="200.3" r="2.3"/><circle cx="388.4" cy="205.1" r="2.3"/><circle cx="401.8" cy="203.2" r="2.3"/><circle cx="411.4" cy="201.2" r="2.3"/><circle cx="418.1" cy="196.4" r="2.3"/><circle cx="421.9" cy="203.2" r="2.3"/><circle cx="427" cy="207.3" r="2.3"/></g><g class="bl"><circle cx="349" cy="153.2" r="2.3"/><circle cx="379.2" cy="133" r="2.3"/><circle cx="346" cy="150.4" r="2.3"/><circle cx="376.6" cy="148.8" r="2.3"/><circle cx="343.9" cy="140" r="2.3"/><circle cx="378" cy="142.6" r="2.3"/><circle cx="391.9" cy="141.7" r="2.3"/><circle cx="363.6" cy="141.4" r="2.3"/><circle cx="403.3" cy="125.5" r="2.3"/><circle cx="350.7" cy="138.7" r="2.3"/><circle cx="367.9" cy="143.6" r="2.3"/><circle cx="360.7" cy="144.6" r="2.3"/><circle cx="372.2" cy="146.8" r="2.3"/><circle cx="383" cy="138.1" r="2.3"/><circle cx="341.6" cy="159.2" r="2.3"/><circle cx="344.4" cy="150.1" r="2.3"/><circle cx="344.1" cy="151.8" r="2.3"/><circle cx="355.1" cy="149.3" r="2.3"/><circle cx="414.9" cy="123" r="2.3"/><circle cx="374.3" cy="127.6" r="2.3"/><circle cx="363.8" cy="149.9" r="2.3"/><circle cx="365.8" cy="146.5" r="2.3"/><circle cx="364.4" cy="134.4" r="2.3"/><circle cx="371.8" cy="133.2" r="2.3"/><circle cx="392.2" cy="127.9" r="2.3"/><circle cx="376.2" cy="138.9" r="2.3"/><circle cx="378.3" cy="132.6" r="2.3"/><circle cx="380.5" cy="136.1" r="2.3"/><circle cx="386.7" cy="140.4" r="2.3"/><circle cx="365.6" cy="136" r="2.3"/><circle cx="378.9" cy="142.1" r="2.3"/><circle cx="389.2" cy="130.3" r="2.3"/><circle cx="375.8" cy="143.7" r="2.3"/><circle cx="370.9" cy="143" r="2.3"/><circle cx="366.8" cy="137.2" r="2.3"/><circle cx="349.7" cy="145.9" r="2.3"/><circle cx="379.5" cy="151.4" r="2.3"/><circle cx="383.8" cy="145.5" r="2.3"/><circle cx="379.8" cy="143.9" r="2.3"/><circle cx="371.2" cy="148" r="2.3"/><circle cx="391.3" cy="129.9" r="2.3"/><circle cx="361.9" cy="162.6" r="2.3"/><circle cx="372.7" cy="149.2" r="2.3"/><circle cx="375.4" cy="128.8" r="2.3"/><circle cx="407.8" cy="142.6" r="2.3"/><circle cx="371" cy="147.9" r="2.3"/><circle cx="365.1" cy="135.3" r="2.3"/><circle cx="365.5" cy="146.6" r="2.3"/><circle cx="384.8" cy="142" r="2.3"/><circle cx="371.2" cy="153.3" r="2.3"/><circle cx="357.2" cy="153.8" r="2.3"/><circle cx="381.6" cy="134.1" r="2.3"/><circle cx="336.5" cy="146.5" r="2.3"/><circle cx="371.2" cy="145.8" r="2.3"/><circle cx="385.8" cy="125.9" r="2.3"/><circle cx="368.1" cy="148.1" r="2.3"/><circle cx="356.2" cy="125.2" r="2.3"/><circle cx="385.3" cy="156.5" r="2.3"/><circle cx="378" cy="129.8" r="2.3"/><circle cx="360.6" cy="147.2" r="2.3"/><circle cx="404.9" cy="133.1" r="2.3"/><circle cx="372.6" cy="154.6" r="2.3"/><circle cx="370.7" cy="158.2" r="2.3"/><circle cx="354.3" cy="143.3" r="2.3"/><circle cx="381.2" cy="150" r="2.3"/><circle cx="376.7" cy="141.5" r="2.3"/><circle cx="336.7" cy="148.2" r="2.3"/><circle cx="355.2" cy="142.4" r="2.3"/><circle cx="373.7" cy="136.9" r="2.3"/><circle cx="378" cy="139" r="2.3"/><circle cx="361.4" cy="145.9" r="2.3"/><circle cx="375.1" cy="147.2" r="2.3"/><circle cx="358.2" cy="144" r="2.3"/><circle cx="350.8" cy="163.8" r="2.3"/><circle cx="387" cy="133" r="2.3"/><circle cx="355" cy="136.1" r="2.3"/><circle cx="369.2" cy="143.6" r="2.3"/><circle cx="399.2" cy="132" r="2.3"/><circle cx="346.7" cy="128.3" r="2.3"/><circle cx="387.5" cy="136.1" r="2.3"/><circle cx="342.7" cy="154" r="2.3"/><circle cx="353.1" cy="180" r="2.3"/><circle cx="384.4" cy="140.9" r="2.3"/><circle cx="356.7" cy="127.1" r="2.3"/><circle cx="359.2" cy="131.5" r="2.3"/><circle cx="368.1" cy="122.6" r="2.3"/><circle cx="356.4" cy="158" r="2.3"/><circle cx="386.7" cy="123.9" r="2.3"/><circle cx="346" cy="159" r="2.3"/><circle cx="375.6" cy="130.1" r="2.3"/><circle cx="353.5" cy="141.6" r="2.3"/><circle cx="346.2" cy="144.7" r="2.3"/><circle cx="386.8" cy="141" r="2.3"/><circle cx="396.3" cy="130.1" r="2.3"/><circle cx="360.9" cy="136" r="2.3"/><circle cx="360" cy="133.4" r="2.3"/><circle cx="341.8" cy="159.1" r="2.3"/><circle cx="390" cy="141.1" r="2.3"/><circle cx="386.6" cy="137.1" r="2.3"/><circle cx="355.6" cy="147.9" r="2.3"/><circle cx="356.9" cy="136.4" r="2.3"/><circle cx="336.2" cy="141.3" r="2.3"/><circle cx="366.4" cy="144.2" r="2.3"/><circle cx="363.5" cy="157.1" r="2.3"/><circle cx="370.5" cy="146.5" r="2.3"/><circle cx="381.5" cy="129.3" r="2.3"/><circle cx="339.1" cy="160.6" r="2.3"/><circle cx="359.9" cy="157.4" r="2.3"/><circle cx="374.2" cy="148.9" r="2.3"/><circle cx="370.8" cy="122" r="2.3"/><circle cx="374.6" cy="133.4" r="2.3"/><circle cx="353.4" cy="144.1" r="2.3"/><circle cx="380.2" cy="145.4" r="2.3"/><circle cx="375.8" cy="123.9" r="2.3"/><circle cx="349.7" cy="127.8" r="2.3"/><circle cx="366.4" cy="148.3" r="2.3"/><circle cx="355.4" cy="149.5" r="2.3"/><circle cx="372.6" cy="149.6" r="2.3"/><circle cx="351.2" cy="141.3" r="2.3"/><circle cx="360.2" cy="161.4" r="2.3"/><circle cx="381.8" cy="135.6" r="2.3"/><circle cx="369.7" cy="142.6" r="2.3"/><circle cx="368.4" cy="140.1" r="2.3"/><circle cx="357.1" cy="135.1" r="2.3"/><circle cx="361.7" cy="159.8" r="2.3"/><circle cx="374.2" cy="140.3" r="2.3"/><circle cx="363" cy="144.8" r="2.3"/><circle cx="369.2" cy="135.8" r="2.3"/><circle cx="369.7" cy="143.7" r="2.3"/><circle cx="352.4" cy="141.2" r="2.3"/><circle cx="347.8" cy="140.5" r="2.3"/><circle cx="371.8" cy="119.1" r="2.3"/><circle cx="360.1" cy="139.8" r="2.3"/><circle cx="357.1" cy="147.4" r="2.3"/><circle cx="383" cy="136.9" r="2.3"/><circle cx="362" cy="139" r="2.3"/><circle cx="367" cy="151" r="2.3"/><circle cx="356.5" cy="136.3" r="2.3"/><circle cx="343.7" cy="141.8" r="2.3"/><circle cx="348.8" cy="159.9" r="2.3"/><circle cx="370.5" cy="139" r="2.3"/><circle cx="385.6" cy="129.1" r="2.3"/><circle cx="379.7" cy="144.9" r="2.3"/><circle cx="338.1" cy="139.9" r="2.3"/><circle cx="355.1" cy="155.7" r="2.3"/><circle cx="381.4" cy="125.6" r="2.3"/><circle cx="380.4" cy="133.8" r="2.3"/><circle cx="358.4" cy="141" r="2.3"/><circle cx="355.5" cy="130.6" r="2.3"/><circle cx="347.2" cy="139.2" r="2.3"/><circle cx="379.9" cy="156.6" r="2.3"/><circle cx="405.5" cy="124.1" r="2.3"/><circle cx="339.1" cy="150" r="2.3"/><circle cx="358.3" cy="164.2" r="2.3"/><circle cx="372.2" cy="133.9" r="2.3"/><circle cx="381.6" cy="141.7" r="2.3"/><circle cx="340.2" cy="148.5" r="2.3"/><circle cx="362.5" cy="144.6" r="2.3"/><circle cx="366.9" cy="139.5" r="2.3"/><circle cx="367" cy="137.2" r="2.3"/><circle cx="357.5" cy="160.3" r="2.3"/><circle cx="372.7" cy="144.3" r="2.3"/><circle cx="341.8" cy="151.2" r="2.3"/><circle cx="374.1" cy="127.9" r="2.3"/><circle cx="381.1" cy="133.4" r="2.3"/><circle cx="371.6" cy="139.6" r="2.3"/><circle cx="373" cy="151.2" r="2.3"/><circle cx="364.9" cy="157.7" r="2.3"/><circle cx="351.4" cy="140.3" r="2.3"/><circle cx="373.2" cy="130.4" r="2.3"/><circle cx="363.4" cy="152.4" r="2.3"/><circle cx="378.4" cy="121.8" r="2.3"/><circle cx="379.5" cy="154.9" r="2.3"/><circle cx="383" cy="134" r="2.3"/><circle cx="356.1" cy="144.2" r="2.3"/><circle cx="348" cy="147.8" r="2.3"/><circle cx="362.8" cy="143" r="2.3"/><circle cx="382.8" cy="134.2" r="2.3"/><circle cx="347.7" cy="159.9" r="2.3"/><circle cx="348.7" cy="145.8" r="2.3"/><circle cx="362.9" cy="141.1" r="2.3"/><circle cx="350.3" cy="147" r="2.3"/><circle cx="396.5" cy="125.2" r="2.3"/><circle cx="367.5" cy="152.7" r="2.3"/><circle cx="379.5" cy="144.6" r="2.3"/><circle cx="372.6" cy="122.3" r="2.3"/><circle cx="353.6" cy="149.1" r="2.3"/><circle cx="377.5" cy="150.3" r="2.3"/><circle cx="372.2" cy="138.3" r="2.3"/><circle cx="365.9" cy="141.1" r="2.3"/><circle cx="371.8" cy="146.9" r="2.3"/><circle cx="358.4" cy="138.6" r="2.3"/><circle cx="356.8" cy="156.7" r="2.3"/><circle cx="388.2" cy="143.2" r="2.3"/><circle cx="381.4" cy="144.5" r="2.3"/><circle cx="368.1" cy="148.3" r="2.3"/><circle cx="349.7" cy="147.6" r="2.3"/><circle cx="357.4" cy="153.1" r="2.3"/><circle cx="357" cy="145.6" r="2.3"/><circle cx="376.2" cy="151.3" r="2.3"/><circle cx="351.3" cy="140.3" r="2.3"/><circle cx="374.7" cy="129.4" r="2.3"/><circle cx="370.9" cy="135.8" r="2.3"/><circle cx="358.7" cy="129.3" r="2.3"/><circle cx="375" cy="134.8" r="2.3"/><circle cx="359.2" cy="164.7" r="2.3"/><circle cx="387.6" cy="166.5" r="2.3"/><circle cx="371" cy="137.8" r="2.3"/><circle cx="372.7" cy="155" r="2.3"/><circle cx="367" cy="146.7" r="2.3"/><circle cx="370.8" cy="132.8" r="2.3"/><circle cx="366.3" cy="138.3" r="2.3"/><circle cx="350.2" cy="157.3" r="2.3"/><circle cx="376.1" cy="139.6" r="2.3"/><circle cx="346.2" cy="132.6" r="2.3"/><circle cx="372.9" cy="139.3" r="2.3"/><circle cx="340.8" cy="152.5" r="2.3"/><circle cx="343.3" cy="151.8" r="2.3"/><circle cx="369.2" cy="145" r="2.3"/><circle cx="369.8" cy="143.1" r="2.3"/><circle cx="347.9" cy="146.7" r="2.3"/><circle cx="357.7" cy="144.2" r="2.3"/><circle cx="372" cy="146.3" r="2.3"/><circle cx="382.2" cy="113" r="2.3"/><circle cx="371.3" cy="139.1" r="2.3"/><circle cx="402.8" cy="136.9" r="2.3"/><circle cx="342.7" cy="156" r="2.3"/><circle cx="361.4" cy="153.9" r="2.3"/><circle cx="350" cy="148.5" r="2.3"/><circle cx="363.7" cy="143" r="2.3"/><circle cx="351.5" cy="132" r="2.3"/><circle cx="376" cy="148.2" r="2.3"/><circle cx="361.8" cy="135.4" r="2.3"/><circle cx="370.8" cy="146.3" r="2.3"/><circle cx="363.3" cy="143.9" r="2.3"/><circle cx="383.4" cy="125.8" r="2.3"/><circle cx="351.7" cy="131.3" r="2.3"/><circle cx="353.3" cy="141.3" r="2.3"/><circle cx="349.5" cy="143.2" r="2.3"/><circle cx="392.1" cy="130.8" r="2.3"/><circle cx="371.2" cy="161" r="2.3"/><circle cx="359.6" cy="129.7" r="2.3"/><circle cx="369" cy="133.2" r="2.3"/><circle cx="386.4" cy="123.4" r="2.3"/><circle cx="352.3" cy="133.8" r="2.3"/><circle cx="364.2" cy="134.4" r="2.3"/><circle cx="363.8" cy="140.4" r="2.3"/><circle cx="359.9" cy="154.1" r="2.3"/><circle cx="380.1" cy="137.9" r="2.3"/><circle cx="349.2" cy="139.9" r="2.3"/><circle cx="377.5" cy="160.3" r="2.3"/><circle cx="356.7" cy="139.5" r="2.3"/><circle cx="352.2" cy="138.5" r="2.3"/><circle cx="350.9" cy="147.2" r="2.3"/><circle cx="387.3" cy="134.5" r="2.3"/><circle cx="353.3" cy="133.3" r="2.3"/><circle cx="369.1" cy="141.5" r="2.3"/><circle cx="344.4" cy="141.7" r="2.3"/><circle cx="368.6" cy="151.2" r="2.3"/><circle cx="376" cy="140.9" r="2.3"/><circle cx="362.2" cy="147.4" r="2.3"/><circle cx="372.7" cy="160.2" r="2.3"/><circle cx="348" cy="146.8" r="2.3"/><circle cx="384" cy="133.4" r="2.3"/><circle cx="387" cy="134.2" r="2.3"/><circle cx="367" cy="139.2" r="2.3"/><circle cx="342.4" cy="143.5" r="2.3"/><circle cx="400.9" cy="134.9" r="2.3"/><circle cx="378" cy="146.9" r="2.3"/><circle cx="377.7" cy="147.7" r="2.3"/><circle cx="361.3" cy="142.8" r="2.3"/><circle cx="379.5" cy="134.4" r="2.3"/><circle cx="345.5" cy="149.1" r="2.3"/><circle cx="359.8" cy="151.1" r="2.3"/><circle cx="352" cy="138.9" r="2.3"/><circle cx="366" cy="157.2" r="2.3"/><circle cx="365.8" cy="144.6" r="2.3"/><circle cx="367.1" cy="145.3" r="2.3"/><circle cx="384.2" cy="148.5" r="2.3"/><circle cx="345.9" cy="163.5" r="2.3"/><circle cx="364.9" cy="140.5" r="2.3"/><circle cx="401.1" cy="127.4" r="2.3"/><circle cx="397.9" cy="139.1" r="2.3"/><circle cx="352.2" cy="153" r="2.3"/><circle cx="376.6" cy="137.6" r="2.3"/><circle cx="330.3" cy="154.1" r="2.3"/><circle cx="359.7" cy="135.4" r="2.3"/><circle cx="392.4" cy="130.2" r="2.3"/><circle cx="359.2" cy="143" r="2.3"/><circle cx="351.9" cy="141.5" r="2.3"/><circle cx="368.4" cy="144.9" r="2.3"/><circle cx="358.2" cy="145.3" r="2.3"/><circle cx="347" cy="155.4" r="2.3"/><circle cx="355.5" cy="149.1" r="2.3"/><circle cx="350.9" cy="144.3" r="2.3"/><circle cx="365.4" cy="132.2" r="2.3"/><circle cx="402.6" cy="128.1" r="2.3"/><circle cx="362.6" cy="137.6" r="2.3"/><circle cx="394.1" cy="144.5" r="2.3"/><circle cx="366.1" cy="130.4" r="2.3"/><circle cx="360.4" cy="150.9" r="2.3"/><circle cx="354.7" cy="136.7" r="2.3"/><circle cx="345.9" cy="144" r="2.3"/><circle cx="364.2" cy="137.8" r="2.3"/><circle cx="375.1" cy="164.9" r="2.3"/><circle cx="389.1" cy="124.3" r="2.3"/><circle cx="371.4" cy="141.6" r="2.3"/><circle cx="367.2" cy="152.1" r="2.3"/><circle cx="360" cy="142.4" r="2.3"/><circle cx="360.1" cy="144.4" r="2.3"/><circle cx="387.6" cy="141.5" r="2.3"/><circle cx="344.7" cy="147.5" r="2.3"/><circle cx="356.7" cy="154.2" r="2.3"/><circle cx="372.1" cy="148.7" r="2.3"/><circle cx="359.1" cy="128.3" r="2.3"/><circle cx="373.4" cy="142.1" r="2.3"/><circle cx="369.4" cy="129.7" r="2.3"/><circle cx="365" cy="137.1" r="2.3"/><circle cx="356.9" cy="149.9" r="2.3"/><circle cx="368.4" cy="133.9" r="2.3"/><circle cx="332.8" cy="133.6" r="2.3"/><circle cx="361" cy="155.3" r="2.3"/><circle cx="358.1" cy="125.6" r="2.3"/><circle cx="354.5" cy="151.4" r="2.3"/><circle cx="394.5" cy="142.3" r="2.3"/><circle cx="372.1" cy="142.4" r="2.3"/><circle cx="348.8" cy="145.7" r="2.3"/><circle cx="358.6" cy="138.9" r="2.3"/><circle cx="365.7" cy="139.5" r="2.3"/><circle cx="375.5" cy="152.3" r="2.3"/><circle cx="378.3" cy="141.9" r="2.3"/><circle cx="357.6" cy="132.4" r="2.3"/><circle cx="366" cy="148" r="2.3"/><circle cx="355" cy="158.9" r="2.3"/><circle cx="362.2" cy="147.9" r="2.3"/><circle cx="357.2" cy="135" r="2.3"/><circle cx="393.1" cy="121.6" r="2.3"/><circle cx="377.9" cy="133.2" r="2.3"/><circle cx="367.6" cy="135" r="2.3"/><circle cx="362.7" cy="152.7" r="2.3"/><circle cx="392.2" cy="124.8" r="2.3"/><circle cx="369.1" cy="150.4" r="2.3"/><circle cx="358.9" cy="152.4" r="2.3"/><circle cx="356.2" cy="152.4" r="2.3"/><circle cx="376.3" cy="150" r="2.3"/><circle cx="367.6" cy="131.4" r="2.3"/><circle cx="372.4" cy="130.4" r="2.3"/><circle cx="381.9" cy="150.5" r="2.3"/><circle cx="373.1" cy="135.1" r="2.3"/><circle cx="384.2" cy="137.2" r="2.3"/><circle cx="346.4" cy="147.6" r="2.3"/><circle cx="386.1" cy="132.2" r="2.3"/><circle cx="366.7" cy="139.6" r="2.3"/><circle cx="339.3" cy="149" r="2.3"/><circle cx="372" cy="142.5" r="2.3"/><circle cx="356.7" cy="127.2" r="2.3"/><circle cx="386.4" cy="141.4" r="2.3"/><circle cx="385.3" cy="147.2" r="2.3"/><circle cx="357.5" cy="140.9" r="2.3"/><circle cx="375.9" cy="154.3" r="2.3"/><circle cx="343.1" cy="151.3" r="2.3"/><circle cx="352.8" cy="152.8" r="2.3"/><circle cx="370.1" cy="142.6" r="2.3"/><circle cx="347.4" cy="151.6" r="2.3"/><circle cx="353" cy="140.6" r="2.3"/><circle cx="364.8" cy="142.9" r="2.3"/><circle cx="361.7" cy="139.3" r="2.3"/><circle cx="365.1" cy="137.5" r="2.3"/><circle cx="364.1" cy="135.7" r="2.3"/><circle cx="369.3" cy="142.4" r="2.3"/><circle cx="344.2" cy="150.9" r="2.3"/><circle cx="359.3" cy="141.9" r="2.3"/><circle cx="354.2" cy="150.7" r="2.3"/><circle cx="351.6" cy="132.3" r="2.3"/><circle cx="355" cy="151.4" r="2.3"/><circle cx="362.2" cy="152.5" r="2.3"/><circle cx="356.2" cy="163.3" r="2.3"/><circle cx="365.4" cy="147.5" r="2.3"/><circle cx="368.9" cy="150.1" r="2.3"/><circle cx="357.9" cy="144.5" r="2.3"/><circle cx="367.5" cy="147.5" r="2.3"/><circle cx="339.9" cy="147.2" r="2.3"/><circle cx="362.2" cy="147.3" r="2.3"/><circle cx="361.4" cy="150.6" r="2.3"/><circle cx="361.8" cy="155.9" r="2.3"/><circle cx="352.3" cy="147.5" r="2.3"/><circle cx="362" cy="151.1" r="2.3"/><circle cx="367.2" cy="153.7" r="2.3"/><circle cx="355.8" cy="155.4" r="2.3"/><circle cx="360.3" cy="141.3" r="2.3"/><circle cx="360.2" cy="159.3" r="2.3"/><circle cx="364" cy="143.4" r="2.3"/><circle cx="336.2" cy="150.5" r="2.3"/><circle cx="352.1" cy="150.3" r="2.3"/><circle cx="379.1" cy="145.8" r="2.3"/><circle cx="359.2" cy="142.3" r="2.3"/><circle cx="347.5" cy="150.1" r="2.3"/><circle cx="358.9" cy="165" r="2.3"/><circle cx="353.5" cy="145.8" r="2.3"/><circle cx="367.8" cy="145.4" r="2.3"/><circle cx="349.5" cy="158.1" r="2.3"/><circle cx="353.2" cy="141.8" r="2.3"/><circle cx="361.6" cy="149.7" r="2.3"/><circle cx="356.2" cy="152.6" r="2.3"/><circle cx="363.6" cy="141.2" r="2.3"/><circle cx="336.4" cy="140.9" r="2.3"/><circle cx="358.9" cy="154.8" r="2.3"/><circle cx="368.9" cy="152.6" r="2.3"/><circle cx="374" cy="143.1" r="2.3"/><circle cx="364.6" cy="137.2" r="2.3"/><circle cx="364.6" cy="148.2" r="2.3"/><circle cx="356.5" cy="145.9" r="2.3"/><circle cx="348.6" cy="151.7" r="2.3"/><circle cx="368.4" cy="142.7" r="2.3"/><circle cx="361.5" cy="143.1" r="2.3"/><circle cx="358.5" cy="142" r="2.3"/><circle cx="360.9" cy="145.8" r="2.3"/><circle cx="359.7" cy="144" r="2.3"/><circle cx="347.4" cy="149.4" r="2.3"/><circle cx="369.5" cy="153.5" r="2.3"/><circle cx="356.5" cy="153.1" r="2.3"/><circle cx="365.2" cy="148" r="2.3"/><circle cx="345.2" cy="153.8" r="2.3"/><circle cx="351.6" cy="156.8" r="2.3"/><circle cx="365.8" cy="149.1" r="2.3"/><circle cx="337.2" cy="158" r="2.3"/><circle cx="361.9" cy="139.4" r="2.3"/><circle cx="366.5" cy="145.8" r="2.3"/><circle cx="355.3" cy="144.7" r="2.3"/><circle cx="348.5" cy="148.4" r="2.3"/><circle cx="384.9" cy="140.9" r="2.3"/><circle cx="358.7" cy="144" r="2.3"/><circle cx="351.8" cy="146.7" r="2.3"/><circle cx="351.8" cy="155" r="2.3"/><circle cx="357.1" cy="153.3" r="2.3"/><circle cx="349.6" cy="156" r="2.3"/><circle cx="358.9" cy="151.6" r="2.3"/><circle cx="355.7" cy="143.6" r="2.3"/><circle cx="367.7" cy="142.5" r="2.3"/><circle cx="355.3" cy="143.7" r="2.3"/><circle cx="394.8" cy="112.8" r="2.3"/><circle cx="398.8" cy="117.3" r="2.3"/><circle cx="379.9" cy="112.4" r="2.3"/><circle cx="403" cy="120.1" r="2.3"/><circle cx="397.5" cy="104.1" r="2.3"/><circle cx="402.8" cy="115.2" r="2.3"/><circle cx="399.2" cy="117.9" r="2.3"/><circle cx="391" cy="120.8" r="2.3"/><circle cx="403" cy="106.8" r="2.3"/><circle cx="376.4" cy="126.8" r="2.3"/><circle cx="388.6" cy="103" r="2.3"/><circle cx="388.4" cy="126" r="2.3"/><circle cx="392.6" cy="118.7" r="2.3"/><circle cx="382.8" cy="132.4" r="2.3"/><circle cx="414.1" cy="102.8" r="2.3"/><circle cx="380.4" cy="114.5" r="2.3"/><circle cx="405.1" cy="111.2" r="2.3"/><circle cx="389.6" cy="131.1" r="2.3"/><circle cx="405.6" cy="115.5" r="2.3"/><circle cx="372.6" cy="129.2" r="2.3"/><circle cx="396.3" cy="104.1" r="2.3"/><circle cx="411.1" cy="120" r="2.3"/><circle cx="403.3" cy="104.5" r="2.3"/><circle cx="389.5" cy="128.6" r="2.3"/><circle cx="411" cy="118.1" r="2.3"/><circle cx="407.9" cy="107.5" r="2.3"/><circle cx="381.3" cy="107.3" r="2.3"/><circle cx="412.9" cy="126.8" r="2.3"/><circle cx="386.5" cy="117.1" r="2.3"/><circle cx="403.3" cy="114.8" r="2.3"/><circle cx="374.7" cy="122.2" r="2.3"/><circle cx="389.3" cy="138.8" r="2.3"/><circle cx="389" cy="128.1" r="2.3"/><circle cx="424.8" cy="115.9" r="2.3"/><circle cx="417.8" cy="117.7" r="2.3"/><circle cx="377.8" cy="123.7" r="2.3"/><circle cx="384.1" cy="120.3" r="2.3"/><circle cx="418.3" cy="86.4" r="2.3"/><circle cx="395.5" cy="104.5" r="2.3"/><circle cx="415.4" cy="116.1" r="2.3"/><circle cx="396.5" cy="134.9" r="2.3"/><circle cx="400.3" cy="125.3" r="2.3"/><circle cx="395.4" cy="110.9" r="2.3"/><circle cx="389" cy="119" r="2.3"/><circle cx="401.9" cy="113.3" r="2.3"/><circle cx="421.4" cy="98.4" r="2.3"/><circle cx="385.4" cy="115.5" r="2.3"/><circle cx="378.7" cy="112.9" r="2.3"/><circle cx="386" cy="130.4" r="2.3"/><circle cx="394" cy="115.4" r="2.3"/><circle cx="402.6" cy="121.7" r="2.3"/><circle cx="404.6" cy="117.8" r="2.3"/><circle cx="386.2" cy="119.3" r="2.3"/><circle cx="384.3" cy="122" r="2.3"/><circle cx="382.7" cy="120.4" r="2.3"/><circle cx="391" cy="116.8" r="2.3"/><circle cx="388.8" cy="115.6" r="2.3"/><circle cx="408.2" cy="105.1" r="2.3"/><circle cx="382.7" cy="125.7" r="2.3"/><circle cx="376.5" cy="117.7" r="2.3"/><circle cx="388" cy="105" r="2.3"/><circle cx="356.8" cy="142.5" r="2.3"/><circle cx="399.4" cy="98" r="2.3"/><circle cx="385.7" cy="127.5" r="2.3"/><circle cx="366.6" cy="125.6" r="2.3"/><circle cx="378.8" cy="124.5" r="2.3"/><circle cx="374.2" cy="137.5" r="2.3"/><circle cx="393.5" cy="120.1" r="2.3"/><circle cx="381.2" cy="104.9" r="2.3"/><circle cx="386.6" cy="109" r="2.3"/><circle cx="390.6" cy="111.1" r="2.3"/><circle cx="389.3" cy="117.9" r="2.3"/><circle cx="406.4" cy="116.6" r="2.3"/><circle cx="381.9" cy="124.2" r="2.3"/><circle cx="413.5" cy="109.7" r="2.3"/><circle cx="384.8" cy="121.5" r="2.3"/><circle cx="393.8" cy="126" r="2.3"/><circle cx="396" cy="119.3" r="2.3"/><circle cx="414.6" cy="91.4" r="2.3"/><circle cx="374.7" cy="112.6" r="2.3"/><circle cx="378.6" cy="134.5" r="2.3"/><circle cx="404.3" cy="126" r="2.3"/><circle cx="366.8" cy="125.4" r="2.3"/><circle cx="415.5" cy="113.5" r="2.3"/><circle cx="408.2" cy="116.5" r="2.3"/><circle cx="394.3" cy="116.7" r="2.3"/><circle cx="397.9" cy="122.5" r="2.3"/><circle cx="393.4" cy="120.4" r="2.3"/><circle cx="406.6" cy="98.7" r="2.3"/><circle cx="387.4" cy="126.3" r="2.3"/><circle cx="390.2" cy="117.9" r="2.3"/><circle cx="420.8" cy="104.5" r="2.3"/><circle cx="393.6" cy="127.5" r="2.3"/><circle cx="419.4" cy="91" r="2.3"/><circle cx="386.5" cy="122.7" r="2.3"/><circle cx="395.5" cy="136.5" r="2.3"/><circle cx="398.6" cy="110.4" r="2.3"/><circle cx="396.5" cy="108" r="2.3"/><circle cx="387.2" cy="122.1" r="2.3"/><circle cx="413.1" cy="84.2" r="2.3"/><circle cx="404.7" cy="123.1" r="2.3"/><circle cx="410.9" cy="124.7" r="2.3"/><circle cx="400" cy="114.7" r="2.3"/><circle cx="388.9" cy="112.1" r="2.3"/><circle cx="408.6" cy="97" r="2.3"/><circle cx="390.3" cy="114.3" r="2.3"/><circle cx="375.3" cy="107.6" r="2.3"/><circle cx="390" cy="120.7" r="2.3"/><circle cx="399.2" cy="121.7" r="2.3"/><circle cx="389.4" cy="113.8" r="2.3"/><circle cx="400.5" cy="119.3" r="2.3"/><circle cx="376.9" cy="113.3" r="2.3"/><circle cx="386.2" cy="131.7" r="2.3"/><circle cx="402.2" cy="103.6" r="2.3"/><circle cx="398.8" cy="121.9" r="2.3"/><circle cx="407.1" cy="102.8" r="2.3"/><circle cx="397" cy="128.4" r="2.3"/><circle cx="429.2" cy="109.8" r="2.3"/><circle cx="382.3" cy="128.4" r="2.3"/><circle cx="390.2" cy="118.8" r="2.3"/><circle cx="384.1" cy="118.6" r="2.3"/><circle cx="401.4" cy="129.4" r="2.3"/><circle cx="404.1" cy="114.8" r="2.3"/><circle cx="391.2" cy="111.7" r="2.3"/><circle cx="396.4" cy="127.1" r="2.3"/><circle cx="412.1" cy="124.3" r="2.3"/><circle cx="397" cy="115" r="2.3"/><circle cx="376.3" cy="131.6" r="2.3"/><circle cx="379.8" cy="140" r="2.3"/><circle cx="386.5" cy="121.6" r="2.3"/><circle cx="375.8" cy="123.5" r="2.3"/><circle cx="387.6" cy="131.5" r="2.3"/><circle cx="392" cy="107.1" r="2.3"/><circle cx="370.7" cy="130.7" r="2.3"/><circle cx="383.5" cy="113" r="2.3"/><circle cx="434.2" cy="97.1" r="2.3"/><circle cx="424.4" cy="96.6" r="2.3"/><circle cx="414.7" cy="101.1" r="2.3"/><circle cx="405.1" cy="135.5" r="2.3"/><circle cx="393.4" cy="117.3" r="2.3"/><circle cx="392.6" cy="123.1" r="2.3"/><circle cx="414" cy="131.7" r="2.3"/><circle cx="404.8" cy="114.3" r="2.3"/><circle cx="395" cy="137.1" r="2.3"/><circle cx="412.4" cy="120.8" r="2.3"/><circle cx="425.1" cy="101.2" r="2.3"/><circle cx="388.3" cy="105.9" r="2.3"/><circle cx="415.4" cy="119.6" r="2.3"/><circle cx="395.1" cy="123.7" r="2.3"/><circle cx="385" cy="138.5" r="2.3"/><circle cx="389.8" cy="102.3" r="2.3"/><circle cx="389.1" cy="130.2" r="2.3"/><circle cx="383.5" cy="112.3" r="2.3"/><circle cx="400.8" cy="99.8" r="2.3"/><circle cx="407.9" cy="134.7" r="2.3"/><circle cx="436.2" cy="95.3" r="2.3"/><circle cx="406" cy="133.7" r="2.3"/><circle cx="430.7" cy="95.1" r="2.3"/><circle cx="402.4" cy="105.1" r="2.3"/><circle cx="404.2" cy="90.9" r="2.3"/><circle cx="423.5" cy="133" r="2.3"/><circle cx="393.1" cy="102.2" r="2.3"/><circle cx="411.5" cy="101.5" r="2.3"/><circle cx="400.7" cy="107.6" r="2.3"/><circle cx="382.3" cy="111.8" r="2.3"/><circle cx="417" cy="89.7" r="2.3"/><circle cx="399.6" cy="130.5" r="2.3"/><circle cx="429.3" cy="123.8" r="2.3"/><circle cx="430.5" cy="115.6" r="2.3"/><circle cx="402.4" cy="140" r="2.3"/><circle cx="401.7" cy="136" r="2.3"/><circle cx="392.3" cy="108.2" r="2.3"/><circle cx="390.5" cy="121.2" r="2.3"/><circle cx="392.2" cy="115.9" r="2.3"/><circle cx="397.6" cy="114.6" r="2.3"/><circle cx="500.6" cy="13.6" r="2.3"/><circle cx="478.5" cy="23" r="2.3"/><circle cx="480.1" cy="24" r="2.3"/><circle cx="474.3" cy="26.1" r="2.3"/><circle cx="481.2" cy="28.2" r="2.3"/><circle cx="489.5" cy="26.1" r="2.3"/><circle cx="491.2" cy="30.7" r="2.3"/><circle cx="484.9" cy="33" r="2.3"/><circle cx="479.7" cy="37.2" r="2.3"/><circle cx="478.5" cy="39.1" r="2.3"/><circle cx="473.4" cy="38.2" r="2.3"/><circle cx="473.9" cy="42.2" r="2.3"/><circle cx="468.6" cy="42.8" r="2.3"/><circle cx="466.6" cy="44.3" r="2.3"/><circle cx="469.7" cy="46.4" r="2.3"/><circle cx="470.7" cy="48" r="2.3"/><circle cx="457.2" cy="52.2" r="2.3"/><circle cx="443.6" cy="56.8" r="2.3"/><circle cx="449.8" cy="60.2" r="2.3"/><circle cx="464.5" cy="58.9" r="2.3"/><circle cx="448.4" cy="64.4" r="2.3"/><circle cx="445.7" cy="68" r="2.3"/><circle cx="438.4" cy="76.9" r="2.3"/><circle cx="432.1" cy="86.3" r="2.3"/><circle cx="435.2" cy="91.6" r="2.3"/><circle cx="431" cy="93.6" r="2.3"/><circle cx="434.6" cy="95.7" r="2.3"/><circle cx="432.5" cy="104.1" r="2.3"/><circle cx="478" cy="93.6" r="2.3"/><circle cx="471.4" cy="97.8" r="2.3"/><circle cx="471.4" cy="106.2" r="2.3"/><circle cx="456.1" cy="110.4" r="2.3"/><circle cx="448.4" cy="112.4" r="2.3"/><circle cx="466.6" cy="113.5" r="2.3"/><circle cx="438.4" cy="113.9" r="2.3"/><circle cx="431.6" cy="113.1" r="2.3"/><circle cx="442.6" cy="124.1" r="2.3"/><circle cx="450.4" cy="121.9" r="2.3"/><circle cx="459.8" cy="121.9" r="2.3"/><circle cx="469.2" cy="120" r="2.3"/><circle cx="433.1" cy="125.7" r="2.3"/><circle cx="436.3" cy="131.3" r="2.3"/><circle cx="444.1" cy="131.3" r="2.3"/><circle cx="431.6" cy="132" r="2.3"/><circle cx="431" cy="139.2" r="2.3"/><circle cx="439.4" cy="138.9" r="2.3"/><circle cx="447.3" cy="137.6" r="2.3"/><circle cx="457.6" cy="128.2" r="2.3"/><circle cx="444.1" cy="146.1" r="2.3"/><circle cx="459.8" cy="150.8" r="2.3"/><circle cx="450.4" cy="159.6" r="2.3"/><circle cx="443.2" cy="194.7" r="2.3"/><circle cx="412.6" cy="84.8" r="2.3"/><circle cx="407.8" cy="87.7" r="2.3"/><circle cx="403" cy="89.6" r="2.3"/><circle cx="418.4" cy="90.5" r="2.3"/><circle cx="424.1" cy="87.7" r="2.3"/><circle cx="434.7" cy="85.8" r="2.3"/><circle cx="406.9" cy="93.4" r="2.3"/><circle cx="411.6" cy="94.4" r="2.3"/><circle cx="416.4" cy="95" r="2.3"/><circle cx="421.2" cy="93.8" r="2.3"/><circle cx="426" cy="93.4" r="2.3"/><circle cx="429.9" cy="98.2" r="2.3"/><circle cx="404" cy="98.2" r="2.3"/><circle cx="409.7" cy="99.2" r="2.3"/><circle cx="413.6" cy="99.2" r="2.3"/><circle cx="418.4" cy="101.1" r="2.3"/><circle cx="423.2" cy="100.1" r="2.3"/><circle cx="419.3" cy="104.9" r="2.3"/><circle cx="398.2" cy="99.2" r="2.3"/><circle cx="397.3" cy="104" r="2.3"/><circle cx="387.7" cy="104.9" r="2.3"/><circle cx="383.8" cy="106.9" r="2.3"/><circle cx="391.5" cy="106.9" r="2.3"/><circle cx="401.1" cy="106.9" r="2.3"/><circle cx="405.9" cy="104.9" r="2.3"/><circle cx="409.7" cy="108.8" r="2.3"/><circle cx="416.4" cy="108.8" r="2.3"/><circle cx="419.3" cy="109.7" r="2.3"/><circle cx="399.2" cy="110.7" r="2.3"/><circle cx="395.3" cy="113.6" r="2.3"/><circle cx="403" cy="113.6" r="2.3"/><circle cx="408.8" cy="113.6" r="2.3"/><circle cx="414.5" cy="116.4" r="2.3"/><circle cx="389.6" cy="116.4" r="2.3"/><circle cx="385.8" cy="120.3" r="2.3"/><circle cx="393.4" cy="120.3" r="2.3"/><circle cx="401.1" cy="119.3" r="2.3"/><circle cx="404.9" cy="121.2" r="2.3"/><circle cx="410.7" cy="121.2" r="2.3"/><circle cx="416.4" cy="122.2" r="2.3"/><circle cx="421.2" cy="121.2" r="2.3"/><circle cx="381.9" cy="126" r="2.3"/><circle cx="389.6" cy="126" r="2.3"/><circle cx="397.3" cy="127" r="2.3"/><circle cx="404.9" cy="127.9" r="2.3"/><circle cx="412.6" cy="127.9" r="2.3"/><circle cx="421.2" cy="126" r="2.3"/><circle cx="426" cy="127.9" r="2.3"/><circle cx="430.8" cy="125.1" r="2.3"/><circle cx="427.9" cy="131.8" r="2.3"/><circle cx="399.2" cy="131.8" r="2.3"/><circle cx="408.8" cy="132.7" r="2.3"/><circle cx="418.4" cy="132.7" r="2.3"/><circle cx="434.7" cy="129.9" r="2.3"/><circle cx="448.1" cy="121.2" r="2.3"/><circle cx="446.2" cy="130.8" r="2.3"/><circle cx="433.7" cy="119.3" r="2.3"/><circle cx="431.8" cy="108.8" r="2.3"/><circle cx="427" cy="115.5" r="2.3"/><circle cx="418.8" cy="148" r="2.3"/><circle cx="422.3" cy="183.1" r="2.3"/><circle cx="419.3" cy="153.9" r="2.3"/><circle cx="460.9" cy="175.6" r="2.3"/><circle cx="436.8" cy="166" r="2.3"/><circle cx="463.9" cy="193" r="2.3"/><circle cx="444.8" cy="187.2" r="2.3"/><circle cx="449.9" cy="177.5" r="2.3"/><circle cx="429.7" cy="170.8" r="2.3"/><circle cx="436.3" cy="175.6" r="2.3"/><circle cx="438.1" cy="179.5" r="2.3"/><circle cx="456.8" cy="201.4" r="2.3"/></g><path d="M403.5,152.2 L464.4,67.6 L466.9,72.2 Z" fill="#fbeef4" fill-opacity="0.42"/><g class="arB"><line x1="403.5" y1="152.2" x2="476.3" y2="195.1"/><line x1="403.5" y1="152.2" x2="474.3" y2="206.5"/><line x1="403.5" y1="152.2" x2="476.8" y2="197.8"/><line x1="403.5" y1="152.2" x2="443" y2="75"/><line x1="403.5" y1="152.2" x2="356.9" y2="51.7"/><line x1="403.5" y1="152.2" x2="344.3" y2="75.4"/><line x1="403.5" y1="152.2" x2="467.6" y2="72.8" style="stroke-width:0.5;stroke-opacity:0.6"/><line x1="403.5" y1="152.2" x2="467.2" y2="72.3" style="stroke-width:0.5;stroke-opacity:0.6"/><line x1="403.5" y1="152.2" x2="464.4" y2="67.6"/><line x1="403.5" y1="152.2" x2="466.9" y2="72.2"/><line x1="403.5" y1="152.2" x2="477.1" y2="185.1"/><line x1="403.5" y1="152.2" x2="477.9" y2="171.7"/></g><path class="st" fill="#1f77b4" d="M476.3,189.8 L477.5,193.4 L481.3,193.5 L478.3,195.8 L479.4,199.4 L476.3,197.2 L473.2,199.4 L474.3,195.8 L471.3,193.5 L475.1,193.4Z"/><path class="st" fill="#aec7e8" d="M474.3,201.2 L475.5,204.8 L479.3,204.9 L476.3,207.2 L477.4,210.8 L474.3,208.6 L471.2,210.8 L472.3,207.2 L469.3,204.9 L473.1,204.8Z"/><path class="st" fill="#ffbb78" d="M476.8,192.5 L478,196.1 L481.8,196.2 L478.8,198.5 L479.9,202.1 L476.8,199.9 L473.7,202.1 L474.8,198.5 L471.8,196.2 L475.6,196.1Z"/><path class="st" fill="#98df8a" d="M443,69.7 L444.2,73.3 L448,73.4 L445,75.7 L446.1,79.3 L443,77.1 L439.9,79.3 L441,75.7 L438,73.4 L441.8,73.3Z"/><path class="st" fill="#ff9896" d="M356.9,46.4 L358.1,50 L361.9,50.1 L358.9,52.4 L360,56 L356.9,53.8 L353.8,56 L354.9,52.4 L351.9,50.1 L355.7,50Z"/><path class="st" fill="#c5b0d5" d="M344.3,70.1 L345.5,73.7 L349.3,73.8 L346.3,76.1 L347.4,79.7 L344.3,77.5 L341.2,79.7 L342.3,76.1 L339.3,73.8 L343.1,73.7Z"/><path class="st" fill="#8c564b" d="M467.6,67.5 L468.8,71.1 L472.6,71.2 L469.6,73.5 L470.7,77.1 L467.6,74.9 L464.5,77.1 L465.6,73.5 L462.6,71.2 L466.4,71.1Z"/><path class="st" fill="#e377c2" d="M467.2,67 L468.4,70.6 L472.2,70.7 L469.2,73 L470.3,76.6 L467.2,74.4 L464.1,76.6 L465.2,73 L462.2,70.7 L466,70.6Z"/><path class="st" fill="#7f7f7f" d="M464.4,62.3 L465.6,65.9 L469.4,66 L466.4,68.3 L467.5,71.9 L464.4,69.7 L461.3,71.9 L462.4,68.3 L459.4,66 L463.2,65.9Z"/><path class="st" fill="#bcbd22" d="M466.9,66.9 L468.1,70.5 L471.9,70.6 L468.9,72.9 L470,76.5 L466.9,74.3 L463.8,76.5 L464.9,72.9 L461.9,70.6 L465.7,70.5Z"/><path class="st" fill="#17becf" d="M477.1,179.8 L478.3,183.4 L482.1,183.5 L479.1,185.8 L480.2,189.4 L477.1,187.2 L474,189.4 L475.1,185.8 L472.1,183.5 L475.9,183.4Z"/><path class="st" fill="#9edae5" d="M477.9,166.4 L479.1,170 L482.9,170.1 L479.9,172.4 L481,176 L477.9,173.8 L474.8,176 L475.9,172.4 L472.9,170.1 L476.7,170Z"/></g><rect class="fr" x="33.5" y="0.5" width="246.0" height="263.0"/><rect class="fr" x="324.5" y="1.5" width="245.0" height="262.0"/><line class="tk" x1="62.8" y1="263.5" x2="62.8" y2="266.8"/><line class="tk" x1="107.7" y1="263.5" x2="107.7" y2="266.8"/><line class="tk" x1="152.5" y1="263.5" x2="152.5" y2="266.8"/><line class="tk" x1="197.3" y1="263.5" x2="197.3" y2="266.8"/><line class="tk" x1="242.2" y1="263.5" x2="242.2" y2="266.8"/><line class="tk" x1="30.2" y1="5.2" x2="33.5" y2="5.2"/><line class="tk" x1="30.2" y1="53.1" x2="33.5" y2="53.1"/><line class="tk" x1="30.2" y1="100.9" x2="33.5" y2="100.9"/><line class="tk" x1="30.2" y1="148.7" x2="33.5" y2="148.7"/><line class="tk" x1="30.2" y1="196.5" x2="33.5" y2="196.5"/><line class="tk" x1="30.2" y1="244.3" x2="33.5" y2="244.3"/><line class="tk" x1="358.4" y1="263.5" x2="358.4" y2="266.8"/><line class="tk" x1="403" y1="263.5" x2="403" y2="266.8"/><line class="tk" x1="447.6" y1="263.5" x2="447.6" y2="266.8"/><line class="tk" x1="492.2" y1="263.5" x2="492.2" y2="266.8"/><line class="tk" x1="536.8" y1="263.5" x2="536.8" y2="266.8"/><line class="tk" x1="321.2" y1="9.2" x2="324.5" y2="9.2"/><line class="tk" x1="321.2" y1="56.9" x2="324.5" y2="56.9"/><line class="tk" x1="321.2" y1="104.7" x2="324.5" y2="104.7"/><line class="tk" x1="321.2" y1="152.4" x2="324.5" y2="152.4"/><line class="tk" x1="321.2" y1="200.2" x2="324.5" y2="200.2"/><line class="tk" x1="321.2" y1="247.9" x2="324.5" y2="247.9"/><circle class="lf" cx="584.1" cy="58.2" r="2.4"/><circle class="lh" cx="584.1" cy="68.6" r="2.4"/><path class="st" fill="#1f77b4" d="M584.1,82.4 L585.3,86 L589.1,86.1 L586.1,88.4 L587.2,92 L584.1,89.8 L581,92 L582.1,88.4 L579.1,86.1 L582.9,86Z"/><path class="st" fill="#aec7e8" d="M584.1,94.3 L585.3,97.9 L589.1,98 L586.1,100.3 L587.2,103.9 L584.1,101.7 L581,103.9 L582.1,100.3 L579.1,98 L582.9,97.9Z"/><path class="st" fill="#ffbb78" d="M584.1,106.2 L585.3,109.8 L589.1,109.9 L586.1,112.2 L587.2,115.8 L584.1,113.7 L581,115.8 L582.1,112.2 L579.1,109.9 L582.9,109.8Z"/><path class="st" fill="#98df8a" d="M584.1,118.2 L585.3,121.7 L589.1,121.8 L586.1,124.1 L587.2,127.7 L584.1,125.6 L581,127.7 L582.1,124.1 L579.1,121.8 L582.9,121.7Z"/><path class="st" fill="#ff9896" d="M584.1,130.1 L585.3,133.7 L589.1,133.7 L586.1,136 L587.2,139.7 L584.1,137.5 L581,139.7 L582.1,136 L579.1,133.7 L582.9,133.7Z"/><path class="st" fill="#c5b0d5" d="M584.1,142 L585.3,145.6 L589.1,145.7 L586.1,148 L587.2,151.6 L584.1,149.4 L581,151.6 L582.1,148 L579.1,145.7 L582.9,145.6Z"/><path class="st" fill="#8c564b" d="M584.1,153.9 L585.3,157.5 L589.1,157.6 L586.1,159.9 L587.2,163.5 L584.1,161.3 L581,163.5 L582.1,159.9 L579.1,157.6 L582.9,157.5Z"/><path class="st" fill="#e377c2" d="M584.1,165.8 L585.3,169.4 L589.1,169.5 L586.1,171.8 L587.2,175.4 L584.1,173.3 L581,175.4 L582.1,171.8 L579.1,169.5 L582.9,169.4Z"/><path class="st" fill="#7f7f7f" d="M584.1,177.8 L585.3,181.3 L589.1,181.4 L586.1,183.7 L587.2,187.3 L584.1,185.2 L581,187.3 L582.1,183.7 L579.1,181.4 L582.9,181.3Z"/><path class="st" fill="#bcbd22" d="M584.1,189.7 L585.3,193.3 L589.1,193.3 L586.1,195.6 L587.2,199.3 L584.1,197.1 L581,199.3 L582.1,195.6 L579.1,193.3 L582.9,193.3Z"/><path class="st" fill="#17becf" d="M584.1,201.6 L585.3,205.2 L589.1,205.3 L586.1,207.6 L587.2,211.2 L584.1,209 L581,211.2 L582.1,207.6 L579.1,205.3 L582.9,205.2Z"/><path class="st" fill="#9edae5" d="M584.1,213.5 L585.3,217.1 L589.1,217.2 L586.1,219.5 L587.2,223.1 L584.1,220.9 L581,223.1 L582.1,219.5 L579.1,217.2 L582.9,217.1Z"/><g class="txt"><text class="tl" x="62.8" y="275.8" text-anchor="middle">−0.4</text><text class="tl" x="107.7" y="275.8" text-anchor="middle">−0.2</text><text class="tl" x="152.5" y="275.8" text-anchor="middle">0.0</text><text class="tl" x="197.3" y="275.8" text-anchor="middle">0.2</text><text class="tl" x="242.2" y="275.8" text-anchor="middle">0.4</text><text class="tl" x="28.2" y="9.1" text-anchor="end">0.6</text><text class="tl" x="28.2" y="57" text-anchor="end">0.4</text><text class="tl" x="28.2" y="104.8" text-anchor="end">0.2</text><text class="tl" x="28.2" y="152.6" text-anchor="end">0.0</text><text class="tl" x="28.2" y="200.4" text-anchor="end">−0.2</text><text class="tl" x="28.2" y="248.2" text-anchor="end">−0.4</text><text class="tl" x="358.4" y="275.8" text-anchor="middle">−0.2</text><text class="tl" x="403" y="275.8" text-anchor="middle">0.0</text><text class="tl" x="447.6" y="275.8" text-anchor="middle">0.2</text><text class="tl" x="492.2" y="275.8" text-anchor="middle">0.4</text><text class="tl" x="536.8" y="275.8" text-anchor="middle">0.6</text><text class="tl" x="319" y="13.1" text-anchor="end">0.6</text><text class="tl" x="319" y="60.8" text-anchor="end">0.4</text><text class="tl" x="319" y="108.6" text-anchor="end">0.2</text><text class="tl" x="319" y="156.3" text-anchor="end">0.0</text><text class="tl" x="319" y="204.1" text-anchor="end">−0.2</text><text class="tl" x="319" y="251.8" text-anchor="end">−0.4</text><text class="al" x="156.5" y="286.1" text-anchor="middle">PC1 - 59.47%</text><text class="al" x="447" y="286.3" text-anchor="middle">PC1 - 67.41%</text><text class="al yl" transform="translate(6.6,132) rotate(-90)" text-anchor="middle">PC2 - 26.55%</text><text class="al yl" transform="translate(298.2,132.4) rotate(-90)" text-anchor="middle">PC2 - 22.16%</text><text class="pl" x="41.4" y="14.7">(a)</text><text class="pl" x="331.1" y="16.9" style="font-size:12.7px">(b)</text><text class="lg" x="596.6" y="60.9">Future</text><text class="lg" x="596.6" y="71.3">Historical</text><text class="lg" x="596.8" y="90.7">Grass Biomass</text><text class="lg" x="596.8" y="102.6">Maize Biomass</text><text class="lg" x="596.8" y="114.5">Sorghum Biomass</text><text class="lg" x="596.8" y="126.5">Precipitation</text><text class="lg" x="596.8" y="138.4">Temperature Maximum</text><text class="lg" x="596.8" y="150.3">Temperature Minimum</text><text class="lg" x="596.8" y="162.2">CH4 Emission</text><text class="lg" x="596.8" y="174.1">Livestock Sum</text><text class="lg" x="596.8" y="186.1">Milk Production</text><text class="lg" x="596.8" y="198">Meat Production</text><text class="lg" x="596.8" y="209.9">Maize Yield</text><text class="lg" x="596.8" y="221.8">Sorghum Yield</text></g></svg></body></html>
